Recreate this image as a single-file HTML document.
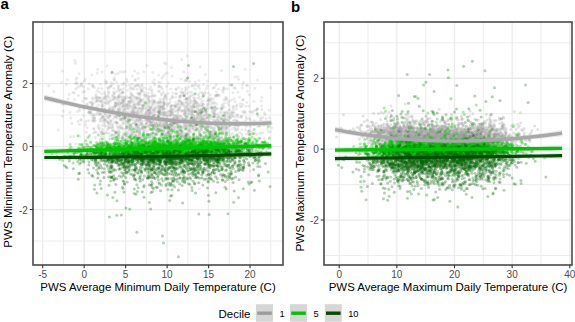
<!DOCTYPE html>
<html><head><meta charset="utf-8"><style>
html,body{margin:0;padding:0;background:#fff;width:575px;height:322px;overflow:hidden}
svg{position:absolute;left:0;top:0;display:block}
text{font-family:"Liberation Sans", sans-serif}
.tk{font-size:10px;fill:#4d4d4d}
.tt{font-size:11.45px;fill:#000}
.lg{font-size:9.3px;fill:#000}
</style></head><body>
<svg width="575" height="322" viewBox="0 0 575 322">

<defs><marker id="mA1" markerUnits="userSpaceOnUse" markerWidth="6" markerHeight="6" refX="3" refY="3" overflow="visible"><circle cx="3" cy="3" r="1.5" fill="#a0a0a0" fill-opacity="0.22"/></marker><marker id="mA5" markerUnits="userSpaceOnUse" markerWidth="6" markerHeight="6" refX="3" refY="3" overflow="visible"><circle cx="3" cy="3" r="1.5" fill="#00c000" fill-opacity="0.33"/></marker><marker id="mA10" markerUnits="userSpaceOnUse" markerWidth="6" markerHeight="6" refX="3" refY="3" overflow="visible"><circle cx="3" cy="3" r="1.5" fill="#006400" fill-opacity="0.3"/></marker><marker id="mB1" markerUnits="userSpaceOnUse" markerWidth="6" markerHeight="6" refX="3" refY="3" overflow="visible"><circle cx="3" cy="3" r="1.5" fill="#a0a0a0" fill-opacity="0.3"/></marker><marker id="mB5" markerUnits="userSpaceOnUse" markerWidth="6" markerHeight="6" refX="3" refY="3" overflow="visible"><circle cx="3" cy="3" r="1.5" fill="#00c000" fill-opacity="0.33"/></marker><marker id="mB10" markerUnits="userSpaceOnUse" markerWidth="6" markerHeight="6" refX="3" refY="3" overflow="visible"><circle cx="3" cy="3" r="1.5" fill="#006400" fill-opacity="0.3"/></marker><filter id="bl" x="-5%" y="-5%" width="110%" height="110%"><feGaussianBlur stdDeviation="0.45"/></filter></defs>
<clipPath id="c33"><rect x="33" y="22" width="250" height="243"/></clipPath>
<path d="M63.42 22V265M104.90 22V265M146.37 22V265M187.85 22V265M229.32 22V265M270.80 22V265M33 241.05H283M33 178.05H283M33 115.05H283M33 52.05H283" stroke="#ededed" stroke-width="1.1" fill="none"/>
<path d="M42.68 22V265M84.16 22V265M125.63 22V265M167.11 22V265M208.58 22V265M250.06 22V265M33 209.55H283M33 146.55H283M33 83.55H283" stroke="#ebebeb" stroke-width="1.3" fill="none"/>
<g clip-path="url(#c33)">
<g filter="url(#bl)"><path d="M122.9 124.3 142.2 129.0 218.7 120.2 137.0 113.5 165.0 127.7 219.1 137.8 105.4 80.5 127.9 106.9 248.4 124.1 221.2 149.5 126.2 125.7 164.6 119.4 137.0 136.5 131.9 130.1 144.0 136.3 222.0 128.5 249.2 118.2 186.5 125.4 197.7 128.1 154.8 112.4 236.2 109.0 171.7 173.8 142.8 136.3 141.4 122.9 150.9 112.9 170.9 162.3 156.4 127.3 194.9 100.2 216.2 124.8 119.8 111.8 169.1 104.0 173.9 109.2 81.3 120.0 174.7 117.9 120.9 128.1 115.1 104.2 193.0 109.8 143.1 99.6 227.3 117.0 134.7 163.9 62.6 104.2 112.6 128.0 158.8 106.1 132.4 95.6 207.7 117.8 182.1 130.8 159.5 111.1 83.3 91.9 81.5 85.4 222.2 104.8 155.2 123.2 213.4 119.9 95.2 108.6 101.9 88.4 199.0 149.7 166.8 148.3 195.7 102.5 79.8 86.0 129.8 102.8 105.4 113.6 108.5 94.0 172.2 121.9 168.4 132.0 99.2 98.1 212.6 143.9 163.1 113.6 79.6 110.5 139.5 114.8 247.6 91.0 156.3 144.2 207.1 117.2 75.3 83.2 75.7 89.0 129.9 107.9 185.6 138.0 193.7 97.5 132.5 123.2 242.3 87.9 96.8 109.6 126.6 96.3 120.6 97.3 212.9 132.4 238.1 125.1 122.6 93.1 163.2 127.1 171.4 105.4 227.0 128.2 142.7 105.3 102.6 107.3 112.0 107.6 139.7 92.7 217.9 139.2 206.1 140.4 163.8 153.4 200.1 67.1 166.4 127.7 224.6 102.8 267.7 129.0 126.3 123.5 185.5 136.2 138.3 78.4 174.6 135.3 219.3 141.8 223.9 116.2 194.3 111.4 148.2 111.0 119.7 132.0 153.2 116.8 210.5 107.7 134.3 128.9 111.0 82.8 110.5 121.3 85.3 98.4 191.0 118.4 219.2 129.2 108.9 92.6 149.8 143.5 88.9 109.0 181.2 143.3 132.6 107.6 122.6 147.3 100.7 98.1 144.3 128.6 183.6 104.7 167.1 127.1 204.9 93.9 123.6 118.2 107.6 117.6 152.3 129.0 139.5 124.4 185.2 148.3 123.1 111.4 105.4 143.1 183.0 123.7 248.6 133.4 207.6 130.0 164.7 135.5 92.8 114.7 226.6 126.5 193.7 119.6 141.5 91.0 154.4 125.1 128.4 102.0 194.4 106.8 179.7 106.8 206.8 127.1 198.2 86.3 131.8 142.2 206.3 133.9 159.6 113.8 104.3 123.3 109.6 109.5 178.0 109.6 187.8 123.1 208.0 129.1 151.0 109.6 145.8 124.3 211.7 133.9 172.1 152.4 244.0 112.4 162.4 88.9 136.1 134.8 171.5 132.2 155.4 95.4 166.9 143.0 127.1 133.2 104.5 102.4 220.2 123.4 143.6 106.0 174.2 147.1 191.0 108.7 138.5 129.3 113.5 92.2 185.2 107.3 252.6 133.6 197.3 102.7 210.7 127.5 219.7 142.2 123.3 122.3 226.5 148.9 114.4 117.3 186.5 139.8 148.5 97.0 118.4 132.6 184.8 99.4 214.2 110.1 215.2 153.6 177.2 123.8 219.1 128.6 149.7 129.3 201.1 126.5 97.4 73.1 148.2 121.1 204.1 145.1 189.7 139.0 216.1 133.2 184.9 80.8 260.2 132.9 84.3 81.0 176.4 147.8 159.0 128.3 149.0 125.5 210.0 131.6 160.2 114.7 153.6 111.4 206.8 126.5 167.1 144.9 178.8 118.3 166.1 121.1 141.9 105.4 192.3 139.2 118.8 90.7 164.2 114.4 208.3 146.0 123.7 99.9 174.8 139.5 129.2 128.5 180.9 127.1 211.4 118.6 75.4 63.3 178.5 125.9 159.4 110.0 124.9 106.5 164.9 124.9 95.3 137.4 213.5 123.1 160.8 156.9 170.7 114.0 131.7 142.4 217.9 118.4 185.5 103.1 144.3 131.0 158.5 108.6 214.7 102.6 248.3 143.8 98.0 148.5 94.8 120.9 162.7 114.9 203.0 142.0 102.4 111.1 101.7 106.8 122.6 101.4 163.6 98.8 224.6 116.8 160.5 134.9 120.2 119.5 147.3 147.5 178.7 109.3 198.9 85.3 187.1 146.8 153.6 109.2 253.7 110.7 245.3 69.3 194.2 85.2 192.7 129.5 154.5 100.2 105.6 97.0 193.8 154.4 112.3 109.6 171.7 125.2 200.5 92.2 238.0 128.0 185.7 112.9 140.9 89.8 237.1 105.1 207.9 145.8 209.8 123.5 171.9 113.7 127.2 105.1 148.1 122.2 129.6 97.3 199.5 135.8 135.9 123.8 191.0 95.2 128.2 119.9 186.9 147.2 261.7 97.2 122.3 137.5 200.6 135.3 148.9 113.2 257.4 108.6 206.7 108.7 119.3 95.1 149.0 103.3 179.9 110.1 177.4 119.5 117.0 118.2 162.8 129.3 199.0 80.5 182.0 104.6 185.1 116.2 228.9 101.5 231.0 113.4 251.0 112.1 186.1 116.7 133.5 104.3 202.7 118.9 167.2 143.0 147.6 112.4 96.0 97.3 173.3 119.3 132.1 119.2 68.2 98.7 170.9 120.6 206.7 142.8 146.6 118.1 179.2 134.2 210.6 145.7 132.8 107.7 89.7 102.6 166.7 103.7 151.4 122.8 169.1 111.3 160.1 116.4 225.6 112.7 70.7 118.1 118.5 96.0 176.8 133.2 137.9 152.4 132.5 116.4 145.3 144.3 137.0 98.2 167.7 142.3 167.7 118.3 155.8 148.6 203.4 115.5 130.1 88.9 171.8 126.3 139.3 94.5 166.3 122.5 132.1 135.7 160.4 124.0 120.0 128.1 171.6 109.2 126.1 104.4 205.4 92.0 204.8 137.2 124.6 116.3 190.7 132.6 215.8 137.7 102.9 116.5 227.2 113.4 164.0 107.5 186.1 102.3 201.5 128.4 246.1 126.2 128.6 122.6 114.1 175.0 161.2 118.8 170.3 119.4 178.8 130.8 137.6 113.0 163.4 99.6 211.7 145.7 105.9 104.0 186.2 133.4 97.2 112.3 116.8 116.6 167.8 124.7 172.9 93.1 201.7 124.8 169.8 124.8 246.1 143.5 143.3 87.4 106.0 102.6 157.2 118.2 98.4 125.0 237.9 129.8 124.1 84.1 250.2 139.3 113.0 130.3 190.0 96.5 185.6 139.8 161.4 106.5 135.2 80.5 101.3 132.6 172.7 138.6 67.3 79.6 165.0 95.3 207.2 86.0 165.4 114.8 123.6 110.4 191.3 142.8 220.8 128.0 166.1 120.3 132.1 109.8 210.8 138.8 214.3 127.3 203.4 104.3 107.2 82.0 128.5 103.6 184.2 106.1 186.5 93.4 247.2 159.3 235.1 88.3 136.0 116.2 118.2 143.4 217.8 117.1 170.8 106.7 169.4 130.4 166.0 97.3 168.5 103.2 125.4 71.5 214.4 123.6 118.0 112.6 210.4 131.5 240.5 142.6 197.6 115.0 112.3 72.2 157.2 129.8 193.4 137.0 182.8 118.4 210.4 135.5 116.3 103.3 165.5 124.1 189.9 130.9 208.2 132.3 231.2 122.4 133.5 89.1 171.1 155.8 213.1 88.3 164.0 112.5 239.5 97.0 178.8 104.3 245.2 112.4 102.0 125.5 151.6 133.5 124.3 99.3 172.7 110.0 203.5 84.6 149.9 177.0 130.4 126.3 131.7 163.2 135.1 79.4 177.5 133.8 185.9 148.8 161.5 107.3 160.6 105.7 170.9 143.7 238.6 136.9 153.0 122.4 219.3 95.6 170.2 134.7 176.5 122.1 130.0 97.2 208.1 121.0 179.0 128.4 163.0 118.1 194.9 98.3 214.4 123.6 137.4 98.0 154.7 137.0 160.4 125.1 120.8 125.7 211.1 104.6 158.6 139.8 186.4 152.8 171.1 112.5 240.3 103.5 216.3 84.5 230.1 154.0 255.4 147.3 186.4 98.2 155.5 107.1 147.6 126.5 145.8 112.5 108.2 91.0 122.6 103.1 90.7 141.4 240.5 124.4 154.8 115.2 179.6 100.6 138.4 93.8 203.3 120.5 200.4 112.7 164.0 126.6 150.5 134.2 134.4 111.7 139.0 143.0 181.2 159.6 126.0 140.0 195.7 111.7 251.2 122.2 147.7 119.8 198.4 94.3 241.0 117.2 77.6 111.6 93.0 86.5 138.8 116.9 225.4 153.9 209.8 135.0 210.9 133.7 266.1 118.5 128.9 117.5 199.0 113.5 121.5 114.1 172.9 125.9 172.0 127.0 208.6 126.7 133.5 123.5 160.3 146.3 111.5 127.6 134.1 106.2 257.3 144.6 225.5 99.2 200.6 116.3 172.2 124.1 223.4 153.1 137.6 120.2 184.4 128.1 214.8 114.0 94.5 87.5 195.1 103.9 201.6 109.7 224.3 107.1 182.0 89.0 48.7 85.8 204.5 111.5 222.6 133.9 209.2 121.3 228.3 113.0 204.5 153.9 223.9 88.0 116.2 115.6 148.3 105.4 165.5 160.5 151.2 115.9 199.2 143.5 230.0 125.7 185.2 142.8 186.4 141.9 211.1 154.6 108.1 88.6 136.7 130.0 165.1 140.6 247.6 152.3 189.3 125.1 149.1 89.2 112.9 114.5 193.1 139.3 171.7 123.3 147.8 131.0 189.7 126.9 171.4 134.9 226.7 98.0 117.9 73.4 102.0 117.6 126.2 132.3 260.7 119.6 131.7 113.6 164.0 101.7 246.2 133.9 143.3 120.7 242.2 123.9 109.5 114.9 228.7 116.5 86.9 98.6 127.0 106.8 191.2 155.3 214.2 113.4 234.2 120.2 171.0 155.6 216.5 122.3 169.2 133.0 170.8 122.9 106.6 132.8 257.3 109.2 160.6 107.2 160.0 100.9 96.9 100.3 98.6 100.3 78.4 95.2 171.4 97.7 205.4 122.3 204.1 106.9 231.9 145.4 212.5 108.8 224.3 126.7 202.5 93.0 213.6 113.8 176.4 136.8 97.1 101.3 152.6 126.1 191.8 101.0 112.7 111.2 263.8 125.3 167.1 119.9 102.1 130.9 143.6 115.1 136.3 120.3 148.7 116.3 130.8 95.1 173.4 142.3 123.2 115.7 216.9 95.7 131.1 118.3 152.8 125.0 140.3 112.8 261.3 101.1 124.7 112.8 116.3 91.6 153.4 136.9 110.3 86.9 163.1 125.0 137.0 104.4 148.1 98.4 151.0 129.9 152.6 81.9 186.6 117.2 165.3 127.1 116.6 82.3 153.4 104.3 161.9 78.1 164.2 118.4 132.2 138.6 258.0 115.9 187.6 154.2 114.8 97.0 105.0 109.2 151.5 161.0 175.1 123.2 164.4 136.6 221.1 157.5 145.3 134.3 169.0 135.9 219.2 121.7 188.3 139.7 186.9 99.0 189.8 81.6 118.4 103.0 78.1 121.3 177.9 121.5 182.6 121.5 214.6 139.6 220.0 128.9 208.9 99.6 196.1 137.4 197.3 106.1 171.4 124.9 192.6 140.6 169.1 125.6 164.3 103.7 141.1 118.7 136.0 127.2 211.2 127.6 217.5 142.3 191.4 118.7 133.5 99.0 175.5 102.2 113.9 79.4 119.1 101.6 208.4 164.2 238.1 116.9 201.3 148.4 154.0 126.5 186.9 135.4 84.7 98.1 166.8 121.2 63.3 111.2 204.4 121.9 165.5 149.2 159.2 137.5 150.0 107.3 159.9 86.2 157.1 130.2 186.5 98.7 139.4 121.3 132.0 94.3 195.9 145.1 227.9 119.7 120.7 92.9 222.9 145.9 176.7 121.4 114.2 130.7 160.6 125.7 194.1 116.5 127.8 121.5 231.0 136.5 145.0 115.0 204.6 137.4 222.2 131.2 129.6 129.8 174.1 117.5 157.3 134.6 99.1 128.0 139.3 135.3 186.8 144.4 185.6 115.4 150.8 101.6 177.0 124.8 96.3 132.5 205.2 153.0 117.4 122.7 171.8 129.2 108.8 112.5 139.6 119.1 128.9 106.2 137.2 132.2 218.5 89.1 144.2 137.1 201.2 129.7 122.6 118.3 264.1 138.7 166.1 160.0 203.0 104.3 181.7 59.4 190.6 102.4 113.9 146.4 159.3 119.6 206.3 128.4 209.2 102.1 220.1 121.9 156.1 123.2 194.0 137.5 246.0 116.9 154.7 125.9 194.4 117.9 146.2 111.1 151.2 118.2 161.1 120.9 101.9 117.2 190.0 124.0 221.3 149.1 130.8 155.8 128.8 119.9 171.4 108.9 83.6 115.7 162.6 134.8 200.7 122.8 145.6 137.4 146.6 137.2 268.2 132.0 182.0 120.9 195.6 124.1 144.8 95.3 193.8 129.4 159.5 147.4 118.2 133.4 143.8 130.4 128.0 120.2 116.8 136.8 148.5 109.5 172.0 112.5 178.7 137.0 195.8 102.5 222.2 127.3 79.3 124.3 169.4 131.3 85.9 121.2 164.3 102.4 132.5 127.9 76.9 84.1 92.2 102.4 175.2 122.5 210.9 115.1 90.4 113.0 223.9 132.1 120.0 137.6 113.2 96.0 172.0 76.1 99.2 128.9 163.8 119.8 186.5 89.1 270.6 87.8 135.0 86.6 214.3 124.7 180.8 96.3 188.0 120.4 123.6 132.6 202.9 116.8 153.2 110.2 158.5 91.6 160.4 129.4 219.9 139.3 207.3 116.4 252.7 112.5 62.4 70.9 219.8 116.6 180.7 130.1 173.0 119.7 221.4 70.4 158.2 153.8 122.7 114.4 138.9 84.9 86.8 104.2 186.6 137.9 143.2 127.5 106.9 96.6 187.4 139.3 166.1 115.1 102.2 109.4 123.1 102.0 122.4 99.1 164.4 104.5 102.7 105.5 129.5 101.4 117.0 114.0 156.3 134.9 64.3 104.1 196.7 111.9 122.1 96.4 185.4 87.6 126.4 120.7 206.5 141.2 152.2 136.5 158.9 114.8 153.3 154.8 163.5 145.2 221.9 119.0 152.2 112.9 167.1 147.8 97.2 98.1 152.8 117.0 114.3 99.0 194.0 102.9 164.9 122.2 92.2 107.9 100.7 101.3 196.3 141.6 142.8 107.1 177.6 149.0 178.5 100.8 182.7 111.3 92.6 120.6 125.3 114.3 230.3 133.6 115.4 105.9 208.4 100.0 164.4 123.8 197.0 117.2 152.0 95.7 134.8 117.2 236.3 106.3 80.8 119.4 218.5 127.5 195.5 107.2 164.4 97.1 184.6 143.3 152.3 119.5 234.1 99.1 115.2 105.4 140.0 130.6 164.6 112.4 239.7 132.7 213.4 99.0 152.8 132.4 112.1 130.8 237.0 121.1 142.0 116.9 147.3 117.6 169.7 135.8 123.0 100.4 127.4 117.5 147.8 137.4 166.0 63.8 119.6 103.3 136.3 125.1 202.4 106.4 140.2 133.1 122.5 91.8 110.9 85.8 233.2 109.6 223.1 105.1 194.2 100.9 242.5 84.8 187.4 56.1 191.9 162.8 96.1 94.6 128.4 113.8 188.9 87.1 200.9 116.6 249.7 111.5 141.5 121.3 186.3 98.7 140.8 100.1 246.8 118.8 254.8 88.2 97.7 69.4 123.6 101.8 226.1 123.0 203.4 131.9 137.9 73.3 130.5 127.9 115.8 102.7 152.3 129.6 204.7 135.0 206.7 135.7 129.6 84.9 165.8 125.2 231.5 153.2 98.0 127.0 208.1 147.5 196.2 128.7 176.0 129.1 126.3 85.8 139.5 132.2 170.0 140.2 92.7 103.4 223.6 87.5 121.2 119.0 186.0 133.8 137.0 89.3 129.4 144.8 170.7 119.8 163.8 126.3 188.1 108.9 191.4 112.3 238.9 125.6 214.9 128.9 180.8 119.4 150.9 123.0 136.2 125.1 192.0 120.3 169.8 116.0 176.3 88.7 119.2 104.9 151.7 133.7 125.2 108.7 139.2 127.9 222.4 90.2 157.5 111.3 173.8 130.8 131.5 132.1 146.1 103.9 167.1 134.6 191.2 143.6 122.5 115.1 194.1 137.1 220.1 123.0 210.5 116.8 158.7 85.7 176.4 93.8 121.4 89.6 181.5 133.5 102.5 99.8 258.5 139.8 143.3 125.7 199.5 132.4 125.5 135.5 146.2 153.3 158.4 102.4 206.4 121.3 186.0 136.1 118.5 108.0 91.1 112.5 197.4 108.3 175.0 127.1 184.8 111.8 226.6 166.6 234.1 87.8 133.5 101.8 211.8 134.4 141.6 138.7 214.2 164.5 220.6 132.3 237.0 136.5 163.6 125.5 225.1 129.6 151.5 117.2 160.5 153.5 137.8 150.2 193.9 106.7 216.0 124.3 203.1 100.7 165.6 143.0 166.6 127.1 228.1 146.3 205.3 74.6 144.9 151.7 205.8 143.4 135.3 108.6 61.7 82.4 75.7 143.8 166.8 137.9 145.3 159.8 155.9 102.9 148.0 106.8 201.9 127.1 178.7 142.1 202.5 124.2 151.7 122.2 191.5 117.7 115.5 132.9 166.1 98.9 184.2 141.1 232.8 133.7 146.2 122.5 214.0 107.0 170.8 122.0 223.0 92.3 208.5 100.5 153.6 128.8 114.2 94.0 190.8 142.5 237.9 148.1 158.9 87.0 231.8 112.6 79.1 73.8 83.3 108.9 227.6 132.8 188.9 136.0 185.3 90.4 95.9 96.5 162.5 149.6 207.1 140.6 176.9 136.0 110.1 136.2 213.6 103.6 208.1 126.3 97.9 97.4 195.0 119.2 127.1 145.9 142.1 128.0 124.3 133.8 105.0 93.7 149.5 110.7 163.7 130.8 118.6 86.9 152.8 72.4 191.5 140.3 199.5 157.5 176.6 116.4 265.1 114.5 103.0 144.6 130.6 139.0 227.3 140.5 106.6 99.7 137.0 111.3 153.9 143.6 132.2 133.8 123.3 136.1 173.9 120.6 154.2 79.6 132.6 88.4 125.1 98.3 217.1 145.2 144.8 97.1 169.7 134.2 209.3 138.0 180.6 100.9 172.2 124.6 220.9 109.0 123.6 103.4 137.8 128.0 164.0 116.3 150.6 107.1 129.9 116.4 127.9 137.2 140.4 92.9 250.8 134.2 169.3 134.9 177.1 131.1 119.4 96.2 191.9 117.9 195.0 88.7 179.8 149.0 211.7 131.5 193.1 119.9 234.8 128.8 193.3 149.5 162.4 138.6 138.0 126.9 92.4 118.1 200.4 126.4 192.7 128.0 93.8 129.0 154.4 150.6 243.0 99.4 105.5 83.4 152.1 118.0 133.7 96.2 130.8 98.2 101.9 93.8 217.7 135.5 96.4 107.1 104.7 120.1 207.3 153.0 143.2 141.6 132.6 111.5 202.7 123.0 124.3 105.7 98.4 108.5 193.4 119.2 221.0 118.0 138.7 136.4 156.9 133.0 181.1 78.9 95.6 102.1 231.2 100.3 158.4 128.5 175.3 119.3 123.9 88.5 114.1 106.5 224.7 113.1 153.7 101.5 129.7 115.5 247.5 146.6 248.2 148.2 263.8 147.5 189.8 148.6 180.6 160.4 159.5 141.2 212.3 136.3 124.0 83.1 210.5 138.8 134.0 114.0 191.8 125.6 147.1 120.2 95.0 131.8 206.2 113.5 107.5 121.5 169.9 99.4 200.4 117.7 213.0 148.4 190.4 106.0 142.7 140.3 177.8 153.3 246.7 85.2 138.3 104.8 83.4 86.8 141.4 123.5 92.9 116.0 223.5 140.7 179.4 130.8 107.8 122.6 126.4 143.7 148.0 93.2 219.8 141.8 214.6 106.7 127.0 136.3 193.2 120.2 194.9 140.2 254.5 132.8 159.8 122.3 225.3 134.2 259.9 126.0 241.8 129.7 195.8 139.8 148.9 118.7 188.2 121.3 174.5 105.7 163.2 124.5 253.5 146.5 161.8 132.0 153.4 120.1 169.8 125.0 163.0 106.3 106.0 82.5 135.6 108.1 193.2 113.7 200.1 110.6 205.4 127.6 215.1 121.3 197.8 106.3 255.9 110.4 175.2 149.9 229.4 126.3 195.4 126.2 206.5 118.0 139.6 87.6 85.2 79.1 212.5 137.0 122.2 84.5 150.8 125.6 88.3 88.8 222.5 115.6 112.5 110.5 212.6 135.7 139.5 97.2 200.0 108.5 164.6 146.2 225.9 97.2 137.9 117.5 206.2 111.2 211.4 136.3 191.5 122.0 150.2 119.0 148.3 170.6 216.1 95.0 171.0 109.0 125.2 116.4 114.4 77.8 159.5 90.9 118.3 88.5 210.1 142.7 101.9 71.9 144.8 108.2 137.3 85.2 152.2 133.1 219.3 124.1 181.8 135.5 104.6 119.9 188.1 137.4 139.1 132.9 233.3 106.2 211.2 125.4 124.2 118.8 178.5 156.5 128.5 112.4 140.9 138.3 160.8 101.5 201.2 129.3 118.1 104.7 146.5 123.6 155.9 134.8 122.3 137.6 192.8 105.6 118.7 112.3 218.8 144.8 224.2 120.3 137.8 98.1 173.5 119.3 170.5 106.6 173.7 128.6 101.2 146.4 161.3 144.5 218.6 130.0 181.5 118.0 118.5 97.4 154.5 83.3 145.2 117.7 179.5 120.1 114.1 97.7 190.0 118.4 197.6 128.9 183.7 120.1 202.9 94.0 176.4 122.6 183.2 152.8 210.5 95.0 216.7 126.1 173.0 97.6 155.4 129.7 205.8 161.2 172.2 132.4 163.3 147.3 177.9 118.4 134.6 113.2 251.6 131.8 233.0 92.8 190.4 143.1 86.2 132.3 228.1 121.6 269.4 110.3 201.3 121.3 201.3 137.7 124.8 97.4 206.0 162.1 238.8 148.0 151.0 124.9 159.3 154.5 198.0 124.2 111.4 121.5 135.5 120.8 222.6 123.1 229.8 115.0 196.1 120.5 203.1 122.3 199.7 158.7 154.5 124.9 102.7 128.9 136.7 130.3 163.5 167.9 190.1 144.0 148.9 126.2 81.5 84.0 170.3 144.2 128.2 148.8 246.5 124.3 150.9 87.1 162.9 106.7 189.3 129.1 102.2 105.2 207.8 138.3 224.8 120.2 127.7 121.3 214.6 87.3 192.1 138.8 116.0 104.8 116.4 106.4 170.3 123.6 147.1 115.0 120.3 71.8 172.4 146.4 166.4 116.5 160.3 102.7 129.0 133.5 192.0 145.2 162.2 151.6 199.7 88.5 170.3 111.2 119.1 126.0 200.0 133.4 108.7 118.0 215.3 117.3 185.9 138.3 212.0 111.5 159.4 106.7 183.8 95.9 69.2 94.6 103.5 97.6 142.9 109.0 122.2 92.8 182.1 110.8 185.9 126.1 107.7 122.3 181.2 131.9 183.2 119.8 181.3 136.5 125.3 115.8 122.3 128.3 183.7 120.8 149.9 119.7 118.8 109.2 246.9 102.6 162.6 118.5 140.0 148.8 72.8 92.3 183.3 119.3 201.9 118.5 145.8 119.2 157.9 132.1 137.7 141.7 102.5 102.0 143.8 102.8 145.4 148.9 211.1 133.8 149.3 154.1 139.7 148.4 163.2 102.8 176.8 124.1 142.3 90.5 230.7 152.4 236.5 121.5 139.9 99.0 233.1 107.3 126.6 79.2 149.7 110.4 168.2 112.0 184.3 113.8 186.3 108.9 158.4 113.5 223.3 123.9 193.2 125.7 152.2 105.9 189.7 130.4 155.3 134.4 261.5 105.9 168.6 125.1 186.0 127.8 82.6 100.9 94.4 118.2 150.2 135.2 141.1 99.8 189.9 100.7 139.3 133.8 208.1 126.9 130.9 106.0 154.3 96.0 261.8 109.4 256.8 109.5 185.9 129.1 235.5 119.6 181.9 101.9 151.0 138.4 158.4 102.1 92.9 104.1 175.5 131.6 195.2 111.0 138.8 107.9 177.6 131.7 157.3 122.0 182.4 135.9 224.2 127.5 228.0 143.7 140.6 143.0 175.4 105.3 142.4 145.5 214.8 148.5 107.6 129.4 115.5 74.1 103.5 137.7 195.7 130.3 242.1 136.6 175.8 106.2 218.0 137.1 152.9 95.4 137.3 116.5 144.5 92.7 133.3 109.7 207.4 123.8 182.0 144.1 159.0 129.9 201.1 125.6 236.2 129.2 134.6 105.1 178.3 121.8 108.0 96.3 98.5 112.6 124.6 119.7 157.6 102.8 207.9 117.5 105.4 95.8 205.0 115.4 139.0 125.9 197.2 118.2 177.8 112.9 173.1 118.2 151.6 90.9 137.0 153.6 221.0 118.8 205.2 120.6 99.2 92.0 69.9 112.6 180.3 116.3 187.7 134.2 109.4 139.0 223.8 141.9 127.4 90.5 217.8 149.1 166.3 113.0 101.2 136.8 112.6 98.8 121.0 102.7 199.3 120.5 241.8 133.9 66.4 103.1 142.4 111.4 127.6 121.6 169.3 158.3 105.5 98.5 215.7 122.8 222.4 126.3 270.2 131.7 157.0 182.0 218.5 126.8 208.0 130.6 134.8 107.3 198.6 118.3 130.6 129.5 197.5 113.4 171.7 124.4 142.0 113.4 115.8 116.0 213.9 113.2 143.0 105.6 53.9 91.4 184.4 93.1 160.1 98.8 231.7 114.7 166.1 128.0 232.2 128.6 158.9 117.4 230.0 122.1 258.7 137.9 163.8 139.2 186.1 112.7 189.6 120.5 109.2 109.2 189.7 153.2 109.3 142.5 181.3 116.2 202.2 104.2 208.2 104.0 197.8 113.2 109.4 97.9 219.6 150.2 215.4 106.8 142.4 107.6 163.3 161.1 226.9 100.1 130.8 92.6 113.1 119.3 210.4 145.2 211.1 98.5 239.4 121.9 114.5 135.0 140.2 129.8 197.7 112.5 206.2 131.5 191.4 91.9 129.9 128.7 192.7 107.2 98.7 88.3 153.2 114.7 159.0 107.7 214.6 135.1 161.3 94.9 186.9 119.3 188.1 132.9 196.1 121.3 254.0 101.3 155.3 121.3 186.8 149.1 193.4 139.9 137.7 93.2 140.5 118.6 236.7 140.6 224.5 118.9 123.0 106.1 95.5 98.5 180.1 130.0 173.1 118.2 114.6 109.3 109.7 109.2 167.3 115.9 153.7 117.3 242.6 122.2 93.4 133.0 187.0 139.0 210.9 100.8 185.0 122.5 116.6 123.1 112.2 95.5 238.7 79.2 158.7 75.0 119.0 112.8 141.4 110.7 197.6 137.7 241.7 106.6 187.1 101.4 185.0 129.5 177.1 146.2 238.0 138.6 222.4 118.7 169.7 147.1 229.2 105.5 146.1 118.0 181.6 131.9 146.0 117.0 223.2 138.8 139.6 102.1 205.8 126.6 143.6 105.5 180.7 91.9 183.8 125.7 194.6 119.6 178.9 163.8 139.6 103.4 208.0 114.5 218.0 114.5 182.2 131.4 172.9 130.5 131.9 161.0 181.5 120.4 88.7 120.5 233.3 121.1 148.6 115.0 149.6 113.8 188.9 141.8 138.0 102.4 237.4 115.3 219.6 132.8 172.3 144.4 170.1 130.0 226.5 152.0 153.2 116.5 199.1 132.1 135.4 85.6 195.7 105.1 215.2 135.7 164.5 129.2 197.4 129.6 147.1 134.1 148.9 102.0 170.6 128.8 172.3 164.4 198.6 131.1 119.1 160.3 185.1 124.3 192.1 111.1 94.5 117.7 114.4 144.4 168.2 127.6 118.3 97.6 79.5 108.2 175.8 153.3 100.7 132.1 166.2 121.0 235.7 125.7 149.2 113.2 215.4 138.1 197.6 182.5 175.1 126.8 92.7 85.0 172.6 105.5 99.2 143.4 122.0 127.7 216.6 139.0 141.9 89.5 223.9 119.8 181.3 153.4 181.7 135.8 109.3 86.9 163.1 109.0 225.5 125.7 153.7 149.1 119.6 145.7 134.6 71.1 128.1 123.0 176.8 143.8 187.9 130.6 123.2 71.9 118.2 85.4 104.2 98.6 145.9 127.0 181.6 105.1 184.4 95.3 138.8 117.9 226.6 132.1 127.0 112.6 135.5 108.1 222.0 134.3 174.6 161.1 132.5 84.1 242.4 111.4 185.5 136.2 150.2 113.1 190.6 106.7 114.2 93.1 135.7 122.8 170.6 129.0 192.4 127.0 208.7 114.8 155.9 162.4 161.5 87.3 178.9 126.7 180.2 121.9 108.5 125.4 180.3 135.4 135.2 113.0 193.1 127.6 197.6 123.0 162.1 133.5 187.6 104.0 141.9 128.2 184.6 114.6 135.3 135.0 110.6 100.5 121.2 103.2 221.4 112.4 155.7 133.4 214.6 123.9 195.2 116.3 114.0 88.5 257.8 126.4 199.4 114.7 157.5 119.3 178.7 139.1 208.8 149.8 159.1 144.0 204.7 108.1 185.4 161.6 102.9 116.8 172.2 145.5 218.8 124.7 214.0 130.4 197.8 103.4 203.6 119.0 185.3 139.1 135.7 103.5 135.7 125.5 192.3 111.6 168.2 131.1 103.2 148.0 156.5 107.7 160.9 126.3 243.5 82.2 132.3 113.1 150.7 144.7 189.6 130.8 77.0 77.8 100.8 113.6 127.3 126.2 120.9 118.2 253.1 123.0 142.6 127.3 118.5 134.2 136.9 143.4 124.0 96.9 183.7 71.7 108.8 103.6 152.2 93.2 198.9 110.2 158.8 114.0 170.2 146.7 145.6 116.9 208.9 118.7 166.5 123.3 168.7 127.4 117.9 112.0 104.6 111.2 167.9 125.6 219.1 132.7 237.6 125.6 269.5 117.8 177.9 115.4 197.5 115.7 242.8 104.4 176.2 110.7 235.1 102.0 179.8 97.7 167.6 134.5 204.2 122.6 112.6 111.9 117.9 110.0 203.5 136.4 132.6 76.0 233.8 158.3 215.8 134.2 154.5 108.1 177.6 151.3 121.5 120.0 158.1 116.8 238.4 137.1 191.5 111.4 185.3 153.8 155.6 140.5 216.3 91.7 183.5 119.3 228.5 120.0 209.7 158.1 109.5 123.4 216.3 114.3 202.4 144.4 227.7 139.9 193.5 105.8 126.9 135.9 225.0 123.6 149.8 124.8 128.7 138.8 163.2 119.6 124.6 109.8 211.5 160.2 152.6 100.1 238.5 141.1 123.8 129.2 176.7 118.2 113.0 99.9 178.0 103.4 179.0 149.0 177.3 122.3 84.4 91.2 178.5 133.1 189.3 134.8 139.5 118.1 154.4 101.3 146.7 102.8 213.4 116.7 118.8 116.2 93.9 128.6 228.8 138.0 201.7 154.4 165.5 96.4 148.0 110.2 235.8 124.8 184.7 126.0 91.0 101.9 136.0 151.3 179.7 96.3 201.8 110.7 209.6 137.6 149.6 121.1 195.7 84.4 206.1 108.6 215.4 96.6 117.2 111.2 155.5 134.1 142.5 124.0 135.7 97.2 145.4 113.2 182.0 131.7 195.8 171.4 130.3 101.1 188.0 104.2 206.0 123.5 236.4 122.8 217.0 125.3 195.3 145.4 186.6 116.5 135.5 138.5 232.7 125.1 201.8 119.0 182.0 121.4 86.9 127.6 170.1 137.5 171.9 114.5 127.1 139.4 164.5 138.1 206.5 114.4 153.4 128.4 148.5 110.5 89.9 109.7 137.2 113.9 189.8 128.3 172.2 141.0 266.0 150.0 206.3 111.4 241.6 115.9 199.4 137.3 237.8 92.2 74.5 99.6 123.0 112.3 108.3 101.2 225.4 138.3 130.6 127.5 200.8 133.9 104.3 113.3 154.1 102.0 227.1 111.6 131.1 131.5 97.1 90.8 146.9 65.4 212.1 138.1 176.0 93.4 150.5 141.5 100.1 119.2 112.7 109.9 180.5 163.1 177.8 125.4 158.7 112.3 196.0 101.4 241.2 116.6 191.0 113.8 128.5 154.8 210.5 124.3 156.9 123.9 163.4 76.1 242.8 100.2 226.7 137.9 81.2 83.3 140.3 137.3 194.7 112.0 191.5 140.4 198.2 98.3 127.2 105.1 175.9 96.9 174.8 106.7 254.4 124.6 164.8 132.3 109.9 116.4 203.7 121.5 135.4 106.8 126.3 104.6 169.8 120.4 191.7 109.6 127.9 130.8 155.2 115.0 211.7 150.0 187.7 116.6 188.9 125.5 182.0 94.8 170.9 129.9 103.1 121.3 79.4 136.2 116.7 99.6 238.3 149.2 179.9 96.1 184.7 146.0 190.3 137.0 85.6 146.1 117.9 113.6 174.6 111.6 141.4 85.9 124.6 100.8 209.3 121.9 153.2 130.3 170.2 124.9 186.1 80.8 227.2 88.7 163.8 104.8 180.4 144.0 192.3 117.2 177.7 107.0 223.4 143.3 146.2 107.9 133.9 104.9 216.3 123.5 111.4 124.8 89.2 83.4 144.6 127.1 188.6 111.3 140.6 100.1 179.4 133.3 185.1 110.8 165.5 94.7 198.0 110.1 201.9 127.4 137.7 110.6 170.3 123.5 117.1 123.5 236.7 123.4 128.5 119.1 137.6 127.1 62.6 116.3 177.5 146.3 161.5 111.8 163.6 130.3 189.9 103.5 184.3 122.2 199.6 119.3 213.4 128.8 178.8 101.0 131.3 141.8 148.1 118.4 163.3 112.3 193.2 139.0 110.3 120.0 149.7 123.7 75.0 60.4 111.4 85.8 151.9 103.8 186.4 79.4 247.6 85.8 194.1 106.7 155.2 115.8 218.1 148.3 215.4 144.0 225.7 130.1 245.5 129.8 163.1 108.2 241.0 141.8 163.2 102.3 164.9 133.0 130.6 115.5 129.8 136.5 176.6 118.0 144.1 151.6 259.8 125.2 157.7 105.2 147.0 150.8 94.4 114.5 174.6 139.6 140.7 124.9 220.8 137.2 189.0 110.0 224.1 89.5 138.2 108.4 191.3 125.0 199.4 188.9 115.0 131.8 250.4 119.7 118.2 128.0 215.2 111.0 173.0 114.4 167.3 119.1 210.2 123.9 130.2 105.6 130.9 102.5 229.5 136.1 123.9 109.0 100.3 139.3 110.1 101.6 76.9 82.2 171.5 106.1 196.6 120.8 235.6 116.6 183.8 109.7 140.0 119.9 144.0 71.8 161.7 114.1 112.9 108.0 210.3 132.6 188.1 107.8 153.0 119.4 153.5 102.7 121.1 103.9 164.3 144.8 192.9 120.6 145.5 101.6 149.2 100.2 216.9 120.1 58.2 129.9 180.8 137.3 192.0 85.8 185.5 109.0 149.2 96.2 250.2 170.7 136.5 114.9 97.1 100.6 148.0 116.0 186.3 106.3 140.0 94.5 128.5 101.6 216.7 141.8 122.0 143.2 149.9 121.6 128.5 145.2 212.8 123.7 208.4 93.1 221.5 138.1 136.3 100.0 164.7 108.8 212.7 131.3 207.7 123.5 227.5 142.9 147.6 118.1 138.0 104.2 157.8 131.7 156.4 119.8 129.1 121.0 207.1 106.1 76.0 79.2 100.3 121.5 167.1 139.5 188.9 114.3 106.5 114.7 121.1 109.1 130.9 97.9 92.6 105.7 224.0 112.3 110.4 138.9 181.0 126.9 205.0 127.5 170.3 115.4 109.0 109.4 137.4 120.0 193.9 149.3 162.3 113.1 74.3 93.1 90.9 113.9 217.1 120.3 106.2 120.1 188.9 138.3 128.6 125.4 102.0 134.6 249.0 134.8 123.7 150.8 119.7 111.0 144.2 94.7 206.2 112.1 178.9 124.1 195.1 131.2 137.6 145.2 187.4 126.6 146.3 95.3 159.8 110.1 73.7 136.5 118.4 143.8 214.8 120.2 159.7 146.7 216.2 154.1 246.0 106.2 106.8 144.3 234.7 127.1 233.4 116.3 170.5 102.1 121.4 140.7 162.1 121.8 207.1 100.9 202.4 158.3 216.4 142.3 158.3 123.8 178.4 128.2 129.6 124.3 167.2 105.6 110.3 115.3 116.9 121.8 223.2 150.2 123.6 105.2 118.5 100.1 221.7 137.6 163.5 92.3 158.1 125.4 149.2 116.1 136.8 118.6 237.3 120.9 171.8 121.1 234.9 77.0 117.2 113.1 174.5 115.3 168.1 83.1 167.2 72.7 229.5 140.5 121.7 99.7 158.0 117.6 130.2 111.7 160.1 122.6 153.0 121.2 109.6 106.7 99.3 114.5 143.8 105.3 145.9 88.5 104.4 119.3 167.9 132.6 198.0 124.2 164.3 63.1 143.0 108.9 143.4 162.7 183.4 136.1 180.8 145.8 91.6 105.5 139.7 111.2 229.3 130.4 183.6 136.4 194.9 139.3 142.2 84.6 249.4 130.3 123.8 122.8 132.5 112.8 94.1 117.3 217.4 108.5 171.3 133.9 175.3 144.8 171.0 111.2 162.9 120.4 146.3 123.8 155.4 142.1 85.4 124.6 205.4 119.6 100.8 114.1 229.3 109.5 238.0 135.1 188.1 156.4 119.0 113.1 137.9 112.3 127.0 108.4 219.3 122.1 106.8 141.4 224.4 115.0 129.7 161.8 149.0 100.8 216.0 123.1 222.1 107.7 175.0 150.7 103.1 109.7 133.6 147.9 201.6 105.7 178.6 121.4 246.5 148.1 166.6 86.2 154.0 124.8 186.2 142.7 186.7 154.1 218.5 94.9 133.2 117.6 122.4 119.4 159.4 113.4 167.0 124.3 182.3 103.3 192.6 144.0 201.7 118.9 216.6 108.8 172.8 143.2 254.4 120.6 224.1 99.8 118.6 137.7 193.5 104.1 123.2 105.9 126.2 112.2 169.3 113.7 230.1 117.8 180.6 102.6 140.6 101.1 229.7 145.6 212.1 128.3 139.7 145.7 169.8 110.5 162.0 109.7 174.1 129.6 205.7 124.0 115.1 97.4 199.6 111.4 204.6 117.8 135.5 97.4 232.4 152.8 225.6 133.3 249.4 94.7 115.6 121.9 165.8 153.0 194.6 124.2 225.7 128.0 114.8 106.8 179.7 139.3 141.5 108.9 118.4 130.5 200.2 111.9 158.5 111.6 153.7 157.1 147.1 137.0 193.2 111.7 226.6 119.4 120.2 119.8 145.4 127.4 105.2 108.9 199.1 96.4 175.7 106.9 77.8 87.2 178.7 87.5 226.1 139.6 145.3 139.6 151.3 123.1 178.5 110.2 171.1 144.5 166.8 125.8 125.1 115.8 233.4 113.2 231.2 144.5 171.3 67.6 181.6 110.9 187.2 106.1 229.3 125.2 150.4 108.6 192.1 85.8 156.3 130.5 133.9 120.6 117.7 139.6 117.2 126.8 218.8 136.9 149.5 117.1 134.0 111.5 149.8 121.8 147.6 134.8 135.6 135.6 173.0 120.9 166.7 126.7 190.8 143.6 225.0 115.3 212.1 109.6 153.5 114.8 235.7 130.4 192.6 125.8 177.5 133.3 138.9 102.5 188.9 139.7 194.1 100.4 177.6 117.7 128.7 160.5 229.6 84.7 170.1 134.4 260.5 118.0 170.1 131.1 169.3 138.3 175.5 104.9 128.6 104.5 157.7 112.3 153.1 116.1 179.5 121.6 181.1 133.4 183.2 133.8 234.3 135.8 119.2 109.2 206.6 122.8 204.9 114.3 112.9 126.6 222.5 108.9 218.7 117.0 152.1 156.3 207.8 124.7 160.6 82.5 167.2 122.1 206.3 129.6 193.8 133.9 176.0 115.3 203.7 121.9 221.6 119.2 225.3 119.3 175.0 141.1 156.4 126.8 92.7 99.3 151.4 136.1 177.0 118.7 214.7 111.0 156.8 127.2 219.9 112.5 71.9 123.6 139.7 138.4 150.0 143.8 231.9 112.1 161.4 127.3 191.5 114.3 154.7 141.6 179.3 108.0 207.3 132.3 163.9 114.8 179.8 122.7 96.5 114.4 219.2 138.6 271.0 123.4 131.0 134.4 195.4 82.1 151.8 89.7 107.0 65.7 174.9 136.0 250.2 126.2 109.2 133.4 149.5 108.9 148.5 110.5 127.6 98.0 264.5 112.7 134.3 146.8 200.1 125.6 207.5 81.1 222.0 129.3 203.1 111.1 222.3 129.8 214.1 108.2 262.9 117.4 121.2 112.3 99.3 97.4 153.2 126.3 122.4 106.9 185.1 120.3 212.9 112.4 159.1 120.6 95.6 146.7 107.4 117.0 213.1 136.2 196.3 140.6 185.4 111.1 186.3 157.5 146.4 116.6 214.9 116.0 154.2 109.6 221.1 108.0 85.2 107.7 161.8 134.5 151.5 97.1 131.6 113.3 174.2 115.8 174.1 122.3 133.9 115.7 249.0 105.9 133.5 110.2 145.7 119.8 201.3 102.6 189.1 110.1 131.9 111.4 123.7 113.4 139.0 100.4 152.8 140.9 184.7 133.3 147.2 95.9 150.8 120.9 138.5 121.7 208.9 98.0 104.5 92.1 197.6 118.2 202.0 109.4 128.3 109.3 162.8 119.7 199.4 105.6 240.4 106.4 149.8 117.5 134.2 113.1 101.7 133.3 256.7 134.2 221.2 141.5 207.6 104.4 123.6 92.3 238.6 142.7 201.2 114.8 187.5 98.5 116.0 102.7 106.3 132.7 105.1 120.3 140.5 108.4 142.0 101.4 184.8 113.2 139.7 108.6 114.1 111.0 229.4 109.9 166.2 128.7 155.6 110.2 181.4 127.9 171.4 111.9 96.3 151.1 232.0 116.3 135.2 128.4 92.6 97.8 174.7 151.5 170.5 115.4 153.6 134.7 176.7 122.9 109.0 123.2 140.4 153.0 202.6 97.1 203.4 119.1 262.6 133.1 234.1 112.3 198.5 152.4 141.3 123.5 177.5 104.7 159.2 131.2 199.7 121.6 227.8 103.4 203.6 126.6 146.9 118.0 172.6 125.4 179.1 116.0 230.0 117.3 222.3 132.7 182.8 93.1 154.9 124.6 105.8 125.9 170.2 127.1 207.8 108.8 141.5 115.6 188.5 113.9 75.1 151.5 195.6 119.4 185.5 121.8 217.0 149.3 125.7 128.8 117.7 97.3 200.6 99.6 126.9 134.1 245.3 154.4 91.2 110.8 96.3 108.2 92.9 121.1 220.0 143.4 128.5 156.6 144.8 115.4 114.9 122.6 211.9 160.1 144.1 132.8 168.2 120.9 188.3 133.6 193.2 94.8 115.1 116.8 271.5 127.8 216.7 104.1 172.5 112.2 215.4 108.6 105.0 112.2 225.6 140.4 131.8 101.2 121.9 145.2 195.3 126.4 173.7 137.5 199.1 127.4 173.3 122.8 198.8 113.3 180.7 161.5 168.4 114.9 119.7 89.9 189.0 92.2 156.5 125.6 189.3 97.5 139.5 130.9 199.7 122.2 165.2 112.2 165.6 138.2 99.7 114.2 211.7 145.0 160.2 103.2 237.5 123.0 165.3 74.0 130.3 119.9 156.0 118.4 206.5 88.4 192.5 114.8 244.5 111.0 114.0 137.0 161.7 107.2 122.8 134.9 98.4 105.1 103.0 132.8 148.3 99.1 198.9 115.4 268.7 155.0 141.9 136.8 245.6 120.8 132.6 134.0 148.2 120.4 172.1 129.2 144.9 140.5 185.9 123.9 115.0 102.7 193.1 107.2 94.9 120.2 107.7 102.9 134.3 131.3 146.6 113.4 166.0 145.9 189.8 111.9 227.4 127.9 115.4 133.5 168.1 93.4 114.5 80.1 196.0 135.7 120.3 106.7 222.1 107.6 177.6 110.9 166.5 119.3 134.9 122.8 200.9 125.3 180.2 128.2 175.9 89.6 203.1 145.2 163.5 123.3 102.1 104.1 109.0 127.4 221.3 109.7 186.1 129.0 92.6 85.8 161.4 145.9 237.5 76.4 66.4 84.2 113.2 83.5 160.2 109.2 109.8 127.8 93.7 119.9 135.2 136.1 203.1 157.8 100.8 101.8 112.7 124.5 152.3 117.8 210.7 99.5 146.0 142.0 151.4 107.5 223.7 146.2 169.7 129.3 104.3 125.6 174.4 120.9 187.8 142.2 176.8 116.3 217.3 140.6 172.9 121.5 191.0 122.7 200.0 124.1 107.4 87.4 158.4 116.1 142.5 125.9 168.7 133.1 182.5 103.0 108.4 128.0 129.3 126.9 224.1 121.9 150.6 111.6 87.2 104.2 223.5 146.9 148.4 134.7 70.4 136.5 198.2 159.0 139.4 143.2 192.3 115.8 151.5 125.2 84.7 143.2 109.5 116.0 221.7 127.0 170.7 89.1 139.7 104.7 100.6 101.1 91.7 74.9 200.7 109.9 140.8 134.6 176.8 142.4 217.1 95.0 158.7 81.9 215.3 95.2 137.4 85.1 257.6 79.9 172.5 95.9 104.3 116.3 221.5 125.5 174.2 123.4 183.0 127.4 217.2 134.5 160.7 124.6 182.3 92.3 188.0 77.7 163.5 104.9 171.8 139.8 184.8 135.9 181.1 121.7 194.0 118.1 117.0 104.2 230.2 117.9 154.7 85.1 180.1 107.5 189.5 99.2 163.7 109.7 199.1 104.7 103.4 117.9 140.2 119.5 100.5 84.0 217.8 150.4 224.6 142.9 142.0 91.5 130.9 100.2 132.4 126.6 156.5 134.8 217.7 95.1 123.1 117.6 130.8 87.3 188.1 109.9 237.3 114.6 190.8 119.9 101.5 120.0 213.6 136.8 155.6 129.3 127.1 81.7 212.3 102.5 161.8 93.6 200.1 130.4 227.0 127.8 160.8 150.2 166.8 124.8" fill="none" marker-start="url(#mA1)" marker-mid="url(#mA1)" marker-end="url(#mA1)"/><path d="M166.8 151.0 209.8 144.2 212.9 147.4 137.7 148.8 101.6 150.4 112.1 134.9 149.3 134.5 129.7 148.2 100.0 144.5 75.3 150.8 114.1 143.4 141.6 147.8 131.3 148.1 259.9 138.3 180.4 151.4 227.8 143.8 193.8 147.5 181.3 143.5 209.4 150.3 161.4 154.8 139.4 147.4 164.2 147.0 106.1 152.0 176.1 142.9 209.5 145.1 202.9 141.0 198.1 145.3 131.7 148.5 224.0 151.8 169.1 146.0 199.4 155.7 96.0 152.0 201.2 145.6 153.4 128.1 114.8 147.0 182.2 145.5 147.8 146.2 134.0 152.4 223.6 151.8 155.0 142.5 142.0 159.7 172.5 149.1 218.2 148.8 201.5 143.8 138.3 144.3 145.9 142.4 193.5 156.4 122.4 151.5 216.2 136.9 136.3 147.3 233.0 146.2 171.5 145.9 69.0 150.2 172.5 156.5 87.4 149.3 207.2 152.4 192.7 145.5 226.8 144.8 134.2 148.1 106.7 150.0 184.2 137.9 130.8 155.2 131.2 149.0 233.7 143.3 198.7 151.8 122.2 150.1 263.3 147.4 148.3 150.7 145.2 152.5 152.6 147.0 110.1 156.3 92.3 153.4 166.9 154.1 170.3 143.5 158.2 128.9 194.5 147.7 175.5 149.1 94.9 152.9 171.6 148.4 129.6 136.3 216.4 150.0 142.0 151.4 128.8 154.2 79.4 144.6 166.6 150.0 104.9 148.5 168.2 147.9 155.6 146.4 185.2 145.0 167.6 149.4 145.6 143.9 197.2 158.0 172.1 152.3 164.9 144.4 183.0 145.9 216.4 151.3 164.5 154.2 115.4 141.1 244.7 146.5 111.4 148.1 146.3 151.0 116.6 156.4 223.9 150.4 159.8 153.4 167.6 146.0 108.8 150.0 247.1 146.1 195.7 150.1 182.5 140.9 129.3 153.7 163.7 150.1 252.5 144.7 73.1 163.0 151.2 150.0 167.5 149.1 161.3 143.4 182.8 140.8 137.1 131.3 111.6 154.7 170.9 149.2 233.0 146.9 176.1 151.5 191.2 153.0 210.2 149.3 175.0 144.4 100.6 146.0 129.8 151.8 222.2 152.7 173.8 151.8 207.9 151.0 154.0 142.0 169.3 145.1 129.6 154.7 196.2 148.9 204.4 143.0 153.6 152.3 117.6 147.8 85.6 158.3 130.4 143.0 203.6 146.9 129.3 150.0 194.3 138.5 169.0 144.9 155.7 146.8 226.9 146.1 217.6 143.4 178.6 145.7 264.9 142.0 211.7 142.6 182.9 152.0 172.5 152.2 151.0 144.1 205.6 151.1 162.5 141.0 165.1 146.6 190.8 144.7 202.7 149.4 73.3 153.8 249.0 138.2 178.6 143.8 158.4 150.1 123.0 153.2 163.6 146.5 166.5 148.5 178.0 141.2 185.0 142.9 151.2 146.5 135.3 140.8 162.5 152.4 203.8 149.3 92.0 148.7 171.1 143.0 221.5 144.9 163.1 138.2 217.0 152.6 227.8 147.6 188.8 148.8 158.9 150.4 154.8 155.0 137.3 146.5 195.6 152.0 113.1 147.3 234.4 140.5 208.7 137.9 70.1 144.6 131.5 146.6 218.1 145.8 161.0 150.7 227.2 148.7 154.5 145.2 220.0 145.0 122.1 140.3 99.8 152.3 134.9 147.6 116.1 149.5 156.0 145.5 232.9 148.2 217.0 148.5 120.0 146.6 257.2 140.9 124.8 139.4 248.9 150.5 196.3 144.4 84.1 146.9 110.1 153.7 152.4 147.2 176.1 144.4 215.6 143.6 147.3 147.5 190.9 147.2 112.5 152.1 153.9 150.3 202.3 151.6 157.7 144.5 208.6 148.2 153.1 147.1 161.3 149.7 172.8 145.7 269.7 145.1 206.5 148.5 131.5 139.1 127.0 147.2 118.4 150.6 240.2 149.9 153.2 148.3 210.4 142.0 218.0 143.7 141.5 145.5 214.1 154.7 189.9 148.4 140.3 154.8 161.8 152.8 122.4 145.3 88.1 137.5 165.7 143.3 136.5 150.9 144.5 151.5 142.7 148.5 213.6 141.5 115.9 151.6 170.6 146.7 85.7 140.6 190.6 143.4 130.1 149.0 220.9 149.6 110.3 145.2 141.8 154.2 186.1 150.5 131.7 153.0 107.3 144.9 219.2 147.3 134.0 159.4 130.9 146.7 188.3 144.7 114.2 146.6 199.6 149.5 91.5 159.2 210.4 136.4 142.5 153.0 205.4 142.8 147.5 155.4 133.4 162.4 130.9 141.0 176.6 143.3 158.0 148.5 129.4 144.9 207.9 145.3 205.0 152.1 190.9 148.1 191.5 145.6 102.5 152.1 156.6 145.6 127.6 144.8 118.4 153.3 159.5 147.2 127.9 141.4 202.3 145.8 184.9 144.8 179.5 148.1 145.8 147.2 243.0 153.1 156.4 149.9 168.1 140.5 189.1 150.4 231.4 146.5 177.5 144.3 200.3 146.0 180.6 144.0 175.7 145.7 185.9 128.5 245.4 142.8 157.2 152.5 147.9 134.5 145.9 138.6 100.0 148.3 125.2 134.3 197.2 146.3 109.6 147.7 194.2 150.4 152.7 125.4 163.7 142.1 123.5 151.9 151.9 146.9 138.4 140.7 84.8 155.0 89.4 155.9 140.0 147.8 131.8 150.7 225.6 148.2 62.6 160.4 237.4 143.7 183.1 150.9 105.6 148.9 122.9 152.3 116.0 150.7 202.2 155.8 185.7 119.3 180.7 151.0 136.3 150.5 231.3 144.9 220.4 144.3 229.0 142.2 131.6 148.6 144.2 140.6 199.4 142.5 199.3 144.0 218.8 148.6 223.1 144.0 103.3 152.6 153.4 153.0 85.1 149.7 155.4 140.4 129.7 150.7 155.5 147.4 83.2 154.6 217.0 142.9 135.5 137.6 206.7 142.3 130.6 151.5 76.4 158.4 243.9 144.5 99.7 156.0 115.0 147.2 170.7 142.5 161.8 147.0 101.3 148.4 194.7 152.1 119.0 147.2 130.3 148.6 134.6 145.4 149.7 146.8 159.8 141.1 241.3 141.0 167.9 152.6 176.2 142.7 221.1 156.9 199.9 154.5 153.6 143.9 239.2 149.4 132.0 142.8 207.5 150.0 192.9 155.1 178.9 134.7 220.8 144.0 225.9 146.4 149.8 150.8 145.1 151.2 204.2 147.2 71.0 147.3 213.0 151.6 166.5 145.4 67.7 153.1 241.6 147.6 124.0 159.4 166.8 138.0 220.7 145.6 174.8 145.3 170.5 142.6 183.8 142.0 139.4 151.9 98.5 154.2 258.8 147.7 119.4 141.3 214.2 146.0 116.2 137.3 82.2 147.8 192.1 143.6 210.7 141.6 224.5 154.4 149.1 146.3 132.1 143.5 161.6 157.4 142.3 150.0 191.1 149.7 166.4 145.8 68.3 158.1 118.1 146.1 220.8 146.6 171.8 130.6 180.5 145.7 154.9 149.3 156.1 145.2 211.0 148.4 127.0 148.3 203.5 143.4 151.6 149.3 144.7 126.9 142.7 143.6 248.0 146.0 102.4 143.0 213.7 139.5 134.5 148.8 154.0 157.4 166.9 149.7 119.9 149.3 213.2 143.1 150.3 128.4 94.3 156.2 157.6 151.9 159.6 140.4 208.8 147.8 227.8 139.7 81.5 154.2 184.6 142.5 188.5 147.0 202.9 150.1 219.7 151.1 233.2 143.5 180.9 130.2 218.5 150.8 215.3 147.4 225.2 153.5 247.2 149.3 208.0 152.7 130.0 152.7 189.3 147.9 135.8 147.9 148.8 154.5 140.8 150.2 134.7 148.3 244.2 144.8 194.4 147.6 150.5 150.4 117.5 141.5 185.0 155.1 180.4 148.2 204.2 150.3 118.9 151.1 150.7 151.6 187.8 147.4 181.3 150.0 266.0 143.8 184.2 153.9 199.3 148.8 159.8 139.3 138.3 149.4 245.1 143.5 134.2 138.7 120.3 149.4 111.8 149.8 132.0 138.5 187.0 155.0 92.5 151.4 240.6 141.9 186.5 139.3 178.1 146.8 252.5 143.0 169.2 147.6 230.2 138.3 206.6 148.7 95.8 146.0 179.7 147.4 205.4 129.1 73.0 149.8 101.6 142.7 197.5 149.2 113.1 158.9 227.4 150.2 208.6 146.4 170.1 138.7 77.8 148.8 203.6 151.4 189.4 140.6 234.9 145.0 93.4 148.9 135.0 149.0 121.9 149.2 178.9 150.1 142.2 145.0 217.6 135.8 140.1 147.4 119.4 155.7 187.0 147.4 137.6 142.4 243.8 149.7 195.4 142.4 134.5 149.6 150.2 149.9 203.4 137.5 140.9 152.2 220.3 144.2 121.7 148.5 214.5 141.8 129.5 159.0 233.2 145.0 245.1 145.3 166.7 149.2 207.2 147.1 102.1 147.1 132.6 148.9 204.7 156.2 138.5 148.5 150.4 140.3 94.1 152.0 152.3 144.6 250.9 149.1 151.1 152.5 201.6 151.0 165.1 147.7 243.5 148.2 154.9 142.2 214.1 148.4 110.5 157.0 118.4 146.3 105.1 145.3 153.7 149.0 130.0 145.8 144.0 146.1 56.2 152.3 218.7 140.7 150.5 141.5 196.6 145.7 267.5 143.6 202.0 147.2 143.4 134.4 167.2 145.8 155.5 148.7 129.2 154.7 234.3 148.8 201.4 144.9 222.7 144.1 215.0 148.6 129.1 152.2 149.8 148.8 146.4 147.6 124.0 146.2 98.4 148.3 193.3 157.8 190.1 148.1 236.5 140.3 169.1 145.8 229.3 147.7 102.5 155.2 182.7 151.1 152.7 145.5 185.3 148.3 264.9 142.0 232.5 141.6 113.3 152.8 196.7 138.4 147.3 144.9 113.8 151.7 191.1 154.2 110.0 153.8 147.3 135.1 201.5 148.1 223.6 148.1 149.6 153.7 136.2 151.6 183.2 143.4 216.7 147.2 228.7 149.8 243.3 138.6 252.0 143.0 229.5 145.1 163.9 145.0 139.2 142.4 181.1 138.7 132.4 152.3 102.0 145.6 148.8 142.2 191.3 143.0 249.6 146.1 172.1 150.2 113.1 155.0 224.6 139.4 120.3 144.2 122.8 152.9 145.4 152.1 180.9 149.3 118.9 153.5 165.5 148.0 219.3 151.5 156.4 153.9 115.2 149.2 206.9 150.6 158.4 144.6 218.3 145.1 143.1 147.9 199.6 139.7 161.3 157.7 150.9 155.2 168.2 145.8 166.9 146.1 209.6 153.4 238.8 146.0 215.5 153.5 157.1 157.4 83.7 158.3 206.2 137.6 179.1 154.1 139.4 138.1 169.2 143.3 124.7 143.0 230.6 148.6 107.6 147.7 81.8 144.5 146.4 146.8 96.2 153.0 164.8 153.0 183.7 151.9 105.6 153.0 100.0 151.5 173.9 146.4 115.4 156.4 162.3 148.6 110.0 148.0 118.6 146.6 180.6 137.6 176.3 156.6 172.6 147.5 165.3 146.7 212.6 139.0 200.7 144.4 239.2 145.2 193.3 155.5 216.7 142.9 248.6 131.2 135.7 149.6 76.6 152.5 146.2 151.4 215.6 145.0 128.0 149.9 189.1 153.1 183.2 148.4 220.0 150.6 202.9 148.9 155.2 153.0 108.1 144.7 167.5 136.4 163.2 145.3 216.4 153.8 224.6 150.1 161.7 149.6 153.3 133.1 177.0 143.7 142.9 154.2 153.1 142.0 149.3 137.3 212.6 146.6 236.6 135.0 164.5 152.8 220.9 146.7 114.8 157.4 97.7 151.9 202.9 140.9 98.3 148.0 208.8 145.3 224.3 152.9 126.2 143.1 180.2 153.7 130.9 159.9 133.5 151.0 163.6 146.5 241.7 141.6 223.1 144.1 145.2 154.3 115.0 156.1 222.5 133.3 226.4 133.1 145.5 150.1 127.5 149.9 140.4 148.1 191.5 146.3 137.3 154.8 233.5 147.2 206.6 150.4 238.8 142.6 194.6 149.9 128.0 147.8 141.4 149.2 134.2 146.3 144.9 148.7 206.6 147.0 201.0 144.7 152.5 148.1 141.4 150.6 127.2 144.8 213.3 144.1 142.0 144.6 204.4 150.7 224.8 147.3 207.4 144.3 130.3 149.6 212.6 145.9 168.1 132.8 79.7 158.8 212.1 150.6 177.0 135.8 216.6 144.1 150.4 153.7 197.0 148.5 164.2 145.3 87.5 151.9 110.2 147.9 88.0 153.0 147.5 142.9 170.8 137.0 95.2 146.0 215.9 152.0 201.7 153.5 101.7 147.1 90.4 153.2 117.7 158.2 247.5 149.5 137.4 150.4 200.3 152.6 152.4 157.9 269.3 138.1 200.7 142.8 125.0 158.1 149.0 158.4 131.0 135.4 211.8 150.5 180.0 147.9 141.2 144.5 174.4 145.7 158.2 148.1 142.0 160.6 198.7 144.9 196.5 147.7 210.3 141.2 97.8 149.3 226.3 122.7 216.8 152.4 174.7 152.9 187.7 148.4 209.5 137.2 221.2 153.1 118.0 146.5 215.0 148.4 225.5 136.4 88.0 149.4 136.6 156.1 111.1 149.3 211.3 146.8 206.5 142.4 238.2 145.8 193.5 151.4 96.4 147.1 108.8 144.2 216.9 146.6 153.8 151.8 169.3 151.2 190.0 146.9 163.4 148.2 158.7 150.5 179.9 148.4 134.9 151.9 226.7 140.7 198.9 152.3 137.3 149.5 101.1 152.3 167.5 150.5 108.0 145.4 176.7 152.4 207.6 143.4 238.8 152.9 108.1 148.5 180.9 151.6 142.6 149.9 168.0 141.4 163.1 149.5 159.0 149.7 191.3 149.3 130.3 144.7 201.8 143.1 124.4 146.1 160.6 150.3 146.7 156.4 159.0 144.6 216.1 151.6 178.9 148.4 202.6 142.2 178.5 146.3 173.6 156.1 197.8 140.8 171.8 152.7 170.0 147.3 217.0 151.2 178.0 153.6 256.7 147.3 151.1 149.8 139.1 147.5 158.1 147.5 233.6 136.9 125.4 149.2 123.5 151.3 154.7 142.0 126.7 150.0 211.0 143.7 117.0 137.0 169.6 151.1 94.5 153.8 197.5 147.6 113.6 148.6 204.8 151.4 131.7 151.5 198.1 145.5 189.9 153.2 194.8 144.0 181.3 148.2 145.4 142.3 156.6 152.8 145.3 147.0 145.9 141.4 101.6 153.2 94.6 151.9 118.9 151.6 158.9 157.5 97.1 148.1 136.7 150.3 121.4 148.6 175.1 140.2 153.5 144.9 90.7 142.6 190.0 145.0 126.0 152.8 94.5 145.2 112.9 155.5 116.1 143.5 140.9 158.1 127.1 150.8 211.7 141.6 94.7 158.2 104.1 153.0 180.4 142.6 222.8 148.3 121.7 149.7 248.5 141.3 123.0 153.0 203.3 158.6 187.8 140.8 101.9 151.3 170.9 147.8 203.9 139.5 207.5 150.4 169.2 144.0 183.3 148.8 148.9 146.9 167.1 155.4 150.6 153.2 170.3 147.5 179.4 138.5 254.7 138.9 154.9 155.0 158.9 151.7 152.9 146.2 199.3 148.3 214.1 137.9 157.5 143.8 133.8 137.0 209.5 155.3 137.6 146.7 153.2 140.3 218.8 150.3 137.1 140.3 241.5 142.6 116.4 143.6 160.1 145.0 224.0 145.3 161.1 149.0 149.4 155.4 167.5 151.0 105.5 151.7 218.7 150.9 198.4 149.6 205.3 149.5 185.9 151.8 226.4 143.0 200.4 141.9 148.3 148.4 148.8 141.8 186.4 149.1 116.3 152.0 162.1 150.4 124.9 152.9 153.6 143.5 174.4 154.1 189.2 142.7 154.7 149.5 138.3 150.8 117.4 148.4 149.2 149.7 208.5 141.7 228.3 149.8 69.8 148.7 263.5 142.5 130.0 156.9 142.0 140.4 81.8 151.7 127.3 152.1 207.8 137.7 134.9 144.8 177.1 145.6 198.4 148.8 122.3 152.3 149.3 151.3 155.1 149.9 226.6 150.9 226.4 153.6 215.6 142.0 162.3 145.1 128.8 148.9 178.3 147.8 193.8 140.7 70.4 155.5 90.0 149.6 241.0 145.2 197.3 147.4 162.1 147.8 155.3 143.9 202.2 153.3 175.5 151.1 173.8 148.0 161.5 149.9 125.9 152.4 229.7 147.4 79.4 148.3 183.3 144.5 192.8 150.9 182.5 148.8 224.5 147.7 264.8 145.1 152.1 146.9 180.5 148.5 201.5 156.5 104.3 153.9 164.9 153.1 118.8 135.3 216.2 149.9 141.4 148.1 247.9 142.6 119.8 154.9 167.3 150.6 216.8 153.4 114.4 148.8 79.1 148.8 185.7 135.6 161.6 148.4 241.8 145.8 159.8 154.1 213.2 148.7 192.8 157.1 118.8 143.4 201.5 150.5 231.1 140.7 205.7 148.6 206.4 149.3 164.0 148.9 239.9 149.1 86.8 143.9 185.1 145.0 142.7 149.5 198.1 139.1 195.5 148.2 202.9 153.3 215.6 133.0 182.5 152.5 81.0 149.2 177.2 148.5 193.2 147.3 198.1 145.9 137.3 148.7 153.8 147.7 174.3 144.1 107.5 146.3 177.0 146.2 169.7 152.6 233.6 137.5 139.8 145.5 242.5 152.9 206.8 142.7 123.4 150.6 249.4 140.0 146.5 146.7 185.3 142.2 224.3 149.0 248.2 139.6 268.3 148.2 165.3 134.9 185.3 142.1 199.6 138.3 253.4 141.7 97.7 145.0 203.8 153.0 139.4 152.3 160.4 148.1 112.3 152.8 118.4 149.1 141.0 147.1 141.4 150.7 238.3 152.2 127.6 141.8 119.3 144.5 52.1 153.7 138.4 150.0 105.4 150.1 174.1 149.2 160.9 148.9 133.8 146.9 169.4 146.0 182.5 150.9 231.6 147.2 229.1 143.9 154.0 146.8 179.5 150.3 151.3 129.5 198.7 150.0 202.7 145.5 169.3 149.0 141.0 145.6 184.4 152.5 151.0 150.2 193.5 141.9 204.7 151.4 169.4 145.0 155.9 152.8 125.1 156.6 145.3 102.9 179.7 148.1 170.3 153.1 161.0 143.2 139.0 156.7 175.4 150.6 143.5 141.9 204.7 150.6 217.8 143.7 262.5 142.4 239.5 143.0 229.5 151.6 209.8 131.9 223.2 144.9 152.7 146.2 211.1 143.3 223.4 115.6 258.3 151.1 185.5 146.2 193.7 139.7 120.8 141.9 150.9 146.8 136.7 151.0 170.7 144.9 215.7 147.0 125.1 155.5 142.3 151.6 113.4 153.7 119.1 146.3 177.0 150.9 125.6 149.4 174.2 145.4 234.8 151.5 145.2 148.7 131.4 147.3 186.0 158.7 118.3 148.8 208.2 148.5 146.9 155.9 124.0 149.1 209.3 133.5 202.2 152.2 106.1 155.3 141.0 150.0 256.0 139.8 201.7 139.3 143.1 135.1 95.0 150.6 203.6 141.0 147.8 151.2 133.9 153.0 172.7 144.6 194.3 146.7 216.6 149.2 156.3 147.4 134.0 150.0 168.4 151.1 168.3 149.8 123.9 146.6 200.2 151.2 186.4 147.6 161.0 149.4 144.4 146.5 180.1 152.7 185.9 146.7 100.3 146.6 120.4 147.5 110.2 146.0 177.3 136.1 188.9 147.9 178.5 145.4 169.2 155.1 195.7 146.4 80.7 155.6 202.0 142.9 213.7 146.3 186.6 137.0 188.4 139.4 227.3 153.4 222.9 140.7 236.6 144.0 143.8 148.9 126.4 151.7 179.6 146.7 180.7 144.5 130.9 152.3 84.3 149.0 188.3 148.4 152.9 149.2 192.8 146.7 105.1 149.4 160.1 151.1 212.2 148.0 175.1 155.7 182.5 142.9 197.0 148.0 95.9 152.7 113.9 152.9 156.3 161.2 247.1 146.1 135.9 150.8 167.0 151.3 179.7 150.6 165.8 142.0 123.2 153.8 130.6 148.6 167.3 156.9 183.4 149.9 103.3 145.3 178.9 150.3 251.8 150.8 218.2 148.5 157.8 147.6 194.1 149.7 154.6 154.2 132.2 143.1 141.7 150.2 190.4 125.3 163.0 148.8 245.8 144.1 133.5 149.0 186.7 140.7 178.0 146.8 195.3 143.0 216.0 150.3 173.4 131.5 163.8 149.5 170.3 153.7 210.9 150.9 148.6 148.5 167.4 148.9 118.9 152.3 129.4 146.3 172.5 155.0 163.4 146.5 153.7 143.1 158.2 150.8 159.6 144.1 189.4 141.7 170.5 136.7 239.7 141.6 230.7 155.8 113.9 155.9 105.8 150.6 183.3 145.3 186.5 151.1 211.7 145.6 237.2 144.0 213.5 149.1 264.2 142.7 115.4 144.7 226.7 134.7 112.0 148.8 254.2 129.6 121.7 147.4 207.8 149.9 142.3 153.0 212.5 142.9 220.2 148.8 135.0 151.9 228.7 138.4 127.0 154.8 218.4 147.8 124.7 140.7 211.4 147.1 102.7 143.9 246.8 145.4 127.0 143.8 181.5 149.6 156.6 145.6 262.8 148.7 180.7 151.5 149.3 151.0 205.9 141.2 121.5 148.8 197.2 146.3 154.9 152.8 165.5 154.2 207.3 154.3 96.9 145.3 138.5 154.2 205.8 154.2 152.0 147.3 172.3 153.7 95.0 158.0 216.4 145.5 170.4 149.4 145.3 149.6 163.4 139.7 245.8 139.5 209.8 146.8 196.4 151.5 237.5 152.6 236.5 149.8 220.1 151.6 236.2 150.6 188.5 147.7 211.0 153.2 143.5 145.9 172.0 146.4 126.9 144.3 159.4 138.4 120.5 144.8 222.6 149.4 117.0 161.1 148.4 151.4 119.0 147.5 190.5 148.8 155.2 141.7 206.4 150.0 169.2 142.8 129.1 147.2 108.4 152.2 209.6 157.0 140.7 142.5 258.0 145.5 206.9 154.6 219.2 145.8 77.6 152.6 173.3 154.1 157.4 157.5 126.3 147.3 226.5 140.9 102.8 147.2 125.1 154.9 224.3 143.5 141.0 140.6 182.0 156.2 112.4 152.0 236.7 139.5 144.2 146.8 249.1 148.8 183.6 144.1 154.8 149.4 189.8 144.8 187.8 147.2 208.7 151.4 128.0 158.0 159.2 149.6 220.4 143.5 154.0 151.5 174.9 146.5 209.0 145.0 191.8 147.6 214.3 150.3 126.0 142.7 151.7 151.1 114.0 143.7 170.8 144.4 115.1 147.9 128.2 151.4 197.4 152.3 125.9 151.9 162.0 145.8 96.9 149.6 179.7 152.3 239.4 152.2 128.1 151.8 97.5 158.0 175.4 145.6 185.8 148.0 184.6 141.5 185.1 153.0 190.2 140.6 213.8 147.3 120.7 151.0 134.1 137.4 97.6 144.3 145.3 156.8 256.5 141.5 198.9 149.6 155.7 151.1 182.4 153.6 188.1 149.6 176.0 150.9 101.1 143.7 212.5 143.2 126.8 156.3 212.6 155.3 223.8 141.2 188.5 145.2 133.2 150.7 225.5 153.0 193.2 135.5 100.7 153.3 141.8 151.8 177.7 136.4 118.3 150.4 181.8 145.7 164.4 137.4 126.8 149.4 126.5 152.3 198.0 145.9 91.2 148.8 215.2 155.1 207.8 146.8 244.0 147.8 214.8 153.0 178.3 146.4 214.6 134.1 148.3 147.8 218.6 144.1 202.6 150.4 93.4 154.4 177.0 141.4 234.9 148.2 93.3 145.5 204.2 141.6 204.8 147.0 173.8 148.5 205.9 147.3 218.2 156.0 139.4 145.4 212.1 151.8 104.4 144.6 193.2 138.8 123.6 147.3 119.6 158.7 182.8 147.6 196.3 149.2 222.0 149.5 184.6 153.6 142.6 140.2 168.2 149.6 160.7 144.9 146.8 153.1 180.5 147.4 188.8 145.4 93.0 150.5 170.6 141.6 213.9 145.5 158.3 125.6 177.7 127.1 231.1 156.8 134.5 141.4 209.4 152.0 233.8 145.3 175.7 154.2 160.0 145.6 160.9 147.1 123.2 153.9 209.7 143.9 174.1 146.9 169.0 151.3 235.4 151.6 224.3 144.5 107.0 143.3 124.0 154.6 140.9 146.9 170.0 136.4 112.5 146.0 122.7 137.9 139.0 154.2 219.7 154.6 141.7 150.7 106.6 146.9 148.2 149.1 214.4 151.3 206.3 157.1 222.4 147.4 231.9 150.4 146.4 150.4 163.6 142.4 121.1 154.6 156.9 150.3 222.1 144.0 238.4 147.4 101.1 152.7 168.1 141.0 155.1 139.7 203.0 147.9 155.6 149.5 193.5 156.0 110.1 144.5 193.8 142.1 159.6 145.6 231.8 140.4 209.8 143.1 234.9 146.7 138.9 147.1 192.5 141.2 174.0 152.7 247.7 144.6 169.6 156.2 171.5 146.8 133.2 129.2 119.3 148.5 185.0 147.9 259.5 156.1 236.2 148.2 225.2 152.0 142.3 144.6 171.1 146.5 190.5 143.7 173.5 155.4 169.2 147.3 160.4 147.2 77.9 135.8 103.5 133.8 135.8 153.4 111.9 146.6 181.5 149.9 243.5 153.1 186.4 145.9 186.3 145.8 199.8 152.2 100.3 156.7 104.3 146.1 183.8 147.3 230.8 148.4 179.4 140.0 96.1 149.6 120.9 150.2 235.5 142.6 120.5 160.6 173.8 143.1 171.0 150.2 180.5 126.3 166.4 150.5 222.4 148.2 160.3 146.5 260.0 145.1 178.6 146.8 141.5 154.3 110.5 148.6 175.1 154.2 136.2 144.8 114.0 146.2 224.4 155.3 215.7 150.4 174.0 152.7 209.1 148.7 145.0 144.4 221.4 143.0 223.7 143.6 140.5 147.2 204.9 147.5 151.3 146.0 219.2 130.1 160.7 152.0 147.3 150.9 142.1 154.8 216.1 155.4 228.5 153.3 183.7 154.1 189.0 158.6 186.8 151.6 185.9 141.4 226.1 145.7 188.8 147.0 119.9 147.7 138.7 149.9 115.6 153.0 204.7 144.9 184.3 148.8 188.4 151.5 237.4 141.3 111.1 147.7 182.2 149.6 154.7 143.1 159.5 139.1 90.6 153.0 163.4 148.1 165.0 149.7 171.0 146.1 192.4 149.9 150.5 150.2 153.2 139.5 155.0 156.4 86.6 147.5 213.9 154.6 139.1 146.6 138.6 146.3 133.2 154.3 132.1 154.8 163.8 141.5 158.8 142.9 138.4 143.9 103.4 142.5 105.4 149.7 241.7 145.7 196.1 129.5 218.5 127.3 124.7 151.2 96.3 149.0 185.1 149.3 90.0 149.2 249.8 134.2 173.6 141.4 174.5 151.2 189.1 140.2 192.8 145.0 238.1 142.1 119.0 147.0 253.6 133.7 131.7 149.9 165.4 147.2 116.9 140.1 160.7 150.3 208.8 149.8 209.1 146.9 225.2 146.5 151.3 147.9 220.5 151.5 46.9 151.2 211.2 142.8 151.6 158.6 220.8 128.4 83.7 157.4 192.9 151.6 128.3 148.8 106.0 146.7 220.3 146.0 141.9 150.0 137.9 149.1 141.8 145.3 57.3 156.9 111.4 155.2 215.2 145.3 205.5 148.3 170.8 144.0 127.9 149.7 188.3 145.1 129.7 120.3 140.7 148.6 105.9 141.8 153.1 147.1 95.2 150.4 113.4 149.6 176.4 139.1 173.6 136.6 131.0 146.4 128.0 146.3 217.6 144.3 206.5 135.8 126.7 141.3 225.1 147.2 190.9 146.7 224.6 151.3 181.3 157.2 219.8 156.8 149.5 155.9 164.2 144.2 168.2 153.3 126.9 149.9 159.4 157.4 124.9 148.2 180.6 147.4 214.6 153.8 217.9 145.3 187.7 154.1 227.0 141.2 159.1 131.1 158.9 150.6 130.3 147.8 174.5 149.4 129.4 147.9 173.3 147.1 183.8 148.3 130.0 141.1 114.3 151.0 122.3 148.9 150.7 154.9 254.4 146.0 202.7 144.9 212.2 151.5 185.5 155.3 201.1 144.1 194.7 150.3 193.0 151.2 241.7 148.1 220.3 146.9 207.8 148.6 110.0 150.1 244.4 138.4 194.7 152.9 192.9 143.4 123.9 149.4 143.2 133.1 163.4 154.4 91.4 147.1 255.5 150.0 177.8 151.3 167.0 144.6 119.7 149.3 189.5 147.5 197.6 153.2 128.8 149.1 182.8 149.7 115.3 152.3 262.1 147.3 198.6 146.7 155.0 149.3 174.3 150.7 127.7 147.7 100.0 142.2 138.8 145.8 172.2 152.7 171.9 147.1 202.3 147.3 105.3 148.4 162.9 143.2 189.0 148.8 226.3 138.5 177.2 131.8 220.2 144.7 209.1 149.8 137.8 148.2 163.9 146.6 74.6 152.8 189.9 140.3 212.1 143.4 163.4 156.5 206.3 149.2 166.9 138.3 121.5 148.4 126.9 151.5 233.5 142.5 246.8 145.5 228.3 140.5 156.0 148.8 211.3 147.5 204.4 145.7 224.6 162.0 270.4 147.6 257.3 145.1 246.7 147.0 133.3 154.6 216.4 150.1 184.0 145.9 220.4 145.0 175.5 132.5 245.8 143.8 134.9 149.4 163.6 147.6 157.2 145.6 162.8 153.8 117.2 148.9 144.9 143.2 164.2 157.0 171.6 149.3 207.8 141.3 214.7 150.1 220.8 153.5 143.1 147.3 186.2 146.0 190.2 137.4 145.0 147.5 177.7 142.1 184.4 152.6 87.8 159.1 122.7 152.5 172.9 158.5 184.3 146.6 188.1 146.4 188.6 149.2 148.8 153.1 194.4 151.4 124.8 145.0 187.8 142.0 119.6 148.6 136.9 156.0 217.7 152.4 127.6 156.6 150.1 151.7 192.9 140.8 150.8 149.3 214.5 147.7 132.3 144.2 120.5 146.7 214.3 149.9 173.2 150.9 246.6 146.3 167.5 147.3 176.5 152.2 199.5 153.0 185.7 148.6 153.4 154.7 131.8 143.6 133.0 144.9 106.6 147.2 144.3 153.5 153.5 149.7 206.1 142.7 189.6 140.8 158.7 146.8 97.6 147.6 201.1 152.9 231.1 152.8 100.9 147.9 235.6 151.3 115.6 153.5 161.8 131.1 268.4 126.4 162.1 151.6 203.4 150.3 209.4 144.1 159.7 147.6 183.4 149.6 126.1 149.4 115.1 146.6 152.1 141.8 170.9 148.6 106.6 150.7 100.7 154.8 172.9 151.4 183.4 147.1 228.9 143.4 137.7 154.5 205.2 145.8 183.6 146.7 170.2 151.9 220.0 133.3 179.9 147.5 132.1 145.0 195.4 149.3 163.7 144.9 176.5 146.1 167.7 150.6 215.1 143.4 211.9 147.7 252.2 137.0 79.5 150.2 99.2 147.3 190.9 148.4 175.1 147.6 175.3 148.1 116.1 144.1 198.0 142.8 187.9 147.3 163.0 144.1 220.2 146.4 182.8 153.8 182.8 146.6 163.0 147.5 166.0 151.3 226.3 146.8 208.7 152.3 137.0 137.9 189.2 147.8 146.1 144.3 179.6 151.4 176.7 151.1 193.5 149.0 137.0 152.8 132.3 143.3 109.0 145.6 107.1 155.4 195.0 151.3 186.9 141.1 189.2 151.5 263.4 147.8 109.6 146.8 202.0 142.8 159.6 150.9 98.1 153.3 198.5 149.0 189.6 146.3 126.1 155.4 243.2 148.1 221.8 154.5 173.7 149.9 130.4 163.3 224.5 142.8 207.4 147.0 140.3 152.1 223.2 147.2 204.9 152.0 146.1 151.1 187.7 155.1 244.3 142.5 109.8 147.1 194.1 145.4 146.8 152.1 211.9 148.2 187.0 144.2 187.9 148.6 124.4 149.0 185.5 151.1 190.3 147.4 213.4 145.9 201.1 120.9 226.6 145.9 240.9 146.6 252.2 148.5 220.6 149.5 205.4 152.4 234.3 145.5 204.9 141.7 107.4 143.8 207.5 144.5 79.4 151.8 214.6 150.3 122.7 150.5 153.6 147.4 120.2 150.4 234.5 152.4 139.7 147.2 177.6 151.4 168.3 128.4 182.7 154.9 160.0 155.4 208.5 150.8 122.3 149.2 203.0 147.0 107.6 146.8 122.8 155.6 87.8 145.4 201.5 154.2 144.5 146.7 155.6 153.8 94.3 156.4 183.7 143.9 127.4 147.5 144.7 154.3 193.2 147.2 228.5 143.3 168.9 148.1 118.9 151.5 149.6 150.3 147.7 143.8 151.4 151.2 195.2 145.7 158.9 145.2 218.7 148.7 158.6 152.3 247.0 143.1 113.9 149.3 193.4 151.1 214.6 152.0 256.1 143.5 181.9 142.9 214.4 142.4 246.1 153.9 102.9 148.7 156.0 141.9 161.7 147.6 157.3 139.1 171.8 144.3 169.3 143.0 171.0 143.6 150.4 144.3 72.7 150.4 102.3 154.8 101.8 153.9 215.6 131.7 93.4 149.2 80.7 152.3 98.9 144.5 162.8 155.0 175.8 146.2 160.5 145.8 159.0 152.5 131.1 146.3 161.1 152.2 161.7 147.5 197.7 150.7 151.5 143.1 169.5 144.3 175.7 140.9 152.0 153.4 181.3 146.0 195.8 147.4 234.8 148.2 216.3 146.2 193.8 148.4 141.3 154.2 197.6 148.1 203.5 146.0 219.7 148.8 131.9 149.0 126.0 143.7 169.5 146.2 131.7 147.1 166.0 151.9 156.7 142.3 193.4 149.1 159.1 154.4 244.0 152.8 184.4 149.0 110.8 148.3 128.7 146.4 113.0 153.5 188.5 149.3 156.9 144.6 99.7 153.1 160.6 129.9 143.5 150.2 178.3 143.7 117.9 139.6 145.5 151.3 236.0 142.8 141.0 141.4 215.8 149.4 233.1 143.6 247.2 145.3 140.4 154.2 177.5 154.4 97.3 148.6 102.3 139.2 204.3 143.7 98.4 135.1 208.4 147.9 241.6 139.4 136.2 146.6 110.6 148.8 188.1 144.2 204.3 132.4 217.9 140.6 219.4 148.0 166.3 149.1 204.4 146.5 178.3 151.1 136.2 148.5 132.9 155.4 143.1 144.5 146.9 150.4 212.0 145.0 198.1 145.3 193.6 133.8 115.2 138.4 152.5 145.1 185.9 158.2 126.7 151.3 203.2 148.2 117.9 153.1 254.8 144.4 152.4 150.7 115.1 149.2 180.3 149.0 117.8 114.3 199.6 147.3 170.6 145.0 159.6 143.5 222.3 148.2 104.9 152.9 186.8 146.5 115.3 144.1 148.1 143.0 107.7 148.5 191.3 153.6 145.9 156.4 153.7 138.0 129.0 152.6 162.3 154.0 197.3 137.1 100.3 151.7 224.7 143.7 144.1 153.0 130.2 148.7 209.4 151.8 113.6 155.8 205.9 148.9 130.6 125.1 151.2 153.9 106.8 147.6 164.8 150.3 119.4 151.9 199.7 150.3 180.2 158.4 105.7 153.8 165.7 147.3 202.7 144.5 125.8 142.9 137.5 140.7 160.3 147.2 89.5 135.5 182.3 149.1 237.1 149.5 114.4 143.1 182.7 149.4 182.7 144.1 206.5 150.7 148.3 144.0 149.3 143.1 173.6 153.1 154.1 146.0 140.3 155.0 135.8 143.3 203.5 140.0 179.7 146.2 157.9 143.9 248.2 152.9 165.3 145.4 225.5 147.1 269.1 154.0 132.5 146.5 175.7 150.1 187.5 141.8 103.0 152.3 143.9 151.2 223.3 148.3 108.4 149.1 96.6 142.6 241.6 148.3 160.8 150.2 210.1 144.9 152.2 146.1 123.3 156.5 206.7 146.2 126.4 156.3 219.2 133.9 144.1 136.1 161.7 133.8 207.5 152.4 205.7 146.4 139.6 147.1 168.4 142.4 166.3 150.6 124.9 146.1 221.8 151.3 117.1 147.3 256.1 152.0 228.7 151.3 81.9 144.8 224.7 150.1 177.2 143.6 106.3 153.8 227.3 150.4 156.9 149.9 143.8 151.9 154.2 156.4 86.8 150.7 211.0 147.4 162.8 149.7 184.4 144.2 127.7 156.2 117.2 146.7 142.0 147.6 132.3 145.2 160.7 152.7 165.7 145.9 211.8 145.7 185.7 151.0 148.8 149.5 220.2 154.5 195.7 148.7 161.7 140.9 163.4 144.8 134.7 151.8 224.5 149.2 126.2 153.3 111.3 148.2 233.6 146.7 202.1 146.5 197.1 154.8 165.1 145.9 147.6 147.8 134.0 132.2 203.1 126.3 144.9 150.9 153.9 146.7 177.6 139.0 77.2 150.6 130.7 146.9 130.7 150.1 230.5 144.4 144.2 150.5 83.4 147.5 155.3 148.2 126.0 151.9 178.0 155.5 224.0 149.8 209.7 135.5 219.4 151.5 135.5 150.9 202.8 144.5 106.7 149.0 193.1 147.2 126.9 148.2 168.6 152.4 109.1 151.1 200.7 150.9 197.1 146.5 196.2 142.5 141.0 157.2 81.4 155.0 130.1 148.9 161.7 136.6 143.9 138.9 217.4 148.8 158.6 146.4 209.0 144.9 137.6 155.7 166.4 151.8 187.3 148.0 147.4 150.2 97.0 152.6 202.5 145.7 214.2 155.4 221.9 146.9 185.2 139.4 102.8 151.2 149.6 146.2 173.0 149.7 203.4 146.9 207.4 144.4 115.4 148.1 159.4 140.9 130.8 153.9 190.4 142.4 169.3 154.3 155.3 137.9 142.0 148.3 192.3 156.6 177.2 145.9 215.6 150.8 160.1 150.7 215.0 142.3 143.1 154.4 117.5 148.4 138.2 152.4 166.7 147.7 207.8 140.0 154.6 146.3 161.5 150.2 204.3 144.1 183.2 147.7 150.6 151.7 132.7 151.7 133.0 151.9 195.0 150.6 228.6 154.1 130.9 145.8 207.8 145.1 153.1 146.8 237.6 139.6 107.6 143.1 179.3 151.3 153.2 144.9 247.7 149.7 92.1 156.0 201.6 141.1 150.8 145.3 156.1 155.2 138.0 152.3 216.5 151.1 156.2 142.9 154.7 144.0 229.4 144.9 97.6 150.4 117.1 155.0 166.1 152.3 162.3 144.7 205.0 145.8 90.9 149.6 110.8 149.9 107.7 145.3 178.9 146.7 240.9 141.8 217.1 153.1 258.9 153.1 162.4 151.5 191.0 143.1 176.6 140.8 156.8 156.1 182.0 152.4 125.0 145.8 159.6 144.6 158.4 151.2 175.9 147.3 230.8 140.1 185.8 152.0 156.9 148.4 218.7 145.0 183.0 141.8 102.6 152.8 242.5 146.6 170.1 139.6 111.9 143.9 225.8 148.7 173.4 147.6 210.7 145.3 148.3 143.3 181.5 146.0 199.5 134.5 193.8 134.3 117.8 143.5 134.8 153.8 106.9 149.5 249.3 143.2 220.6 145.9 164.5 151.7 249.5 140.7 143.1 150.6 162.0 151.9 154.8 138.1 186.9 143.9 143.2 146.7 192.5 144.5 185.7 143.0 119.0 158.1 155.1 152.7 165.5 150.5 138.7 144.7 218.7 139.2 215.2 147.4 158.9 151.0 226.6 146.8 107.9 148.3 136.6 144.2 188.5 140.1 261.8 142.0 221.2 143.0 193.5 144.7 155.4 143.7 168.2 148.9 137.1 139.8 179.4 152.3 231.3 146.7 143.0 145.2 219.0 142.3 122.3 146.0 166.7 156.3 163.5 150.8 135.8 155.1 141.0 145.8 235.5 144.3 165.7 147.1 100.8 151.2 203.7 154.4 196.1 144.9 161.1 140.7 125.9 156.4 129.0 150.2 119.0 150.3 233.9 149.8 172.7 141.9 221.1 141.0 193.2 150.6 162.7 152.2 99.5 149.4 209.6 115.6 135.0 147.1 232.2 148.0 253.0 150.9 207.4 130.6 135.2 148.8 123.2 143.3 99.5 151.9 169.3 144.5 138.5 142.9 206.4 150.6 242.3 148.1 125.4 150.7 199.7 142.4 167.4 140.7 214.5 144.6 144.0 146.4 96.9 147.1 104.5 151.2 166.6 150.8 133.5 148.3 238.1 141.4 153.6 142.2 134.6 143.3 132.5 144.0 196.4 122.7 206.7 152.9 203.1 148.9 194.7 150.2" fill="none" marker-start="url(#mA5)" marker-mid="url(#mA5)" marker-end="url(#mA5)"/><path d="M204.7 157.3 134.6 170.0 191.6 151.5 209.5 156.6 192.2 151.5 228.2 159.1 147.9 165.1 148.3 158.3 171.9 163.3 207.0 154.7 222.7 180.1 203.3 156.2 126.3 157.3 113.4 176.0 257.7 166.6 218.3 166.9 111.8 167.4 214.5 173.5 232.2 150.7 109.6 161.6 207.5 188.1 197.2 169.8 138.9 156.2 184.4 158.7 136.5 149.9 194.7 152.9 104.9 155.1 169.8 155.2 199.7 157.4 208.1 151.8 107.3 158.1 112.8 161.5 112.5 138.5 132.8 161.0 116.9 200.7 98.9 157.9 98.4 173.9 149.8 156.5 134.6 170.1 212.1 164.9 193.0 160.9 135.6 155.3 80.8 162.6 180.2 151.7 106.8 165.1 196.7 156.3 236.4 148.1 195.4 111.5 141.6 159.8 182.7 157.8 178.5 158.7 117.2 155.5 233.2 153.8 129.8 166.8 100.6 165.6 190.4 160.0 108.6 176.9 145.5 156.9 156.0 157.5 128.7 154.0 153.0 157.2 141.7 164.5 194.3 157.8 152.4 183.5 118.0 156.0 169.6 160.2 110.9 158.9 182.8 158.0 189.5 154.1 206.1 178.9 153.9 154.6 225.2 165.7 129.1 170.9 136.8 149.3 132.9 159.0 157.7 159.2 227.3 155.4 181.9 156.5 184.4 158.4 157.6 176.9 171.5 155.6 205.6 158.7 152.4 157.7 204.3 154.8 137.7 155.8 66.9 167.8 141.0 170.8 138.0 162.0 253.2 157.1 191.8 159.8 180.1 178.0 137.4 159.5 88.9 164.9 188.6 183.8 157.9 171.5 159.5 164.9 197.7 158.8 196.9 156.3 191.5 160.1 83.9 162.1 167.4 169.4 186.4 156.0 148.9 177.6 197.7 159.1 217.2 161.6 133.9 175.3 190.1 167.7 171.8 195.4 128.3 153.5 146.4 160.7 125.7 158.9 110.0 151.1 182.9 179.9 239.0 154.1 203.4 96.0 165.2 174.3 238.5 197.5 250.8 152.9 198.8 214.0 195.7 175.1 142.8 179.8 212.2 157.9 166.0 164.6 217.4 165.4 74.0 156.2 167.2 161.4 194.8 151.3 151.3 159.7 141.1 156.5 195.1 169.5 210.6 157.5 168.4 173.3 221.5 158.2 144.3 176.1 113.5 170.5 107.7 158.5 167.0 162.5 104.1 160.5 130.4 165.2 215.0 159.5 166.8 171.7 135.8 152.4 222.6 168.9 113.8 155.3 98.1 157.4 159.5 164.1 182.6 203.0 101.5 156.2 179.1 157.0 65.9 166.7 167.4 178.3 184.8 181.6 232.3 166.3 109.0 171.2 204.3 163.9 139.2 157.1 152.5 158.7 130.8 161.5 168.8 154.5 135.5 171.7 127.8 165.7 169.6 167.9 154.4 158.2 187.8 178.9 162.8 155.4 206.8 175.2 174.2 157.7 158.4 160.5 197.7 166.7 173.3 158.3 223.7 146.8 166.1 162.6 158.3 168.6 228.8 164.9 105.6 161.7 208.3 181.2 149.5 166.4 167.3 147.8 240.9 164.5 232.4 160.0 158.4 179.7 201.6 175.1 111.0 168.7 141.5 157.1 132.5 159.3 180.1 151.8 222.7 154.1 155.3 170.1 196.0 154.9 115.6 169.9 189.1 152.0 231.3 152.2 160.9 162.0 151.8 157.2 173.5 155.1 132.8 159.4 156.2 155.9 161.4 185.0 215.7 160.6 234.2 191.1 180.3 163.0 121.7 163.5 218.4 156.2 208.8 178.6 153.7 161.4 166.1 157.0 193.3 162.8 158.0 160.2 172.9 180.4 195.4 153.7 184.6 176.7 222.4 180.1 166.7 152.5 120.4 168.3 219.7 152.0 174.6 150.1 140.0 163.7 127.0 173.0 140.2 166.9 202.2 112.0 166.3 157.5 188.5 65.4 119.6 115.7 141.0 159.0 137.6 138.3 198.9 182.8 231.4 174.0 95.7 160.2 223.1 160.1 223.9 175.0 211.2 156.8 225.2 150.0 163.0 181.1 129.0 168.4 124.7 152.7 114.7 156.9 127.4 151.3 157.2 187.6 136.3 157.0 239.4 151.0 192.4 155.6 101.1 150.7 217.4 156.0 117.8 157.9 170.2 153.1 180.9 166.8 220.6 174.6 189.4 154.9 203.2 159.5 150.1 176.9 108.7 168.9 112.0 166.0 147.9 158.3 110.2 148.2 216.9 159.5 151.9 161.2 248.1 182.0 124.4 153.8 261.1 155.0 145.0 170.4 233.5 66.4 215.4 134.1 231.7 85.1 182.3 159.8 228.1 154.5 196.8 154.3 194.0 169.4 197.7 151.7 121.5 157.1 162.8 152.0 95.8 155.0 150.4 161.3 185.4 160.4 216.9 157.2 211.6 158.6 116.3 149.5 229.3 177.1 124.4 183.9 118.6 165.4 189.4 155.6 176.3 175.6 156.4 163.4 204.2 159.4 223.8 163.7 124.6 167.1 129.7 154.0 142.8 161.4 167.4 157.2 169.3 159.4 185.5 155.4 175.5 173.0 164.5 148.1 153.8 161.5 165.7 164.7 121.5 153.2 138.1 187.8 110.4 166.5 208.8 165.6 113.8 180.2 180.7 159.2 195.6 157.7 169.7 200.4 148.7 175.0 109.8 159.6 84.0 157.5 139.7 178.9 220.3 165.8 214.4 158.7 137.7 162.3 246.9 153.8 122.6 150.0 97.9 156.0 165.8 162.5 147.1 154.4 129.0 155.5 210.6 165.5 204.5 168.2 200.7 158.8 177.0 162.5 111.7 162.3 206.0 155.5 132.4 163.3 94.6 185.1 165.7 179.6 127.2 162.5 111.0 152.6 226.3 153.3 252.6 154.5 233.2 182.4 171.6 163.9 141.1 153.7 123.8 175.8 211.1 147.0 89.0 112.2 209.9 146.7 202.1 178.0 148.7 165.6 261.1 153.1 123.8 164.8 238.5 170.0 147.1 156.9 265.4 163.5 80.7 154.7 178.4 256.7 132.2 156.3 89.0 162.1 183.2 171.1 197.9 177.3 138.7 138.6 233.2 168.6 207.7 155.6 124.3 148.9 163.2 155.9 150.6 209.0 176.0 162.5 153.6 157.8 253.6 63.4 166.9 151.6 215.5 160.7 233.7 202.3 182.2 158.5 225.4 177.0 113.0 161.1 135.3 156.0 230.6 154.2 165.9 163.9 169.3 150.6 181.1 159.6 109.6 172.2 234.6 158.2 223.3 121.6 215.8 192.7 189.7 169.7 118.0 159.1 258.3 161.1 175.1 164.3 122.6 154.3 226.8 157.3 235.7 177.0 153.8 167.3 222.3 176.2 132.2 156.3 174.1 168.1 190.3 163.5 178.6 174.9 164.0 163.7 212.6 148.2 158.9 167.6 111.8 177.5 192.7 164.7 209.3 158.4 219.9 156.9 254.9 158.2 182.3 155.2 196.5 177.8 195.5 170.2 147.6 156.8 114.6 178.6 146.7 159.1 136.8 184.7 212.4 172.6 179.8 153.4 148.4 161.5 127.7 155.1 178.3 153.7 218.2 160.6 144.5 158.8 90.6 154.5 201.0 135.6 163.4 153.8 203.6 157.5 198.0 156.4 109.9 151.2 104.6 159.0 213.0 156.8 218.0 160.1 243.8 164.8 196.3 156.7 180.4 157.8 193.7 158.0 137.9 156.4 169.3 162.2 179.3 156.7 145.1 150.8 235.2 157.6 153.5 160.5 175.5 150.1 108.1 160.1 215.9 157.5 210.2 151.4 220.4 157.5 192.1 168.4 156.3 187.2 119.8 165.0 167.3 158.8 140.6 162.5 133.8 154.4 164.9 161.3 213.8 165.7 168.6 183.1 204.8 161.0 216.6 162.2 98.5 155.8 147.3 177.9 127.2 182.0 153.5 163.6 158.6 157.7 169.8 167.2 230.2 156.8 200.6 161.0 153.6 161.4 250.7 153.9 202.6 155.8 171.8 158.6 244.5 162.2 121.8 153.9 207.4 160.0 142.2 167.6 153.6 167.6 178.9 161.4 171.1 161.3 210.9 154.8 137.5 157.1 155.4 157.8 149.3 172.6 146.6 156.9 191.1 168.7 227.3 166.5 164.4 162.0 202.9 185.0 214.1 159.1 186.0 159.3 231.8 179.1 193.1 172.6 210.6 157.8 151.8 169.1 166.4 153.9 180.4 157.1 140.3 116.6 133.2 156.3 187.3 170.7 239.6 161.6 255.3 160.5 173.8 151.7 156.1 169.8 223.4 156.1 128.3 162.4 250.6 155.6 175.9 168.9 220.1 154.8 217.0 156.1 199.8 156.2 153.4 160.8 261.2 151.7 210.8 178.9 242.9 169.2 233.8 164.7 163.7 152.4 199.4 164.2 238.3 151.2 169.0 127.3 176.5 158.6 109.4 217.0 170.5 158.2 111.2 172.3 190.8 152.7 209.5 164.7 127.6 160.7 198.9 157.0 135.0 179.3 168.7 154.8 146.0 157.0 108.2 160.2 219.6 155.3 223.0 174.7 172.6 165.3 173.8 159.5 150.6 164.2 116.3 132.3 157.7 160.9 121.8 159.9 227.5 179.5 199.7 151.2 119.9 155.0 235.5 157.4 198.0 152.7 264.1 152.9 248.6 152.6 125.1 117.8 156.8 174.0 191.9 152.3 111.5 177.3 170.1 173.9 160.5 161.5 104.4 157.8 189.7 157.0 205.1 151.3 258.5 175.8 172.7 156.8 218.2 156.6 153.8 177.0 141.2 160.5 174.2 122.9 114.3 159.4 102.5 157.3 120.4 162.1 125.3 162.3 142.1 154.1 102.0 160.2 258.7 174.9 189.9 184.4 245.8 148.2 156.7 151.5 95.4 164.3 226.6 152.2 148.0 156.6 242.7 155.1 156.1 173.7 238.8 150.4 93.5 167.9 238.3 167.5 207.7 157.3 153.8 157.1 99.7 157.2 163.7 150.2 214.3 166.1 148.5 161.9 214.3 155.4 208.0 159.0 147.4 161.8 153.3 158.5 184.5 172.3 174.0 157.9 149.7 165.3 165.9 178.3 119.2 160.5 218.0 162.1 227.1 161.1 117.8 160.0 113.9 169.2 211.4 157.0 107.5 158.9 253.7 169.4 222.5 166.7 172.0 157.9 238.1 165.1 122.3 166.0 200.5 150.6 135.5 158.1 149.2 159.7 201.0 162.5 53.2 157.2 167.1 174.7 243.2 170.4 178.7 157.8 150.0 159.7 161.5 165.8 230.1 157.8 247.1 151.7 191.4 157.9 227.9 213.7 154.8 159.5 189.3 156.7 194.3 153.6 211.6 151.0 138.9 170.6 250.9 182.5 212.2 147.8 95.9 152.6 169.8 162.0 173.8 163.1 259.6 153.3 206.1 150.3 173.3 167.0 177.4 179.0 214.6 155.8 191.2 173.2 208.4 174.3 64.2 165.5 109.5 157.9 171.5 178.6 129.5 150.3 135.0 164.7 128.8 161.6 132.4 162.1 136.8 169.0 202.4 150.8 175.3 171.9 96.5 165.7 87.9 169.4 154.9 159.0 240.7 166.6 91.8 159.4 210.9 158.0 153.1 153.2 157.4 150.7 86.0 156.5 73.4 168.8 160.7 162.7 192.1 160.4 204.1 159.5 176.9 155.5 167.7 141.2 125.9 208.1 141.1 153.5 188.7 151.8 270.0 186.5 162.5 166.3 239.8 157.8 180.3 152.4 231.0 170.7 198.2 158.9 217.7 165.7 240.4 152.4 224.0 160.8 168.0 168.8 192.8 173.7 235.6 171.4 186.1 157.3 138.8 159.3 222.9 156.3 123.0 174.1 129.7 160.8 254.4 190.2 101.3 151.6 172.4 156.8 207.4 167.7 138.2 151.9 200.2 162.0 167.0 164.5 235.1 152.3 126.6 172.0 149.4 202.4 155.1 178.6 205.8 164.4 155.6 152.1 97.2 152.1 209.9 167.3 141.3 164.9 268.2 172.0 258.9 156.5 134.6 174.8 189.4 156.6 217.3 162.8 223.8 155.4 198.2 157.5 110.7 158.5 243.7 167.6 146.5 148.4 117.8 161.1 213.9 157.3 194.2 164.3 205.1 152.6 151.1 185.2 164.0 157.1 177.7 157.9 186.6 155.9 138.8 153.5 133.6 149.6 219.7 156.7 194.7 151.6 135.9 179.9 147.8 172.2 196.2 154.5 213.1 160.7 243.7 160.0 78.8 173.5 187.5 165.1 159.1 163.5 143.6 162.2 116.2 157.1 205.6 150.3 203.1 172.6 168.5 161.7 191.8 163.6 116.4 158.5 159.0 164.7 129.0 162.1 128.1 171.8 209.2 157.2 89.3 147.3 148.0 162.7 219.0 155.2 186.3 158.8 250.5 156.0 199.1 154.9 169.3 185.1 148.6 163.3 120.2 154.0 155.6 157.9 191.9 187.6 227.8 156.9 172.9 171.8 181.6 160.8 239.5 164.4 151.6 181.4 151.0 192.5 172.5 174.4 151.8 173.7 177.6 154.8 192.1 151.7 184.2 95.8 104.3 168.8 197.9 167.0 192.0 157.6 79.6 163.9 123.7 156.4 242.4 156.1 160.2 172.5 169.4 160.2 144.0 159.5 190.7 169.7 163.3 158.1 159.4 184.1 93.6 152.7 157.3 168.3 201.0 112.9 154.6 172.3 183.5 177.8 171.3 170.4 213.8 116.4 230.5 161.4 213.7 153.1 95.2 162.0 244.4 153.8 121.2 163.3 208.9 201.3 156.2 164.3 171.0 183.8 164.9 161.8 66.4 157.5 158.2 116.8 150.9 153.1 112.0 72.4 178.0 150.4 150.3 158.7 151.5 159.7 172.5 162.3 121.7 172.5 238.7 156.8 167.1 161.7 243.3 188.7 193.9 156.0 122.5 156.3 237.4 154.2 222.0 169.6 122.4 187.2 192.6 153.7 218.8 171.0 120.2 150.0 206.6 151.9 194.5 183.6 123.7 155.2 208.2 161.7 119.6 164.5 112.2 161.9 160.2 159.6 173.8 167.7 200.4 157.6 125.2 158.8 160.6 190.8 144.1 158.4 151.6 177.8 198.8 156.7 145.6 156.7 186.5 161.4 196.5 161.5 149.5 159.1 144.9 169.2 202.8 172.1 175.3 154.9 196.4 156.8 194.7 163.9 124.1 166.5 158.5 151.9 179.0 158.0 159.4 160.0 184.1 165.8 159.8 162.3 247.2 153.9 179.0 164.2 217.6 156.9 175.5 164.5 195.8 157.1 169.8 157.6 134.5 158.3 193.5 154.5 144.5 152.4 204.6 159.9 194.4 170.9 97.9 177.9 186.0 153.7 132.3 161.8 191.6 169.8 234.9 155.3 139.2 158.6 164.4 155.0 142.4 159.5 187.5 158.2 163.9 154.3 143.0 161.8 169.6 163.3 212.0 160.2 133.4 164.8 194.9 148.3 137.7 151.3 196.4 153.2 228.6 159.1 149.8 161.0 105.5 150.5 239.2 161.1 210.1 161.6 104.4 172.3 103.6 160.7 222.0 161.3 199.5 168.2 124.4 184.0 112.9 197.4 214.6 157.5 138.3 172.8 187.5 78.1 88.9 173.1 173.6 158.7 203.7 168.6 202.9 150.2 167.1 157.9 171.5 159.2 199.5 165.9 216.9 150.0 145.3 168.9 238.6 170.7 125.5 159.5 197.9 153.1 86.9 157.1 183.2 170.3 249.4 149.8 260.0 147.7 182.8 167.4 217.1 165.8 150.5 159.4 138.6 153.6 148.1 175.9 151.0 170.4 78.3 179.3 187.7 153.1 188.7 163.5 184.6 172.5 203.3 153.0 114.8 154.0 122.9 163.3 192.2 151.5 228.7 149.9 130.9 154.7 201.8 147.0 135.5 169.5 162.1 158.3 175.8 157.6 159.9 157.4 229.7 154.9 114.8 161.1 105.7 153.8 95.2 159.0 172.6 160.6 121.4 160.4 183.1 162.4 112.4 158.6 154.5 172.7 197.6 158.4 217.3 155.7 101.0 158.3 218.4 159.3 147.7 178.1 141.0 154.7 151.5 174.8 249.5 156.5 84.8 157.8 209.1 214.4 127.6 161.8 228.6 151.8 232.6 166.1 211.5 165.6 193.2 171.5 183.1 174.6 137.3 191.5 223.1 151.2 229.6 156.3 154.3 163.1 154.3 172.6 214.1 162.9 122.9 156.3 161.7 178.9 172.0 171.5 208.8 166.3 130.0 165.1 121.0 160.0 215.9 149.3 240.3 154.5 180.9 163.0 160.2 164.2 204.0 156.8 149.0 161.9 141.6 173.1 232.5 160.2 248.4 162.7 206.8 160.1 110.9 165.3 137.4 155.6 258.9 159.0 137.7 173.3 159.5 168.0 179.8 177.9 213.6 155.2 181.5 157.4 117.6 157.2 83.7 158.2 195.7 173.9 158.0 158.5 215.6 176.7 221.8 155.2 196.2 157.3 206.6 150.2 126.0 172.5 141.5 171.9 148.0 155.7 227.5 154.2 105.6 154.2 174.9 160.9 211.8 152.3 193.4 165.5 177.4 155.7 203.6 108.6 193.0 155.6 165.9 156.9 135.5 164.6 146.0 158.2 164.9 175.0 207.5 150.2 206.0 160.2 185.3 179.4 168.9 167.4 161.3 159.5 186.4 169.1 86.5 153.7 166.1 159.2 207.5 159.1 226.0 149.0 152.3 159.7 150.0 154.8 160.7 149.9 186.0 167.4 218.0 159.3 165.9 154.3 252.5 147.9 267.0 152.5 161.8 157.2 249.3 153.1 126.3 157.9 69.5 158.2 228.9 155.7 93.3 160.3 129.3 169.8 125.8 177.4 169.9 156.8 228.5 150.4 168.4 179.1 118.2 153.7 128.3 159.6 155.6 150.4 238.5 165.6 134.3 193.5 219.1 163.2 188.5 159.0 134.6 152.6 156.9 163.9 236.0 153.4 116.4 162.4 208.3 171.1 169.1 164.0 125.4 161.6 229.6 167.4 227.0 161.3 137.8 156.3 190.3 158.6 185.9 156.3 251.9 182.1 99.2 162.9 162.5 166.9 171.9 151.6 168.5 160.8 227.3 157.6 178.3 158.0 153.9 153.4 162.2 169.3 151.3 160.5 191.6 163.5 219.1 156.5 151.7 157.1 194.9 150.2 135.3 158.0 152.3 156.9 81.3 159.5 216.1 153.2 130.6 155.7 106.5 160.4 236.7 151.2 217.9 159.5 188.7 159.9 100.9 160.6 97.6 172.7 140.3 158.3 225.5 158.1 149.2 184.8 198.3 172.6 153.5 162.7 213.2 158.0 171.8 160.4 152.4 191.8 224.2 157.4 116.3 157.5 212.8 156.7 198.6 173.4 140.3 155.9 132.3 155.5 126.5 167.5 117.1 156.7 213.6 157.3 236.3 155.1 97.5 165.0 112.2 158.3 79.5 159.6 122.7 162.6 189.4 156.3 161.4 170.6 248.6 153.8 149.0 164.0 172.2 167.2 234.3 157.5 133.2 154.9 112.0 166.8 225.6 170.5 130.1 147.7 140.4 158.6 140.2 181.2 173.1 154.0 226.5 169.8 228.9 152.6 178.0 151.5 176.3 160.6 222.1 155.3 134.7 157.9 192.9 154.3 181.2 160.2 140.1 158.5 141.6 154.5 187.0 163.5 145.6 151.7 171.6 163.3 175.6 158.1 209.6 177.5 142.1 163.7 107.4 194.9 220.0 159.8 216.3 160.5 151.5 168.4 161.4 159.7 99.1 167.6 199.5 156.0 135.2 166.6 166.2 167.0 249.6 153.6 260.0 166.8 212.6 172.0 175.2 158.3 186.7 134.6 166.2 184.2 202.1 151.9 182.6 160.8 203.0 153.0 197.7 154.2 137.1 153.7 197.9 163.2 207.7 161.5 148.8 169.1 207.6 163.2 119.9 169.2 180.4 145.4 111.6 177.5 83.6 156.5 172.5 163.4 133.6 176.4 181.6 162.9 101.2 188.6 128.7 160.1 142.9 164.7 256.8 159.5 193.3 160.2 154.9 156.6 252.2 153.7 223.3 158.9 107.4 166.6 234.7 163.0 144.7 159.3 137.0 157.0 201.0 168.2 124.9 162.1 232.2 158.8 188.8 159.7 205.0 154.5 241.1 156.2 172.8 157.1 147.8 169.2 190.6 160.4 124.6 160.8 128.8 162.6 111.1 171.6 251.2 154.1 112.0 150.6 154.8 158.3 121.6 156.3 261.3 155.2 132.3 159.1 228.7 173.6 94.4 189.3 196.5 167.7 221.7 159.2 220.8 148.1 227.5 176.4 100.5 180.9 179.8 156.3 166.5 159.1 139.9 177.5 225.0 187.2 164.2 159.2 241.5 151.5 109.4 154.5 142.9 156.4 147.6 158.8 170.9 155.8 176.5 168.3 128.5 161.8 114.9 192.3 174.1 179.3 119.3 157.5 128.2 167.0 129.7 209.1 159.6 161.0 191.6 160.0 206.1 169.9 136.0 194.2 173.6 181.2 100.9 154.2 134.6 169.4 227.0 165.6 259.3 180.9 83.3 160.9 194.8 162.5 134.3 189.1 148.1 158.9 129.9 137.6 152.8 169.9 99.4 153.7 196.0 124.6 155.7 158.4 109.0 185.2 104.5 164.1 193.1 181.3 155.6 156.3 141.4 171.6 150.4 156.9 182.1 185.6 172.3 155.9 191.5 163.5 217.4 159.7 230.4 168.0 162.5 235.9 121.4 176.8 136.2 150.5 210.4 157.9 170.2 159.5 153.8 157.3 241.1 169.8 151.5 158.5 117.2 158.1 215.6 158.5 218.4 149.8 192.1 190.6 172.5 181.2 81.1 154.8 171.0 154.5 217.7 182.2 131.3 155.1 184.6 182.6 103.7 155.2 184.9 157.6 141.1 159.3 203.6 160.6 196.4 176.5 177.1 163.0 151.4 184.9 157.8 158.9 109.7 159.8 209.4 164.5 249.1 150.7 100.0 184.3 209.3 160.0 230.4 151.6 183.1 178.2 214.4 172.6 161.0 157.9 249.8 151.7 206.6 161.3 145.7 164.5 198.1 161.1 190.7 179.0 103.9 177.5 200.2 145.1 219.0 158.2 125.6 164.9 249.8 154.8 124.3 167.2 161.9 172.9 119.7 157.6 150.3 151.1 213.2 166.4 228.2 154.5 217.7 168.8 130.9 157.6 210.7 173.5 194.6 183.7 177.9 156.6 126.5 168.4 208.3 164.4 188.4 170.9 92.8 176.3 177.4 181.7 153.1 169.0 230.2 154.7 136.9 232.2 170.6 185.5 189.9 177.6 180.2 157.3 87.5 154.7 164.9 127.4 59.7 159.2 124.5 172.9 193.7 156.5 137.6 160.4 137.4 152.3 171.2 157.9 134.7 160.7 259.5 161.1 143.1 162.9 196.1 158.6 124.0 163.0 240.5 158.1 213.7 162.7 207.5 159.1 132.3 170.1 168.0 159.0 130.4 174.1 161.4 157.0 133.5 158.2 247.2 155.8 249.2 183.9 195.1 93.7 171.3 160.6 132.2 165.1 210.4 175.1 192.3 155.7 107.8 149.1 166.5 162.3 166.0 153.5 241.9 150.6 218.3 155.0 136.6 167.6 111.9 158.1 159.9 160.0 112.1 160.9 257.2 113.8 185.5 155.1 202.8 173.4 189.5 159.5 177.5 169.1 186.1 156.8 183.6 161.2 176.4 158.0 187.2 154.6 192.4 159.5 207.5 161.1 229.9 161.5 179.8 163.4 121.4 214.9 140.1 169.3 208.4 195.3 111.4 162.7 127.6 166.7 115.9 184.4 198.4 164.8 211.5 156.8 137.2 158.6 128.7 156.3 200.8 166.2 197.8 172.4 217.4 155.0 158.0 157.0 181.6 169.2 154.0 159.3 74.4 153.5 93.7 152.0 239.8 169.0 116.4 162.8 158.1 176.0 158.1 151.8 179.6 161.9 174.4 174.7 144.3 158.3 174.8 158.6 205.8 156.7 165.0 170.8 154.2 158.1 151.4 169.9 116.3 160.1 122.6 164.2 179.2 167.4 165.5 164.1 174.0 152.5 234.8 161.2 168.9 158.9 170.5 157.6 210.0 159.4 183.2 171.5 134.9 154.6 159.6 171.3 184.4 171.9 179.6 184.0 178.7 159.3 173.7 177.6 115.7 149.3 165.5 156.0 182.5 181.5 144.3 157.8 230.8 174.1 128.1 163.7 225.4 154.6 96.9 192.9 146.7 164.9 151.7 158.4 222.5 156.9 199.6 152.6 230.1 155.2 144.6 161.7 236.9 165.9 135.7 158.2 251.3 155.3 232.7 155.7 125.1 155.0 142.3 191.7 102.4 172.5 194.6 174.6 107.2 161.1 183.7 164.9 132.8 150.0 172.6 159.0 217.8 149.9 188.9 174.2 125.5 156.4 139.0 158.5 110.7 176.8 126.4 158.9 192.9 175.5 222.2 155.3 213.4 156.9 144.0 145.3 213.2 157.0 116.8 215.3 180.4 161.2 218.1 149.9 102.1 152.4 179.9 166.3 112.1 159.5 232.5 156.1 148.4 159.3 146.9 157.1 163.8 157.0 185.4 164.9 158.3 159.1 211.7 156.0 159.3 174.1 198.8 170.2 225.2 181.4 217.4 156.5 152.4 160.0 181.7 160.5 175.9 164.4 204.3 179.6 148.2 177.9 143.5 156.9 241.5 154.6 213.4 169.7 189.1 162.9 217.1 178.7 168.0 189.4 229.7 175.6 141.4 159.7 150.0 169.3 127.5 155.5 171.3 165.5 170.6 183.3 254.4 157.8 226.3 188.9 221.6 169.7 182.0 172.3 136.2 159.4 183.5 170.8 98.8 168.2 186.6 157.5 248.8 165.0 215.3 147.7 209.0 157.5 200.9 169.7 204.0 158.5 241.0 155.3 206.0 159.3 176.3 159.0 148.7 146.2 204.7 163.9 159.4 161.1 138.0 160.2 175.3 179.7 199.7 178.2 118.8 160.2 185.2 159.6 146.9 164.5 257.3 145.7 210.0 161.7 89.8 158.1 142.8 159.2 162.5 134.3 169.7 151.8 107.8 157.4 153.5 166.0 229.7 151.6 224.8 155.3 204.3 170.5 170.6 167.5 240.8 152.0 95.5 156.7 219.5 158.5 142.4 164.1 136.0 158.5 243.9 160.9 165.9 185.8 180.6 158.6 125.5 159.2 186.7 153.0 211.7 152.4 175.3 149.9 193.3 139.0 191.0 160.8 189.4 155.7 150.2 166.9 119.3 176.1 170.6 196.0 209.1 156.8 174.9 162.1 205.4 164.0 223.0 149.5 168.3 157.9 254.7 156.4 182.2 160.4 147.2 155.4 181.5 172.0 187.2 153.8 121.7 159.8 132.1 174.6 212.4 154.2 210.0 167.7 142.1 160.7 220.8 155.4 118.9 169.1 110.8 167.7 179.2 159.4 169.5 163.4 162.4 173.7 175.8 157.8 119.7 155.7 161.4 154.9 173.3 168.1 222.0 156.0 124.0 192.1 205.9 163.2 189.3 160.7 173.8 163.5 123.1 188.6 142.1 159.8 152.1 162.0 195.2 161.3 115.5 153.9 204.0 157.4 147.1 153.0 225.0 175.5 188.5 165.7 142.7 158.0 235.3 163.0 152.6 160.4 188.5 167.9 163.3 156.5 134.5 178.8 222.9 159.8 233.1 178.2 177.3 164.7 140.6 160.8 218.2 162.1 211.6 179.2 151.7 163.0 230.7 158.2 245.7 144.3 196.6 164.6 145.3 164.1 152.0 169.8 172.0 189.7 179.5 174.1 191.5 117.4 243.5 167.6 203.2 153.0 123.9 181.5 194.4 167.6 255.3 160.5 238.9 155.1 125.0 170.2 174.6 149.8 152.3 187.6 197.5 149.3 140.2 175.8 116.1 155.8 144.1 185.6 175.6 167.4 116.9 159.0 126.8 127.6 193.1 168.7 243.3 167.3 101.3 155.5 219.1 161.4 174.2 169.7 122.4 156.1 177.0 174.0 170.2 152.9 219.8 163.2 165.4 158.2 197.4 165.7 113.1 155.9 147.5 155.1 214.0 156.3 151.9 157.1 164.4 169.3 210.2 155.5 173.9 162.1 223.2 158.4 196.5 152.0 152.0 154.2 258.0 153.1 197.7 162.6 95.7 160.1 148.3 151.6 197.4 159.1 131.6 160.5 163.6 174.4 185.2 166.7 163.4 243.1 101.8 168.0 192.1 155.5 216.4 159.4 210.8 157.7 127.0 160.1 143.5 160.6 213.7 155.3 138.3 157.8 175.1 169.7 165.1 170.1 164.5 161.6 201.6 162.6 156.3 160.2 187.2 158.4 187.0 178.1 122.7 158.9 165.9 161.2 132.5 150.0 176.7 158.9 95.8 159.6 214.8 169.7 153.6 177.9 245.6 152.6 174.7 151.7 138.5 157.0 253.4 155.3 124.9 169.7 125.6 161.0 203.4 156.8 148.6 157.1 115.6 158.4 166.8 152.6 231.3 172.8 157.4 154.1 97.7 162.5 143.7 187.0 123.7 164.6 167.9 154.0 228.3 165.1 193.8 157.6 208.8 174.6 159.1 161.2 144.0 197.3 96.7 170.0 157.2 158.0 153.1 159.8 249.5 165.5 213.6 181.3 101.4 158.4 152.2 175.3 194.3 168.3 146.1 166.9 199.8 164.4 79.6 173.2 236.9 150.7 171.1 161.0 174.6 187.0 125.6 167.1 211.8 107.4 148.7 164.1 154.5 161.9 205.4 110.1 246.4 158.7 112.0 161.6 56.6 156.8 161.7 169.6 146.0 152.4 212.9 159.0 154.0 165.3 188.8 163.9 207.1 157.3 203.8 152.9 113.8 179.5 153.3 157.7 239.1 179.8 204.4 157.1 224.0 151.8 104.0 156.0 161.0 161.6 216.1 165.2 171.8 161.7 221.5 167.4 96.0 162.4 185.5 154.6 147.5 168.2 168.5 169.6 182.3 158.3 163.4 157.3 127.6 154.7 187.6 162.1 233.9 156.6 182.4 162.0 176.9 155.1 113.4 160.5 167.7 159.6 109.0 154.0 152.5 153.1 116.2 151.5 162.0 157.7 123.2 167.9 183.3 157.7 69.4 161.0 202.5 171.8 133.0 152.5 110.6 181.1 195.3 177.5 165.6 163.1 192.8 156.0 199.9 159.4 117.9 162.6 137.9 156.0 230.1 177.9 226.5 152.6 225.4 164.3 143.4 159.0 160.2 160.7 216.2 149.6 163.4 157.2 204.9 157.5 173.0 185.2 169.3 156.4 178.4 190.1 123.0 181.0 210.9 154.6 157.5 154.3 207.4 154.0 252.9 163.1 116.4 150.1 213.4 169.9 117.9 164.2 188.4 158.2 205.0 152.6 207.1 157.0 199.8 155.9 158.7 168.4 77.7 161.4 140.5 157.5 159.5 112.0 170.6 159.8 244.5 157.2 195.5 192.9 224.2 156.7 259.2 156.8 116.8 155.4 137.1 163.2 216.4 155.4 169.7 157.9 208.1 181.9 189.1 159.4 216.1 169.6 116.7 178.8 236.7 151.5 219.9 159.7 64.5 156.1 197.1 124.7 133.6 158.0 160.5 155.9 153.5 188.6 166.3 172.6 126.9 157.7 203.2 170.3 85.7 156.2 219.3 170.4 129.2 153.9 108.8 163.1 159.3 182.8 108.6 159.2 164.9 168.3 202.6 155.9 100.1 157.7 135.5 167.5 219.0 158.3 136.6 124.6 257.8 163.2 126.6 158.0 145.8 149.2 239.7 155.7 134.5 151.7 164.8 170.9 87.3 154.3 91.9 175.2 208.0 162.8 142.1 158.1 256.1 157.1 135.7 154.7 202.3 155.2 211.3 154.5 238.4 150.6 169.8 154.2 217.8 155.6 114.6 162.6" fill="none" marker-start="url(#mA10)" marker-mid="url(#mA10)" marker-end="url(#mA10)"/></g>
<path d="M44.3 94.4 50.1 96.0 55.9 97.6 61.8 99.1 67.6 100.6 73.4 102.0 79.2 103.4 85.0 104.8 90.9 106.1 96.7 107.3 102.5 108.5 108.3 109.7 114.1 110.8 120.0 111.8 125.8 112.8 131.6 113.8 137.4 114.7 143.2 115.5 149.1 116.3 154.9 117.0 160.7 117.7 166.5 118.3 172.4 118.9 178.2 119.4 184.0 119.9 189.8 120.3 195.6 120.6 201.5 120.9 207.3 121.2 213.1 121.3 218.9 121.4 224.7 121.5 230.6 121.5 236.4 121.4 242.2 121.3 248.0 121.1 253.8 120.8 259.7 120.5 265.5 120.2 271.3 119.7 271.3 126.1 265.5 126.2 259.7 126.3 253.8 126.3 248.0 126.3 242.2 126.3 236.4 126.1 230.6 126.0 224.7 125.8 218.9 125.6 213.1 125.3 207.3 125.0 201.5 124.6 195.6 124.2 189.8 123.7 184.0 123.3 178.2 122.7 172.4 122.2 166.5 121.6 160.7 120.9 154.9 120.2 149.1 119.5 143.2 118.8 137.4 118.0 131.6 117.2 125.8 116.3 120.0 115.4 114.1 114.5 108.3 113.5 102.5 112.5 96.7 111.5 90.9 110.4 85.0 109.3 79.2 108.2 73.4 107.0 67.6 105.8 61.8 104.6 55.9 103.3 50.1 102.1 44.3 100.8Z" fill="#999" fill-opacity="0.22"/><path d="M44.3 97.6 50.1 99.0 55.9 100.5 61.8 101.9 67.6 103.2 73.4 104.5 79.2 105.8 85.0 107.0 90.9 108.2 96.7 109.4 102.5 110.5 108.3 111.6 114.1 112.6 120.0 113.6 125.8 114.6 131.6 115.5 137.4 116.3 143.2 117.1 149.1 117.9 154.9 118.6 160.7 119.3 166.5 120.0 172.4 120.5 178.2 121.1 184.0 121.6 189.8 122.0 195.6 122.4 201.5 122.8 207.3 123.1 213.1 123.3 218.9 123.5 224.7 123.6 230.6 123.7 236.4 123.8 242.2 123.8 248.0 123.7 253.8 123.6 259.7 123.4 265.5 123.2 271.3 122.9" stroke="#a8a8a8" stroke-width="3.4" fill="none" stroke-linejoin="round"/><path d="M44.3 148.2 56.2 148.2 68.2 148.2 80.1 148.2 92.1 148.1 104.0 147.9 116.0 147.8 127.9 147.6 139.9 147.4 151.8 147.1 163.8 146.8 175.7 146.5 187.7 146.1 199.6 145.7 211.6 145.2 223.5 144.8 235.5 144.3 247.4 143.7 259.4 143.1 271.3 142.5 271.3 148.9 259.4 148.9 247.4 148.9 235.5 148.9 223.5 149.0 211.6 149.2 199.6 149.3 187.7 149.5 175.7 149.7 163.8 150.0 151.8 150.3 139.9 150.6 127.9 151.0 116.0 151.4 104.0 151.9 92.1 152.3 80.1 152.8 68.2 153.4 56.2 154.0 44.3 154.6Z" fill="#999" fill-opacity="0.22"/><path d="M44.3 151.4 56.2 151.1 68.2 150.8 80.1 150.5 92.1 150.2 104.0 149.9 116.0 149.6 127.9 149.3 139.9 149.0 151.8 148.7 163.8 148.4 175.7 148.1 187.7 147.8 199.6 147.5 211.6 147.2 223.5 146.9 235.5 146.6 247.4 146.3 259.4 146.0 271.3 145.7" stroke="#00c400" stroke-width="3.4" fill="none" stroke-linejoin="round"/><path d="M44.3 154.3 50.1 154.5 55.9 154.6 61.8 154.7 67.6 154.8 73.4 154.9 79.2 155.0 85.0 155.1 90.9 155.1 96.7 155.2 102.5 155.2 108.3 155.3 114.1 155.3 120.0 155.3 125.8 155.2 131.6 155.2 137.4 155.2 143.2 155.1 149.1 155.1 154.9 155.0 160.7 154.9 166.5 154.8 172.4 154.7 178.2 154.5 184.0 154.4 189.8 154.2 195.6 154.1 201.5 153.9 207.3 153.7 213.1 153.5 218.9 153.3 224.7 153.0 230.6 152.8 236.4 152.5 242.2 152.3 248.0 152.0 253.8 151.7 259.7 151.4 265.5 151.0 271.3 150.7 271.3 157.1 265.5 157.1 259.7 157.1 253.8 157.2 248.0 157.2 242.2 157.2 236.4 157.3 230.6 157.3 224.7 157.3 218.9 157.4 213.1 157.4 207.3 157.5 201.5 157.6 195.6 157.6 189.8 157.7 184.0 157.8 178.2 157.8 172.4 157.9 166.5 158.0 160.7 158.1 154.9 158.2 149.1 158.3 143.2 158.4 137.4 158.5 131.6 158.6 125.8 158.7 120.0 158.8 114.1 158.9 108.3 159.1 102.5 159.2 96.7 159.3 90.9 159.5 85.0 159.6 79.2 159.7 73.4 159.9 67.6 160.0 61.8 160.2 55.9 160.4 50.1 160.5 44.3 160.7Z" fill="#999" fill-opacity="0.22"/><path d="M44.3 157.5 50.1 157.5 55.9 157.5 61.8 157.5 67.6 157.4 73.4 157.4 79.2 157.4 85.0 157.3 90.9 157.3 96.7 157.3 102.5 157.2 108.3 157.2 114.1 157.1 120.0 157.0 125.8 157.0 131.6 156.9 137.4 156.8 143.2 156.8 149.1 156.7 154.9 156.6 160.7 156.5 166.5 156.4 172.4 156.3 178.2 156.2 184.0 156.1 189.8 156.0 195.6 155.8 201.5 155.7 207.3 155.6 213.1 155.5 218.9 155.3 224.7 155.2 230.6 155.0 236.4 154.9 242.2 154.7 248.0 154.6 253.8 154.4 259.7 154.2 265.5 154.1 271.3 153.9" stroke="#004f00" stroke-width="3.2" fill="none" stroke-linejoin="round"/>
</g>
<rect x="33" y="22" width="250" height="243" fill="none" stroke="#4a4a4a" stroke-width="1.6"/>
<path d="M42.68 265v3.3M84.16 265v3.3M125.63 265v3.3M167.11 265v3.3M208.58 265v3.3M250.06 265v3.3M33 209.55h-3.3M33 146.55h-3.3M33 83.55h-3.3" stroke="#333" stroke-width="1.1" fill="none"/>
<text class="tk" x="42.68" y="277.6" text-anchor="middle">-5</text>
<text class="tk" x="84.16" y="277.6" text-anchor="middle">0</text>
<text class="tk" x="125.63" y="277.6" text-anchor="middle">5</text>
<text class="tk" x="167.11" y="277.6" text-anchor="middle">10</text>
<text class="tk" x="208.58" y="277.6" text-anchor="middle">15</text>
<text class="tk" x="250.06" y="277.6" text-anchor="middle">20</text>
<text class="tk" x="27.90" y="213.65" text-anchor="end">-2</text>
<text class="tk" x="27.90" y="150.65" text-anchor="end">0</text>
<text class="tk" x="27.90" y="87.65" text-anchor="end">2</text>
<text class="tt" x="158.00" y="290.8" text-anchor="middle">PWS Average Minimum Daily Temperature (C)</text>
<text class="tt" style="font-size:11.6px" transform="translate(12.4 141.8) rotate(-90)" text-anchor="middle">PWS Minimum Temperature Anomaly (C)</text>
<text x="0.6" y="8.8" style="font-size:15px;font-weight:bold">a</text>
<clipPath id="c324"><rect x="324" y="22" width="248" height="243"/></clipPath>
<path d="M368.02 22V265M425.67 22V265M483.32 22V265M540.97 22V265M324 255.48H572M324 184.58H572M324 113.68H572M324 42.78H572" stroke="#ededed" stroke-width="1.1" fill="none"/>
<path d="M339.20 22V265M396.85 22V265M454.50 22V265M512.15 22V265M569.80 22V265M324 220.03H572M324 149.13H572M324 78.23H572" stroke="#ebebeb" stroke-width="1.3" fill="none"/>
<g clip-path="url(#c324)">
<g filter="url(#bl)"><path d="M432.6 137.7 419.1 142.0 483.2 131.6 467.8 152.7 431.2 141.0 433.7 145.7 468.7 139.8 440.7 138.0 487.7 138.5 459.8 129.4 435.0 139.0 463.3 138.8 474.3 139.6 466.6 138.7 411.9 136.6 471.0 141.9 478.8 150.5 434.2 126.0 422.9 142.4 375.2 138.8 349.7 130.9 462.2 135.7 461.8 139.2 460.9 138.1 392.6 136.0 420.0 144.4 464.5 149.0 381.3 128.3 429.9 139.8 455.2 134.0 415.0 139.0 416.8 150.2 442.9 138.2 408.0 138.6 424.0 134.8 404.3 139.8 463.1 149.8 472.4 125.5 417.5 139.0 469.2 145.2 399.8 138.4 414.8 140.5 410.0 145.8 452.2 137.8 437.1 147.4 382.5 145.8 512.1 141.5 456.9 153.7 414.7 136.4 400.8 141.1 481.4 134.6 428.3 137.6 422.2 138.3 421.3 139.8 494.6 141.3 420.5 124.9 470.6 137.6 390.4 134.7 455.0 128.3 478.7 134.6 480.8 140.4 460.2 152.4 416.7 133.7 425.8 147.2 443.1 133.4 470.8 136.6 475.3 133.0 370.3 132.8 388.4 141.1 488.2 139.2 506.1 133.2 468.0 128.7 494.8 130.7 401.6 131.2 442.2 129.3 498.4 134.4 393.8 120.0 447.5 131.7 480.4 132.6 481.0 135.1 398.0 130.9 498.9 145.7 436.6 142.7 466.9 138.7 453.3 135.4 488.0 136.9 401.2 144.5 482.4 134.7 405.3 142.9 441.2 153.9 487.2 139.3 461.3 143.7 524.2 138.0 409.8 142.5 403.5 128.1 378.3 128.4 492.2 142.2 398.0 134.1 385.9 153.0 444.6 135.3 404.5 140.2 431.0 139.3 473.6 137.1 434.2 148.7 424.8 139.9 519.3 134.8 433.2 147.0 391.2 133.6 462.1 131.9 495.3 141.4 461.5 123.4 446.8 133.7 424.8 137.5 373.6 113.3 498.6 134.2 430.9 139.1 408.6 139.0 468.2 158.9 476.3 127.6 491.1 138.1 396.3 150.2 480.2 135.7 447.8 139.9 420.8 132.2 436.3 141.5 474.5 135.0 442.2 141.7 416.1 144.3 456.5 134.4 390.8 136.5 379.8 130.7 462.0 147.7 473.2 152.0 452.6 134.0 390.3 136.5 395.0 139.5 399.4 131.7 410.7 131.9 497.0 129.5 427.7 133.9 437.2 133.5 460.5 132.3 388.6 145.9 444.1 134.3 461.8 140.6 404.9 135.3 416.8 127.5 393.1 143.9 463.9 140.9 482.4 143.1 451.5 117.0 430.2 140.6 418.4 141.3 457.2 148.6 504.2 136.9 405.4 142.8 464.9 134.9 451.1 151.8 487.5 130.2 437.9 147.9 473.1 137.0 383.8 144.8 453.1 139.4 424.5 148.2 379.3 134.6 449.2 146.7 425.5 145.5 439.0 150.3 432.4 129.8 502.8 139.1 441.9 148.4 477.0 144.6 471.8 133.7 482.2 130.2 430.6 148.8 450.6 146.7 467.7 141.3 392.3 133.8 386.4 139.2 476.3 150.0 489.9 130.1 461.1 147.9 462.2 146.0 408.7 146.7 483.3 129.0 388.4 130.1 419.3 133.3 481.1 145.5 489.3 123.2 424.5 130.5 376.5 141.9 485.0 138.4 397.0 141.2 421.9 137.9 475.5 138.0 424.3 129.4 445.4 126.9 406.9 140.7 410.6 140.0 431.1 135.5 452.7 144.5 417.5 130.9 497.0 141.7 507.2 145.3 452.5 136.8 425.1 140.2 421.9 140.1 384.9 132.3 496.0 136.1 449.5 141.6 466.7 136.8 435.8 156.6 401.4 134.2 465.0 129.7 398.9 136.0 399.5 128.7 482.3 137.5 421.8 132.2 465.7 146.4 395.7 140.9 401.9 136.1 433.7 126.2 473.7 123.3 464.7 146.9 372.0 131.4 436.4 137.7 393.7 143.1 451.3 138.3 413.6 133.2 434.5 137.8 426.0 135.7 357.3 127.2 449.3 140.7 373.6 125.0 479.0 140.5 400.2 137.3 426.2 150.0 440.8 144.5 395.3 136.0 398.1 136.1 420.7 134.9 444.3 144.1 479.8 129.7 424.0 140.6 478.4 144.6 435.6 133.6 443.1 128.8 461.2 142.7 451.3 127.4 392.1 135.8 463.0 125.7 510.5 144.6 467.9 130.8 529.8 141.6 379.9 135.8 433.7 134.9 413.8 148.4 359.8 127.8 462.1 150.7 463.5 144.0 504.3 141.8 455.2 146.0 453.7 145.8 476.9 134.2 472.4 147.5 409.1 137.2 429.5 131.3 477.3 157.0 373.6 138.5 439.4 144.1 485.5 126.9 458.6 130.3 471.3 151.8 389.9 130.4 411.9 139.4 524.3 136.0 397.7 131.1 505.9 145.7 499.9 135.4 380.4 119.4 474.1 139.1 453.9 146.8 511.4 125.8 455.9 141.0 406.5 139.3 454.6 136.4 455.5 151.5 398.1 133.7 464.9 145.1 435.2 131.8 455.4 144.3 456.9 132.6 416.2 139.3 511.7 138.9 410.2 135.4 441.1 120.1 400.9 135.5 402.7 144.9 460.4 136.7 404.8 134.9 479.8 136.4 386.3 137.0 412.1 140.8 407.9 139.8 429.4 136.1 468.0 140.4 430.0 138.8 489.2 126.9 375.9 130.2 463.8 136.1 478.5 155.6 519.2 134.7 472.0 135.4 443.5 142.1 388.5 145.0 469.2 129.7 423.1 134.4 407.0 113.7 380.0 133.6 427.9 132.8 434.0 131.6 364.0 136.0 447.5 142.2 459.0 144.7 406.2 139.7 438.3 146.1 469.0 134.0 473.3 155.3 452.5 140.4 424.2 124.1 423.9 136.2 443.4 145.5 409.3 142.2 483.4 141.5 451.4 136.0 373.1 131.8 407.1 125.2 502.5 138.6 398.0 144.7 485.6 144.8 471.9 154.9 452.7 153.9 477.5 132.2 462.5 124.9 467.2 137.2 395.3 135.0 410.5 131.4 480.3 131.5 461.7 147.1 456.9 119.3 479.2 135.6 424.7 131.5 445.4 123.6 371.7 129.0 425.1 145.7 441.6 138.2 493.7 149.8 485.4 132.3 379.0 131.4 437.3 131.1 472.9 138.0 531.9 130.5 473.2 150.1 386.3 136.8 460.8 139.1 518.1 134.2 451.2 138.9 484.6 139.3 459.3 145.1 410.0 129.0 425.4 128.4 452.0 140.5 430.5 142.1 406.1 136.8 445.7 136.5 443.6 141.0 389.4 127.9 489.2 132.9 397.0 128.9 421.4 140.1 465.1 134.4 376.7 146.6 390.8 124.5 399.5 141.3 488.7 141.3 430.4 139.6 438.0 131.1 488.6 139.0 391.8 143.7 437.3 133.7 389.0 138.3 412.0 146.9 399.8 139.2 388.3 148.4 458.2 143.0 462.2 136.3 389.6 141.9 476.7 137.7 424.8 143.5 465.6 135.1 481.7 131.8 461.7 143.1 501.2 145.4 495.3 147.2 353.4 128.8 464.2 125.3 462.7 131.5 364.3 121.7 406.0 127.6 372.8 123.0 442.6 129.4 441.2 133.8 432.0 152.1 503.6 118.3 375.4 128.0 423.6 149.3 402.4 122.7 414.2 140.6 461.4 142.4 370.2 127.6 450.2 137.0 424.9 135.3 439.6 127.2 453.9 135.0 492.9 127.3 411.3 126.3 405.0 122.0 384.9 136.8 410.6 135.0 449.6 145.4 448.4 129.7 457.0 132.3 429.1 143.5 432.3 139.8 442.6 135.0 499.1 134.6 452.2 142.2 350.4 131.1 417.5 129.0 455.4 139.0 367.3 126.7 444.2 126.2 416.1 140.5 505.1 136.1 443.4 137.4 416.2 141.9 375.3 135.6 391.6 142.6 449.7 148.4 484.7 143.4 450.1 139.0 446.3 133.6 399.3 124.7 494.3 138.6 431.7 131.1 456.0 146.1 435.3 140.7 450.0 139.4 460.8 140.6 403.0 149.5 443.5 142.4 410.1 137.6 453.1 143.1 465.5 140.5 414.7 138.3 473.5 134.2 451.9 144.7 505.4 128.0 406.0 139.6 517.0 137.7 390.9 132.6 446.7 141.7 359.3 138.9 402.5 139.7 465.5 136.6 495.7 135.9 423.8 150.6 371.1 133.6 399.0 129.9 427.0 136.0 407.6 135.5 403.8 125.6 440.0 143.4 433.3 131.3 381.8 141.0 482.4 139.8 436.5 140.2 432.8 143.4 493.5 130.4 490.5 141.9 396.8 133.4 458.7 142.1 498.1 139.0 421.5 129.7 475.2 139.1 447.7 138.7 395.3 140.8 406.0 145.5 458.5 120.1 445.8 134.1 402.7 138.9 390.7 120.2 479.9 132.9 440.9 136.3 390.8 136.8 452.9 133.3 420.2 138.3 412.4 139.5 514.1 126.2 406.2 140.8 407.5 126.2 426.2 134.4 432.7 142.3 440.3 135.1 474.4 135.5 394.3 123.3 407.3 137.5 470.7 132.1 432.7 138.0 510.1 139.7 436.9 150.4 391.2 131.9 508.1 136.4 457.3 146.2 436.4 136.7 467.8 136.4 465.5 140.1 463.5 133.1 463.0 142.9 469.2 132.8 516.0 129.4 427.2 135.6 383.6 149.8 462.2 119.0 483.0 143.8 440.5 131.3 446.3 137.4 467.0 139.7 385.1 144.0 462.0 142.3 415.9 141.4 475.4 145.9 488.5 138.5 419.4 135.1 443.3 129.8 465.8 156.3 409.6 134.6 517.9 136.2 478.9 140.5 429.7 141.0 464.5 130.3 389.8 137.8 433.2 129.7 475.5 156.2 410.4 128.2 462.3 138.1 414.5 142.7 455.2 135.6 444.9 136.0 454.2 144.4 448.8 143.5 435.7 146.5 387.4 133.2 434.6 143.8 412.9 137.7 444.6 131.6 408.5 141.7 430.7 140.8 466.4 136.2 470.3 134.2 500.8 143.0 365.5 133.2 459.3 152.3 451.6 134.8 499.6 119.6 488.8 135.9 411.5 141.2 404.3 136.4 534.7 126.1 390.7 133.9 456.9 134.7 432.0 147.9 397.5 123.0 477.3 130.3 416.4 135.3 412.9 121.0 477.1 152.3 442.1 149.7 455.6 129.9 431.1 136.4 483.7 141.5 487.8 137.8 440.1 131.4 497.0 129.1 506.5 139.4 417.7 142.2 496.3 146.7 480.5 150.3 387.5 137.1 428.0 143.2 440.0 131.4 400.8 130.4 398.0 142.4 456.1 138.6 473.7 139.0 432.7 140.2 393.3 153.1 459.1 134.8 451.7 139.5 463.1 149.9 391.9 142.0 378.3 113.5 396.4 140.7 462.7 136.4 390.6 139.6 379.1 139.0 412.8 148.1 464.1 136.7 471.9 139.1 387.7 131.7 445.4 139.0 448.7 143.7 451.3 138.1 477.2 145.7 456.3 141.9 438.5 138.8 367.4 137.5 428.6 145.3 463.9 141.4 398.4 131.2 493.6 138.6 396.2 143.6 396.4 137.6 478.6 133.1 407.2 122.3 401.1 144.1 398.2 140.3 524.3 133.3 417.4 139.2 451.6 148.9 494.2 136.8 455.0 156.5 447.7 134.1 463.4 133.1 445.7 137.4 436.7 122.7 429.7 138.7 414.6 139.0 436.7 147.9 441.0 137.7 418.8 135.1 400.4 143.6 483.8 153.0 467.1 139.2 449.6 151.0 419.1 134.1 422.1 147.3 458.4 139.9 388.7 136.9 460.9 141.6 440.5 125.6 489.9 133.3 397.4 121.7 432.4 133.3 408.5 145.5 464.7 141.8 436.6 150.3 459.5 141.9 348.0 132.0 492.2 128.9 489.0 132.3 405.8 127.9 426.1 140.1 411.2 137.0 414.2 132.9 454.2 153.7 465.9 138.8 397.7 144.4 501.5 142.5 419.0 138.9 409.2 134.1 386.0 131.5 432.6 131.0 436.2 125.9 430.5 143.4 479.0 130.2 514.3 111.4 468.1 143.0 434.8 137.3 478.3 139.6 410.9 142.2 456.7 152.1 409.7 135.1 397.4 145.8 418.5 138.4 418.1 147.4 415.6 151.0 485.2 130.6 428.4 138.3 472.7 140.8 449.6 131.8 377.6 135.1 396.8 138.7 416.3 132.2 458.0 135.6 431.7 130.2 393.0 137.2 482.1 146.6 399.6 132.1 446.5 132.8 430.2 145.3 477.7 140.8 398.8 141.2 388.8 133.1 397.4 136.5 478.4 141.4 473.8 144.6 477.8 128.3 490.3 120.1 442.8 144.4 448.3 132.7 402.4 147.2 474.1 133.9 503.4 124.4 464.8 139.3 367.0 125.7 401.7 129.6 423.9 128.8 396.5 136.9 473.5 142.3 495.9 134.1 400.6 141.5 457.6 156.2 441.8 139.9 417.4 144.1 448.7 140.4 423.3 121.6 418.8 131.5 425.3 129.0 418.8 123.8 397.1 143.6 390.5 132.5 469.8 128.7 455.1 138.1 460.3 149.2 445.3 143.0 442.2 139.8 486.9 135.2 452.2 131.4 395.7 138.0 379.2 132.7 505.9 135.4 478.3 140.9 378.5 142.5 480.8 152.9 448.9 127.5 482.2 141.7 477.5 145.2 416.3 142.8 408.7 126.8 463.5 139.4 460.4 147.9 369.7 133.9 435.7 150.1 464.5 147.0 458.3 123.1 433.9 140.2 418.1 149.4 462.9 148.6 488.7 149.8 420.7 141.0 370.6 137.8 537.7 129.4 477.2 143.5 436.4 147.6 482.5 128.4 428.6 144.2 427.0 134.3 472.4 145.3 436.4 146.6 454.4 145.9 420.2 130.5 470.5 125.0 392.8 135.4 484.8 137.7 426.7 122.4 413.3 122.5 461.9 139.4 444.7 134.4 466.4 138.8 475.0 138.8 504.9 134.4 474.7 137.2 432.3 138.1 490.3 139.4 481.5 141.1 404.0 148.3 513.9 133.1 490.6 142.0 382.7 132.5 495.4 148.4 403.3 129.2 481.5 142.8 412.5 139.9 468.4 135.6 393.6 138.0 499.3 136.6 451.6 142.3 426.7 148.0 429.7 144.6 380.8 146.5 439.6 149.3 503.3 127.1 431.2 131.0 462.2 135.3 469.0 144.1 418.7 143.0 380.9 139.2 396.3 139.1 438.0 129.1 404.6 130.2 465.7 133.8 447.2 139.5 460.8 128.2 471.0 139.1 469.9 129.1 401.6 131.6 407.3 123.7 436.3 135.1 404.9 139.6 468.1 138.1 480.8 136.1 435.5 142.0 405.1 136.4 471.3 148.5 437.8 142.2 464.6 137.3 479.8 138.4 361.7 124.9 405.7 129.5 497.2 130.6 478.9 136.6 443.5 126.0 452.5 153.2 399.4 136.0 484.9 121.2 466.7 136.6 415.9 135.9 461.3 138.8 429.6 130.7 463.0 147.8 390.4 136.6 481.9 154.9 413.9 136.0 430.6 130.4 397.9 123.3 446.1 135.9 490.8 145.0 480.2 126.6 466.1 136.2 468.4 140.7 470.7 145.9 447.8 128.1 462.7 150.3 501.3 149.0 398.8 138.5 426.9 136.5 400.3 135.3 457.9 154.1 437.3 132.8 445.8 136.8 426.8 129.0 395.0 134.0 432.6 125.9 440.0 129.8 459.9 140.5 378.4 126.6 462.2 134.2 476.7 153.4 493.8 135.3 386.4 153.0 415.4 137.0 474.6 135.6 458.0 148.8 444.9 148.4 452.9 139.2 442.3 129.4 491.8 138.3 393.4 136.5 403.0 140.5 404.6 127.0 380.5 129.9 476.5 140.2 421.3 124.1 359.8 129.7 404.1 133.0 471.0 122.3 443.3 137.9 399.0 127.4 440.0 136.1 448.2 137.1 488.8 138.7 402.2 131.5 491.8 145.1 396.8 124.7 431.0 147.9 464.8 130.6 493.8 148.3 450.4 138.5 409.1 147.3 473.9 139.7 421.2 144.9 472.5 146.3 416.2 132.5 427.9 142.4 410.8 135.3 428.6 133.2 423.2 140.2 450.8 132.4 469.9 134.6 461.9 118.0 427.3 137.9 430.7 139.0 416.4 134.4 420.8 152.8 509.8 134.4 429.3 144.1 499.0 129.1 463.1 144.4 480.9 138.6 456.0 132.6 393.1 128.4 417.3 139.8 487.5 132.9 414.9 140.4 406.3 143.7 449.6 134.0 440.3 135.1 446.8 138.6 445.5 139.0 483.8 132.3 461.6 137.3 450.1 147.5 438.2 149.7 481.8 131.9 487.4 137.6 394.9 135.4 378.2 131.8 391.9 134.9 506.3 146.1 388.7 126.3 419.7 139.0 430.2 142.3 482.0 140.3 496.0 150.1 399.6 131.8 390.0 133.6 432.3 129.5 415.7 143.1 480.8 126.8 451.7 139.7 510.7 145.5 425.0 140.9 460.9 140.5 500.7 138.3 471.7 140.4 488.3 144.3 372.1 135.2 407.6 152.2 489.8 137.2 442.4 141.9 470.2 128.7 502.9 142.5 450.6 137.4 516.6 147.5 523.4 137.2 446.0 136.5 439.4 131.2 427.3 132.9 524.1 151.0 507.6 156.7 416.9 129.7 470.0 138.2 475.8 131.6 477.9 146.2 404.8 140.0 411.7 140.0 378.5 125.5 461.2 136.5 395.9 151.8 433.1 145.9 411.9 127.8 384.6 131.6 428.3 136.6 466.5 138.0 464.9 128.6 459.6 164.2 440.0 150.5 394.2 143.4 379.7 136.5 483.4 140.2 495.7 139.3 474.8 150.5 416.9 134.4 451.1 140.6 447.1 134.4 469.8 116.1 477.7 133.2 402.9 133.9 389.1 112.3 494.3 135.9 444.8 132.4 381.0 126.5 422.4 123.5 448.2 144.4 458.8 135.1 394.2 137.1 487.2 136.6 447.4 147.6 494.1 124.1 486.2 145.4 381.4 133.1 438.9 152.0 477.8 139.3 423.5 139.5 477.3 132.8 403.1 132.5 425.7 137.2 502.6 134.9 461.8 139.5 445.9 156.6 397.9 141.3 493.2 152.1 435.8 135.0 436.0 137.3 405.5 130.7 449.6 132.6 502.1 126.9 436.7 140.9 470.4 135.2 415.8 123.8 436.6 136.8 477.3 137.8 381.4 135.3 412.6 146.8 493.2 144.6 425.2 135.9 434.6 133.1 436.0 145.2 440.3 139.0 464.7 133.5 438.4 134.3 473.6 135.5 390.0 117.7 472.6 138.1 495.5 143.1 431.3 141.8 390.1 137.9 389.5 141.9 375.1 130.2 448.1 135.4 450.5 142.4 452.7 136.4 368.9 143.3 447.8 135.8 408.6 137.4 412.0 143.4 482.7 131.6 408.1 135.1 397.8 134.9 397.0 145.4 461.1 135.5 462.2 141.6 412.9 140.1 408.0 131.6 442.2 134.7 435.2 140.3 389.3 134.7 430.1 125.4 423.4 138.1 467.9 145.9 386.6 146.0 475.3 152.0 437.7 145.2 445.8 139.1 398.5 137.5 411.7 142.9 447.4 152.3 464.7 137.6 456.6 141.6 410.5 133.3 454.7 144.0 465.8 128.4 407.8 125.6 473.3 144.8 383.2 132.2 390.0 143.5 446.9 129.0 393.2 135.5 416.2 137.8 429.3 139.1 432.0 138.9 505.8 131.7 460.3 139.5 378.7 128.8 392.5 137.3 471.8 127.8 438.0 135.9 453.4 139.0 433.0 144.5 482.3 139.4 487.6 142.9 452.8 129.7 515.6 158.4 458.0 132.1 462.6 122.9 489.6 142.3 442.9 136.6 489.7 136.1 442.4 139.1 409.7 129.4 417.5 138.6 367.4 131.0 387.9 131.6 393.0 130.6 488.8 140.8 452.1 134.5 424.9 125.5 404.1 143.4 450.8 137.0 513.5 140.8 446.2 142.3 431.3 139.6 458.9 139.9 386.4 135.2 475.8 135.0 511.3 148.4 455.3 132.9 467.0 130.7 447.5 127.4 460.0 135.2 389.5 139.4 457.4 129.2 499.3 136.7 475.2 147.1 427.4 139.6 477.4 126.8 407.7 128.1 457.1 131.6 377.0 131.4 384.8 126.9 429.3 136.2 414.2 138.5 406.1 138.5 435.5 140.3 400.7 127.2 454.7 131.7 439.7 136.3 362.3 146.7 452.7 138.3 486.9 142.5 472.4 135.5 447.2 134.6 432.2 134.9 485.7 133.6 468.6 143.2 475.8 135.2 462.9 140.1 458.3 124.9 438.3 135.6 406.4 119.4 434.5 136.5 414.8 148.4 486.3 129.8 461.3 115.9 402.5 128.1 470.9 129.1 488.3 133.0 435.4 138.2 411.2 133.2 434.8 134.5 399.6 148.9 475.8 145.3 466.2 146.7 438.4 132.6 466.8 144.9 383.6 128.6 444.9 121.9 448.3 139.8 457.0 133.1 462.4 142.8 490.2 133.5 384.0 123.9 469.0 127.9 463.1 139.6 400.6 133.9 490.5 139.9 430.8 139.5 470.5 154.4 422.9 141.4 441.9 150.0 472.7 135.6 434.4 141.8 496.9 134.2 410.5 148.3 406.7 138.0 460.7 135.6 432.6 140.7 398.7 139.8 462.3 143.4 425.8 137.3 447.5 120.3 420.6 139.6 376.1 143.1 441.5 139.1 481.7 146.5 479.4 141.2 378.6 133.5 446.6 140.4 427.9 135.0 446.2 141.4 441.4 137.7 408.1 145.0 468.1 143.6 435.0 137.2 504.4 139.1 482.1 137.9 433.6 138.5 419.9 137.5 463.3 139.2 409.7 138.5 451.4 143.1 513.3 124.6 497.4 145.1 438.3 127.9 404.4 137.8 424.9 144.2 423.9 147.8 469.5 135.5 417.2 142.5 454.3 134.1 455.1 128.7 473.6 127.9 405.9 115.0 427.3 146.5 407.8 140.1 482.2 143.8 487.2 127.5 396.8 134.2 432.4 135.8 481.6 136.6 406.4 149.0 400.5 146.1 443.0 147.1 451.3 136.3 502.8 134.0 492.5 144.0 464.2 143.3 482.4 137.0 409.2 127.9 394.9 127.8 423.0 145.2 456.6 152.3 466.3 126.3 440.2 121.8 387.0 125.1 399.9 129.8 475.5 146.3 446.1 131.9 458.3 136.2 417.7 127.8 453.0 142.8 458.7 139.1 483.6 138.1 374.8 127.8 494.5 137.9 401.0 135.3 480.1 128.5 440.6 138.2 442.7 119.7 448.5 141.1 429.3 136.9 444.0 137.6 500.9 132.8 411.1 125.6 412.4 141.3 423.3 148.7 465.8 136.5 389.2 127.2 467.1 130.2 479.0 140.8 474.9 145.4 412.8 140.6 455.8 130.1 495.4 140.0 446.3 133.8 435.6 135.6 460.0 131.4 459.0 137.3 448.2 127.8 390.1 133.6 506.8 152.2 418.8 158.2 474.6 144.3 438.7 140.6 503.0 136.4 503.0 126.3 432.4 156.8 395.8 127.2 455.0 135.9 497.2 138.5 491.6 127.8 417.4 139.5 460.6 134.2 409.7 141.8 468.4 139.2 387.1 128.4 422.0 135.8 495.6 130.8 420.1 139.5 448.1 150.8 484.4 142.0 449.4 135.3 428.5 133.4 455.3 144.0 432.2 147.1 395.4 138.8 424.4 140.8 424.3 128.5 444.4 147.4 457.5 139.9 476.8 137.0 431.3 139.9 394.2 133.0 441.0 134.5 453.8 149.8 500.7 142.3 496.7 150.7 444.7 141.0 406.9 141.8 387.8 142.6 400.3 129.4 427.7 136.5 446.0 135.6 405.0 152.4 430.0 118.2 469.0 142.2 405.2 136.2 473.0 145.3 478.8 147.7 451.3 155.1 464.6 139.5 385.2 143.1 407.8 132.4 490.9 152.4 409.5 137.4 453.6 134.5 426.6 142.9 464.0 145.8 463.2 135.3 492.4 125.9 478.6 142.8 466.6 126.2 472.1 155.3 427.7 151.2 410.7 138.9 391.8 140.7 473.0 135.1 470.4 148.0 483.6 129.7 417.4 131.9 434.4 143.6 524.5 135.9 493.9 136.9 427.4 137.8 418.7 136.3 423.7 139.4 470.4 139.7 458.0 137.9 438.0 152.1 482.4 145.2 405.8 140.6 491.5 132.5 466.2 139.0 444.2 138.9 531.1 132.8 409.8 121.9 467.0 136.5 420.3 150.4 414.6 122.4 496.7 134.2 449.9 126.3 474.7 136.8 446.4 147.9 424.9 133.7 453.8 140.7 407.9 143.0 452.5 136.6 436.1 143.4 424.6 141.7 484.6 144.7 435.9 131.9 417.1 120.7 491.1 122.6 481.7 130.8 457.1 135.2 368.0 137.4 448.0 138.0 435.7 140.7 390.4 134.1 468.8 150.9 483.5 139.1 404.6 143.2 439.2 146.4 398.7 145.9 460.6 132.3 431.1 136.8 427.9 138.9 466.0 138.2 492.7 144.4 482.4 127.6 465.0 132.0 445.7 153.5 478.9 145.8 407.4 134.0 471.9 143.1 385.9 136.3 408.5 138.3 499.9 123.2 382.5 124.9 444.6 141.0 432.2 121.2 410.2 123.7 478.4 130.8 490.4 135.2 490.4 139.9 428.3 137.8 431.0 144.0 433.3 140.1 440.8 140.0 421.1 147.3 386.7 133.9 502.2 144.4 401.5 144.1 465.4 134.5 467.7 138.2 493.1 142.6 478.3 120.1 374.9 135.3 502.7 147.4 445.8 127.7 444.7 121.6 503.3 117.1 410.6 156.4 430.3 148.9 450.3 136.1 456.6 138.2 493.4 134.3 423.4 142.4 445.7 157.4 479.3 128.3 360.8 125.2 468.1 137.3 448.6 137.5 372.3 121.9 393.6 140.8 454.5 146.9 391.3 136.3 428.9 140.0 493.6 137.6 419.6 144.1 404.6 123.1 420.2 137.8 449.0 151.2 461.7 133.5 387.0 127.6 395.3 141.3 417.3 140.2 423.9 148.4 457.0 135.0 399.4 127.6 390.9 135.4 453.4 147.8 456.7 139.8 415.0 133.0 444.3 150.4 471.5 142.7 397.2 128.6 374.7 142.2 452.5 134.0 434.3 129.1 519.9 141.2 419.2 134.2 461.5 129.3 443.5 132.4 452.5 134.6 504.7 136.6 381.6 132.1 439.2 109.4 428.7 147.9 398.6 145.7 405.5 142.1 450.4 143.7 457.7 147.7 449.6 133.2 420.9 138.2 444.4 139.5 398.2 131.4 447.7 143.7 386.4 128.7 432.5 128.7 447.7 145.7 452.4 139.0 517.9 136.1 442.3 126.6 423.3 148.8 460.4 136.0 430.0 128.5 395.9 135.3 395.0 137.7 474.0 149.3 408.6 137.8 464.9 137.2 476.0 131.1 494.0 120.7 441.5 141.5 413.9 138.3 438.0 145.8 421.7 131.4 392.8 145.5 392.4 147.9 462.8 151.2 454.0 140.7 415.1 121.4 406.6 145.9 507.5 139.9 400.8 132.0 462.0 146.4 360.6 133.5 448.6 133.5 519.3 125.8 495.1 134.5 433.2 146.1 413.2 140.5 418.2 147.2 450.0 155.0 410.0 139.9 412.3 133.3 465.8 134.9 437.8 135.3 391.2 116.8 480.7 137.2 411.6 134.9 470.0 148.5 511.5 137.6 455.9 137.6 421.8 131.2 496.8 142.0 478.7 124.0 435.3 142.6 487.9 138.8 466.5 138.7 414.7 135.8 463.2 131.2 414.3 139.0 430.5 150.9 390.4 137.2 465.5 151.9 455.9 132.2 492.6 143.7 440.0 130.7 434.5 132.4 455.5 125.3 437.8 146.5 459.0 136.7 465.4 140.3 408.3 144.4 399.2 128.5 505.8 146.7 434.5 129.9 446.5 130.8 441.0 135.6 401.5 148.0 403.9 135.9 461.7 141.3 455.5 134.3 427.2 144.8 445.6 146.5 480.2 139.7 467.0 136.8 444.1 139.7 386.6 144.6 391.8 145.8 374.6 131.4 482.8 153.0 402.2 130.5 425.2 139.0 451.2 120.9 449.1 142.8 418.1 148.4 378.2 130.9 474.2 141.5 405.3 104.1 414.5 134.5 462.6 141.9 413.4 131.5 395.9 125.4 400.2 134.4 461.0 134.3 371.3 131.2 497.3 137.7 412.8 135.1 433.2 146.7 453.6 130.3 417.1 141.4 453.6 140.2 484.2 142.0 504.2 146.4 420.3 145.8 497.9 141.2 427.8 155.8 391.8 131.5 470.8 136.7 463.1 137.4 458.6 134.7 415.2 145.8 442.1 151.2 423.4 138.0 460.7 156.2 463.8 134.2 432.7 143.5 400.9 142.8 394.3 135.3 439.2 147.0 455.3 146.2 433.9 133.6 414.6 134.8 413.6 136.1 369.7 133.4 473.2 127.6 467.7 150.7 411.1 145.3 391.0 106.1 419.9 150.4 438.7 141.1 418.4 136.5 391.4 139.1 479.4 135.3 441.2 132.6 499.9 131.6 452.2 127.4 473.7 143.0 401.2 137.9 490.5 138.3 502.3 125.5 409.6 141.2 457.9 135.7 454.2 146.0 461.0 138.4 439.3 129.4 433.5 150.8 393.5 126.5 394.0 126.6 404.0 124.9 458.5 128.1 390.4 138.2 397.2 138.3 424.6 141.9 422.9 128.4 429.5 138.3 503.7 146.3 493.2 139.6 399.0 134.0 419.2 138.3 493.8 134.8 411.7 146.4 435.7 149.0 447.8 139.4 452.0 138.3 489.7 118.6 403.9 140.5 475.5 136.0 498.6 138.9 417.2 133.0 424.8 136.8 467.2 136.5 474.6 136.3 406.9 137.5 420.4 134.9 469.6 126.9 436.6 133.6 449.7 146.1 398.0 122.5 415.1 143.0 376.3 131.4 460.3 133.1 476.5 141.5 468.1 120.0 490.3 121.2 451.5 145.2 482.6 139.0 422.5 150.7 391.3 128.7 427.9 121.6 529.8 134.5 433.6 132.9 448.3 133.1 466.3 132.6 481.5 137.1 400.7 143.6 497.8 134.4 428.9 151.4 441.0 144.2 425.0 138.2 436.7 133.3 406.6 136.9 443.7 136.8 453.5 146.1 407.3 143.2 397.6 129.7 387.0 141.7 441.9 134.2 422.3 138.0 422.1 157.8 406.3 132.3 491.1 142.3 377.2 131.9 445.6 137.8 430.3 127.9 475.5 143.3 472.1 134.2 408.4 126.9 445.2 126.5 384.2 130.5 401.6 130.7 387.9 145.6 466.3 137.4 481.2 131.1 478.8 137.5 409.2 126.3 408.2 114.1 430.8 131.6 492.9 142.5 484.2 135.5 431.2 135.1 408.7 137.6 458.1 149.4 444.0 131.6 412.1 136.1 453.6 154.6 428.3 125.7 429.4 145.2 483.5 141.5 429.8 138.8 372.8 144.1 497.2 142.5 430.0 144.6 467.4 138.1 491.1 125.9 460.0 147.5 381.5 141.6 455.9 146.3 408.4 140.6 454.0 144.6 475.2 148.7 478.7 131.2 527.1 137.0 467.7 138.2 468.1 138.2 367.2 120.3 491.6 138.7 400.7 126.9 444.7 138.4 447.0 138.7 457.5 138.4 448.4 137.2 514.1 143.2 414.1 129.3 440.6 131.0 489.4 143.9 489.3 140.5 469.0 144.2 453.4 136.1 392.1 132.5 511.9 136.5 504.1 138.9 474.5 125.3 406.1 141.7 381.1 132.9 481.2 128.6 421.9 155.5 406.0 135.9 503.3 128.5 460.5 135.6 437.9 139.5 433.4 150.4 485.1 147.0 415.7 144.3 428.5 138.2 423.5 122.8 434.5 137.7 412.5 119.7 398.8 138.2 390.0 128.1 423.8 137.8 469.5 130.8 435.3 136.1 387.8 137.0 400.6 131.8 439.0 136.2 525.5 140.3 420.2 134.2 451.0 136.8 419.1 122.7 378.1 135.8 486.1 145.3 480.7 126.0 476.7 138.8 398.4 139.9 467.7 149.1 379.5 143.8 479.8 149.8 470.0 121.8 433.6 138.1 382.5 136.4 453.3 132.3 437.7 141.3 458.1 141.4 474.3 138.3 405.4 130.9 364.6 131.9 439.9 133.0 394.9 135.8 432.4 126.6 465.3 138.8 422.5 139.7 425.6 151.3 456.5 141.6 485.1 136.1 438.7 142.7 432.1 150.4 478.5 147.1 433.2 136.5 410.5 150.2 458.3 137.7 473.7 142.4 463.3 142.8 432.2 132.8 446.4 140.6 407.4 136.1 520.6 122.7 495.5 140.2 380.4 144.4 435.8 143.5 432.6 138.5 381.7 130.7 440.1 138.0 461.5 148.9 386.5 124.6 419.4 132.5 430.4 145.3 480.8 124.0 493.7 134.4 433.4 143.5 413.1 138.3 434.3 137.8 424.4 130.9 449.8 144.3 476.9 135.7 453.3 136.7 458.2 152.5 402.6 142.8 429.0 144.9 413.8 125.1 450.8 157.2 423.0 137.9 465.2 142.2 400.5 127.8 485.1 135.6 388.1 126.0 479.5 153.0 380.0 133.6 478.8 137.3 438.6 148.8 424.9 148.8 482.5 144.4 501.1 129.2 432.1 132.0 442.0 149.0 495.2 138.5 450.6 151.7 409.5 134.9 447.7 134.8 479.4 146.8 425.9 116.0 434.4 138.2 408.3 122.4 485.6 123.3 419.6 132.8 448.9 142.7 516.2 154.4 407.4 137.6 490.2 135.2 418.2 137.2 371.7 148.8 452.0 124.8 495.8 133.7 465.8 143.6 474.7 138.0 447.4 146.0 465.8 133.8 393.7 129.5 476.0 134.1 460.2 136.1 371.4 140.3 524.2 128.4 511.2 138.3 439.0 140.3 482.5 139.6 434.6 138.4 444.9 145.3 441.1 128.2 440.7 142.8 366.7 139.1 453.7 136.1 407.6 138.1 442.9 135.9 506.2 129.6 405.8 141.9 425.9 144.4 444.5 144.0 428.6 152.3 407.3 147.3 452.2 119.4 435.9 144.5 470.7 140.8 451.7 141.8 396.5 133.2 396.9 137.6 457.9 137.7 479.5 149.3 419.1 147.2 424.0 132.6 429.9 131.7 471.9 123.5 467.6 143.3 390.6 132.5 481.9 149.0 400.5 143.9 372.3 125.6 477.2 137.3 414.0 146.3 410.9 135.3 473.5 138.1 484.9 133.3 439.9 136.5 457.3 138.9 436.9 138.3 495.4 135.5 430.0 137.4 447.2 142.2 448.4 134.1 441.3 136.1 409.3 142.9 433.2 137.7 417.3 138.5 450.0 131.1 426.9 141.6 427.0 140.1 467.1 142.6 519.1 132.8 467.5 131.7 474.8 119.3 437.8 141.3 481.0 134.4 496.0 132.9 412.8 131.1 491.5 152.4 413.9 144.7 449.8 134.0 417.1 146.6 460.2 135.2 456.1 137.4 467.1 135.2 487.2 120.1 413.4 143.6 416.4 136.5 439.3 150.6 455.6 149.1 488.1 137.2 433.9 139.1 406.7 130.7 417.0 143.1 436.4 125.7 434.5 131.5 390.9 136.0 437.2 138.2 413.3 129.8 413.0 145.4 378.1 136.0 441.1 139.3 456.5 143.2 393.3 147.1 467.0 147.3 403.6 125.7 427.1 145.6 461.3 130.7 406.5 147.2 493.3 136.1 379.8 129.7 419.7 145.8 490.6 144.6 409.6 137.6 401.5 133.6 393.8 117.8 446.3 138.9 501.8 144.2 494.1 132.9 454.1 126.1 500.7 140.5 479.5 147.6 494.0 141.2 483.4 128.1 481.7 144.1 406.0 117.8 415.1 135.3 412.3 142.2 490.1 130.9 375.6 132.7 463.6 139.6 434.5 149.3 457.0 139.7 406.6 131.4 462.5 146.8 421.6 143.3 437.4 134.0 461.3 143.0 396.2 137.4 410.9 131.0 384.2 147.0 501.8 127.6 457.1 129.7 501.9 142.6 414.6 142.6 376.9 129.3 457.6 142.5 407.0 139.3 477.5 143.9 447.6 131.1 384.1 130.1 476.0 146.4 391.0 128.3 484.0 123.1 472.3 140.2 413.8 138.6 480.4 144.7 448.1 120.2 510.3 140.2 403.1 140.9 470.3 146.3 484.7 135.0 371.3 143.4 407.9 132.9 485.5 131.2 480.7 149.7 434.0 145.0 410.1 140.0 458.5 127.0 405.4 133.5 436.5 129.5 482.8 139.3 429.2 123.7 487.5 145.8 398.4 130.2 451.8 138.9 407.3 152.5 466.5 137.1 381.0 112.6 427.9 153.9 438.9 128.5 394.5 131.0 472.9 133.5 499.2 117.9 456.0 142.7 426.3 121.3 462.0 148.5 420.1 152.6 409.0 142.6 398.9 144.0 426.8 131.4 472.7 144.1 416.6 149.2 425.2 136.0 457.6 138.1 468.8 137.6 488.2 134.1 422.0 146.0 423.9 124.8 504.1 124.8 370.5 139.7 443.9 139.0 461.4 136.0 414.2 138.0 463.6 140.2 489.7 144.7 519.4 138.8 406.6 142.7 462.9 132.0 496.1 149.1 477.2 148.3 475.7 137.5 484.0 141.3 481.7 151.3 420.0 138.9 474.9 136.5 453.2 146.3 461.8 130.1 390.4 133.9 413.5 138.7 450.1 134.2 439.0 140.2 452.2 141.5 474.5 128.1 458.6 134.3 477.8 146.9 429.3 139.7 439.1 135.9 446.8 149.0 488.0 134.0 482.9 125.8 400.9 130.1 426.4 136.7 372.0 132.2 458.5 136.2 390.0 143.4 451.3 155.9 418.0 138.1 421.4 128.0 474.4 132.6 480.5 136.6 363.2 116.1 423.3 140.6 415.0 155.0 502.2 125.5 384.0 131.4 460.3 135.9 521.7 129.7 428.9 140.7 427.7 140.3 419.8 135.0 427.3 119.2 455.0 133.9 442.0 129.0 480.2 136.3 480.9 123.8 488.7 143.0 414.0 127.9 404.3 136.5 473.2 135.8 392.9 130.7 396.1 141.2 463.6 135.2 468.3 138.4 422.7 138.4 432.4 139.5 409.9 131.6 366.1 133.3 425.5 135.4 418.4 133.4 354.9 131.2 422.3 129.6 481.7 138.0 431.5 148.2 446.1 131.8 478.9 125.4 457.3 150.6 392.2 128.3 457.2 140.8 407.9 128.4 428.1 133.8 408.7 134.4 414.9 147.2 498.4 142.1 412.4 129.3 405.7 130.5 386.7 115.9 480.5 141.3 404.2 143.6 500.9 134.9 429.1 130.6 395.1 125.7 508.5 137.0 403.3 138.0 400.6 138.6 491.4 128.5 465.4 131.9 440.4 137.2 415.7 135.5 465.8 138.3 484.8 139.7 426.6 146.8 400.8 138.3 416.5 142.7 444.7 129.5 496.5 130.5 436.4 138.0 390.7 129.5 401.5 141.6 468.0 130.9 475.8 131.6 416.2 145.7 420.2 139.3 444.9 151.5 447.4 146.8 427.2 142.6 494.5 146.5 418.4 136.4 407.9 119.9 470.9 128.6 452.4 142.3 389.1 131.5 405.9 138.7 381.1 131.1 408.4 145.9 377.1 132.0 441.0 133.8 400.8 132.4 448.7 144.9 430.6 142.3 388.0 133.7 382.1 133.2 432.8 133.4 516.1 141.7 419.7 134.9 499.7 141.6 434.5 145.0 426.4 141.0 409.6 135.1 490.1 138.1 410.9 131.9 431.1 136.9 452.0 139.5 433.3 137.1 420.3 145.8 407.8 142.9 368.9 125.9 475.4 139.2 489.8 142.6 475.3 141.0 447.0 127.7 487.8 135.6 429.0 137.6 464.5 144.5 417.6 152.7 489.7 136.9 427.9 141.9 443.9 143.3 470.0 111.1 436.6 147.6 449.9 145.5 462.8 146.6 437.8 131.8 462.0 138.2 406.1 131.0 411.9 139.4 432.3 128.5 422.2 146.3 417.1 138.0 431.7 149.6 396.8 136.5 483.4 151.5 454.8 134.7 470.2 139.7 384.2 135.1 376.0 128.8 396.6 127.3 458.9 150.1 395.0 126.4 473.4 142.2 419.8 130.6 412.9 143.5 502.8 128.8 436.3 145.1 406.6 139.0 451.5 134.8 443.3 147.0 474.1 134.4 499.8 140.2 402.5 128.6 409.0 131.1 444.0 148.1 493.4 137.6 418.7 140.8 444.6 142.7 435.1 134.0 437.7 133.1 426.3 135.7 385.9 147.9 459.9 132.9 457.9 150.9 443.3 152.8 442.3 135.8 439.4 145.1 508.6 147.7 395.1 127.4 374.4 132.9 435.5 127.1 421.2 132.3 436.7 141.6 434.1 143.5 486.8 133.2 375.1 126.3 418.8 129.4 414.0 127.2 479.0 138.9 474.7 142.7 390.7 142.6 427.4 153.1 438.9 142.0 444.4 127.2 433.5 143.1 421.7 135.3 461.0 148.7 427.8 147.1 426.8 142.1 433.7 131.9 436.0 122.1 461.1 132.7 434.0 135.0 489.1 134.4 473.0 138.8 449.1 134.9 489.2 125.3 413.5 141.7 450.4 147.9 435.9 140.2 484.1 140.6 421.7 135.0 378.6 133.1 441.6 150.1 378.6 142.5 470.4 145.8 420.4 141.4 433.1 150.6 435.7 140.5 439.4 145.7 408.3 143.5 398.7 135.1 448.8 138.6 466.6 142.0 385.3 141.9 438.6 134.1 396.9 138.0 409.1 127.2 487.0 139.4 463.1 143.8 493.7 129.3 518.1 127.4 422.0 120.2 404.6 131.7 462.1 133.3 454.6 132.6 512.9 138.0 518.2 134.0 412.2 135.9 409.4 141.8 501.5 132.8 415.0 135.0 419.8 143.8 478.0 139.5 456.8 144.0 388.9 148.1 446.8 129.7 436.6 146.3 454.0 144.5 425.2 151.3 409.6 135.8 434.2 140.0 454.4 139.4 436.2 130.1 393.7 129.1 387.7 138.9 445.5 137.0 399.7 126.9 421.2 129.2 453.3 131.0 405.2 143.9 459.7 136.9 422.1 145.3 491.2 138.8 403.8 135.0 488.4 128.2 504.4 130.8 430.4 140.7 393.1 130.3 500.5 129.4 470.3 144.3 476.2 129.6 431.5 139.4 496.0 120.6 399.3 131.6 455.4 151.0 376.1 143.0 423.4 146.3 408.4 127.9 390.4 120.8 397.6 139.2 483.1 148.9 407.2 140.4 437.5 137.8 449.4 150.6 361.4 131.2 442.8 141.5 494.5 128.5 461.3 123.3 469.7 135.9 479.7 124.0 471.8 149.4 459.4 145.9 497.8 146.6 482.9 128.4 481.3 147.9 483.3 146.9 502.9 139.3 453.1 140.2 474.2 123.6 483.3 122.8 455.7 139.0 436.2 134.7 457.5 142.6 451.6 114.6 484.3 138.2 433.0 131.3 450.2 134.3 408.0 153.4 442.2 148.4 442.8 149.1 494.2 139.6 474.1 132.1 423.7 132.6 403.4 149.6 494.3 136.7 442.1 133.1 429.7 132.9 427.1 127.1 440.7 161.4 488.8 136.3 441.4 138.1 441.4 144.7 388.8 137.4 401.0 132.1 383.6 113.1 433.8 141.2 496.0 135.5 390.2 137.1 478.6 137.2 420.7 140.6 385.2 138.8 463.8 157.8 459.8 138.8 509.0 136.3 425.6 142.0 441.8 134.2 407.6 142.8 466.8 137.7 411.8 116.8 463.4 150.0 466.8 150.1 382.5 143.9 489.4 131.2 499.2 133.2 469.9 157.7 443.7 149.9 502.5 135.5 417.2 135.0 461.1 141.9 497.4 132.1 395.4 125.9 389.8 143.2 465.6 146.3 429.1 134.8 444.5 139.8 422.7 131.4 408.8 117.1 419.2 134.4 428.7 133.9 403.5 152.5 391.9 134.0 433.1 138.9 470.5 136.4 395.5 129.6 442.6 148.8 494.0 145.5 428.1 141.8 393.9 119.4 474.3 138.4 423.6 146.3 410.2 125.0 437.6 135.6 446.2 136.0 432.8 127.6 414.5 145.0 486.5 142.3 496.3 146.9 420.6 138.6 375.3 136.5 431.0 143.5 471.8 132.7 475.2 147.1 430.2 139.9 419.7 148.8 379.3 152.1 425.9 135.9 446.1 141.4 383.8 127.4 490.0 115.8 378.6 143.5 418.2 142.4 398.7 138.0 415.3 120.9 467.9 132.5 416.6 141.8 466.2 146.9 486.4 114.2 475.6 136.0 454.6 143.0 435.8 141.8 422.0 133.4 431.1 153.0 480.2 139.0 477.5 144.5 432.4 125.6 461.1 139.6 405.3 137.9 382.4 140.6 471.7 147.3 477.0 130.2 485.8 140.4 467.0 136.7 421.7 141.0 500.4 136.9 408.6 145.0 379.0 136.0 501.4 143.5 444.0 146.8 468.4 144.7 446.9 131.9 423.2 144.7 431.1 133.4 388.5 140.6 404.4 126.4 447.6 130.4 495.6 144.8 452.9 142.4 475.2 144.5 416.3 151.6 396.0 135.2 477.9 127.2 430.3 151.4 429.8 133.3 369.6 130.1 417.4 131.8 412.1 139.2 461.8 135.5 543.9 135.3 398.3 128.9 436.5 149.2 401.9 138.0 408.3 135.4 473.4 142.9 489.3 138.0 487.7 142.5 430.2 142.1 505.6 132.4 468.2 134.7 454.2 138.8 452.8 143.6 389.1 131.3 511.3 142.6 483.2 125.3 426.6 149.6 395.5 131.0 370.7 121.9 439.8 127.1 378.5 133.0 426.3 144.9 431.6 142.6 485.1 128.8 408.0 142.2 401.3 142.4 453.3 148.4 456.8 137.8 392.2 133.1 441.6 128.6 417.8 144.8 396.8 133.2 490.4 139.5 493.9 125.4 487.2 130.3 476.2 138.4 431.5 132.0 415.3 131.9 436.9 143.9 443.8 121.7 462.5 128.0 421.4 150.5 395.5 131.8 467.9 147.7 429.4 142.0 390.4 135.6 490.2 132.9 426.4 133.3 416.9 147.0 426.6 133.4 410.0 130.2 498.9 151.4 479.6 138.9 394.6 138.5 456.5 145.0 467.9 142.7 481.7 143.1 472.5 142.0 470.4 137.4 484.0 137.4 445.7 125.1 493.8 153.6 468.9 141.2 380.9 130.2 410.2 148.0 371.3 141.0 458.1 137.6 383.5 133.1 438.9 140.5 396.6 123.9 441.8 142.0 409.5 139.0 397.9 130.5 465.3 133.8 494.9 134.1 473.1 143.8 490.1 126.6 444.8 135.9 509.2 135.8 450.8 141.8 427.6 148.6 462.8 145.8 384.6 140.5 379.9 135.8 469.3 140.4 397.4 137.6 412.6 145.1 490.7 143.6 412.4 129.4 456.0 145.2 404.4 141.4 410.8 135.3 462.6 132.3 420.2 139.1 494.3 136.1 477.9 149.3 439.0 147.1 392.5 133.3 451.8 137.5 470.2 138.7 523.0 130.6 417.0 137.4 481.5 143.1 445.5 123.3 384.0 130.5 411.9 116.2 483.9 137.5 411.4 137.9 403.1 147.7 442.2 143.0 427.4 135.1 420.2 121.6 392.1 127.5 422.4 139.7 452.1 139.3 436.3 132.1 494.2 139.7 470.6 139.4 455.5 136.8 498.0 137.3 459.6 136.9 397.9 141.4 433.0 145.2 439.3 138.0 497.4 139.2 459.2 142.3 475.9 137.4 425.1 142.3 382.6 136.7 420.2 134.0 408.5 148.6 424.8 135.1 395.2 131.9 444.7 140.0 424.8 145.7 422.3 138.5 479.0 143.5 395.6 136.7 401.1 150.8 381.1 125.8 494.7 126.3 469.7 146.7 404.7 141.4 369.3 140.8 450.3 137.3 477.3 141.9 408.2 144.3 504.6 144.5 446.9 138.9 453.0 139.6 453.6 137.9 420.0 124.6 410.4 127.1 481.2 128.9 488.8 147.2 475.2 145.9 462.1 150.4 460.1 141.0 430.4 132.5 486.4 139.4 479.4 139.8 336.6 136.9 380.1 134.9 397.2 135.5 412.1 140.0 443.4 135.6 392.4 128.2 425.4 121.4 491.3 153.5 445.3 149.9 461.9 156.6 384.1 131.0 442.1 125.9 459.3 124.0 487.2 138.4 466.7 140.0 400.3 136.6 481.3 153.2 482.3 135.9 458.9 138.7 423.7 136.8 498.5 149.0 396.5 126.8 464.3 141.7 397.4 146.0 472.3 137.9 432.2 137.1 465.3 154.6 478.0 128.5 422.2 130.8 461.5 137.1 438.4 136.6 416.0 137.2 451.2 128.9 418.3 149.0 391.5 129.1 432.2 138.9 474.1 130.1 510.6 129.6 430.3 139.4 409.2 126.4 399.7 140.0 390.8 138.4 397.7 139.0 445.3 145.6 444.7 135.2 462.0 119.6 435.4 127.0 448.1 146.3 491.2 142.6 444.0 139.4 436.9 143.2 420.8 132.8 521.2 140.1 506.0 133.4 470.7 139.8 377.3 136.5 377.8 135.1 493.9 138.2 481.6 139.9 419.8 133.0 406.8 131.5 443.9 132.6 388.3 148.6 408.0 134.2 443.8 133.5 472.8 113.7 463.9 147.7 413.7 132.6 475.3 124.8 445.4 134.2 490.3 124.8 469.6 138.4 454.0 140.7 436.3 132.9 527.0 139.7 411.2 137.8 497.0 141.5 482.6 145.6 426.2 116.0 343.4 114.7 435.0 140.6 462.2 134.7 433.5 137.2 490.0 134.3 430.7 136.5 454.6 134.0 398.8 140.1 428.6 147.0 465.4 135.6 459.6 136.3 426.7 145.6 451.9 143.2 401.8 135.2 393.4 132.8 441.6 139.5 387.6 123.8 415.1 138.8 455.1 141.8 463.7 136.4 406.7 141.6 457.3 127.9 394.0 131.2 420.8 124.9 479.9 142.7 381.1 137.7 428.6 130.2 482.8 140.0 396.8 137.0 415.8 139.4 390.8 139.1 496.7 140.0 386.3 129.9 411.0 137.4 420.5 133.1 496.6 135.9 489.1 136.1 413.8 131.5 477.6 132.0 490.4 125.5 457.0 117.0 426.5 136.2 475.7 140.5 445.1 142.2 425.5 128.5 469.7 132.6 401.1 137.0 520.4 112.7 417.1 139.1 374.7 143.5 443.4 134.6 444.3 135.7 386.8 130.2 411.3 139.3 458.6 139.2 423.7 135.8 421.5 151.0 409.5 139.0 412.9 143.5 413.9 137.2 372.8 130.9 490.1 138.1 408.4 130.9 459.1 142.8 517.3 124.3 430.7 133.9 438.9 142.7 487.3 138.7 419.1 149.4 483.7 144.0 464.4 134.8 451.5 137.7 387.0 137.1 417.5 138.9 422.1 129.8 426.5 131.9 456.7 129.2 388.7 133.7 475.9 140.0 452.9 139.8 399.8 129.0 431.5 140.2 491.4 130.2 439.0 137.8 340.9 128.3 444.8 135.1 435.0 136.1 438.7 130.1 450.4 137.5 487.5 145.7 426.2 136.1 430.4 130.4 382.0 135.7 450.0 143.0 482.6 140.0 434.8 147.3 458.2 125.2 470.4 138.6 452.7 134.6 418.2 143.8 441.8 138.3 412.5 132.6 406.8 133.2 452.6 130.7 474.3 146.3 430.0 128.9 444.4 131.6 402.5 143.6 431.9 136.1 405.7 134.6 433.5 142.8 397.2 138.4 438.8 142.4 472.3 136.4 429.1 142.2 409.7 129.1 504.4 139.3 421.4 137.0 396.5 124.7 422.5 138.9 473.3 146.6 486.7 143.2 482.1 136.1 376.1 123.0 442.3 126.2 375.5 129.1 378.8 134.8 449.2 135.0 376.7 141.2 470.2 139.2 437.0 147.2 421.7 131.5 442.4 148.4 500.6 140.2 422.0 133.5 406.1 130.5 502.2 122.5 447.5 143.9 427.9 118.4 414.6 128.4 458.0 144.3 376.7 138.0 481.5 138.5 437.7 129.5 424.3 139.9 417.2 128.2 421.5 128.3 475.8 140.1 395.6 134.9 432.5 137.6 429.9 139.9 384.8 136.3 471.6 144.4 383.3 138.1 403.8 141.9 413.6 131.8 430.3 135.3 477.1 158.4 433.6 139.3 361.8 136.8 396.8 134.8 471.8 130.2 449.0 137.8 408.8 143.2 417.5 134.8 404.9 132.1 443.2 134.5 384.5 133.1 385.7 142.1 445.5 136.2 494.2 137.1 468.8 136.1 421.9 146.7 454.5 133.9 438.1 131.3 446.4 133.7 387.0 121.0 445.1 140.7 438.0 132.8 463.9 129.5 440.7 128.9 425.2 152.1 484.4 137.0 451.5 138.0 412.8 132.7 470.5 140.2 433.8 129.4 386.8 137.6 393.6 134.4 465.0 142.9 398.4 140.6 489.2 149.0 434.3 146.9 383.0 140.2 515.7 135.9 422.3 135.8" fill="none" marker-start="url(#mB1)" marker-mid="url(#mB1)" marker-end="url(#mB1)"/><path d="M413.0 154.1 456.3 143.4 444.8 144.6 481.3 150.6 414.4 144.5 452.3 123.7 439.9 146.7 417.8 148.9 427.5 147.0 469.7 148.3 464.4 143.7 434.5 148.4 500.3 145.4 464.9 153.3 448.5 146.7 398.8 151.6 432.3 151.1 481.7 155.2 424.0 144.4 504.9 148.6 455.1 154.4 494.4 151.8 490.8 153.6 410.1 156.7 411.3 158.7 467.5 147.6 389.7 151.2 436.2 144.7 384.9 142.6 467.4 155.2 441.8 152.1 439.4 141.6 467.5 145.5 389.0 154.7 455.4 153.8 432.0 149.3 419.1 155.3 445.5 152.2 485.0 150.4 417.9 157.3 483.8 154.5 411.5 154.9 397.0 151.2 503.0 143.1 439.7 142.9 431.5 150.0 467.9 145.2 406.2 155.1 494.9 148.2 489.6 148.1 483.0 144.4 489.9 147.0 364.9 148.4 478.1 149.2 469.1 148.0 401.9 153.1 448.3 146.4 462.2 150.7 502.7 149.6 411.0 153.3 405.1 148.8 385.8 150.3 462.0 144.0 441.5 152.1 453.3 154.1 491.3 152.1 372.5 144.4 507.0 144.2 395.9 148.8 395.6 152.9 437.1 149.2 415.8 154.9 380.8 155.0 409.4 144.8 465.2 146.1 476.7 146.0 429.8 143.8 460.4 150.6 457.5 149.2 384.9 147.6 438.0 146.1 466.8 154.1 379.0 145.0 423.7 154.5 428.4 150.1 413.0 153.8 473.9 146.1 415.9 146.4 484.3 143.9 448.1 133.6 489.0 135.4 482.8 143.4 454.4 141.1 457.2 148.3 477.2 152.8 424.2 145.0 447.6 154.2 458.1 140.8 411.8 153.1 508.6 144.1 452.8 147.5 429.3 148.4 444.8 148.0 452.7 144.1 509.5 147.3 420.9 144.8 479.1 146.6 429.7 153.6 424.6 147.8 517.3 150.9 492.9 150.4 447.4 151.1 406.7 146.8 394.4 149.6 382.2 151.0 430.4 129.0 419.7 148.0 414.9 157.2 408.0 145.9 391.9 148.1 409.4 147.5 399.3 150.6 460.0 153.0 496.2 143.3 429.6 153.0 483.3 162.5 439.1 149.1 387.9 144.5 395.6 160.4 512.9 149.0 420.9 151.0 412.5 144.8 433.4 151.4 459.4 147.2 384.6 150.0 464.1 147.7 441.1 151.2 444.3 153.5 421.9 150.3 428.5 142.9 408.9 151.8 415.3 148.5 447.1 151.5 439.4 145.2 461.7 149.4 477.9 144.6 440.5 147.7 507.0 146.8 467.6 156.9 405.2 146.9 472.4 142.9 484.8 145.4 460.5 154.6 401.4 148.2 423.4 141.4 446.5 151.2 405.0 146.1 528.3 146.8 483.0 156.9 473.7 151.2 409.0 155.0 415.9 145.5 520.5 151.7 469.4 145.8 461.7 149.4 484.8 149.9 391.1 153.1 385.6 145.9 393.9 145.7 467.8 154.1 461.4 146.6 496.2 148.2 516.4 144.9 435.3 156.6 429.7 148.5 399.2 144.9 463.4 147.4 485.8 155.3 386.8 150.6 492.7 156.1 409.1 149.8 396.6 142.4 432.4 143.8 406.5 144.5 474.2 151.4 417.4 152.9 406.5 152.4 461.7 148.5 386.2 156.1 426.3 147.5 442.8 156.5 430.8 156.8 388.5 151.3 461.7 153.0 399.3 142.6 458.0 148.7 396.5 150.6 513.2 149.5 475.7 155.0 467.0 146.9 450.3 150.2 401.9 155.7 470.5 148.5 375.0 138.4 480.8 155.8 450.5 152.0 489.6 141.6 388.9 137.8 520.3 146.1 384.2 151.9 417.2 154.4 428.1 154.8 448.4 151.3 446.5 146.6 454.6 145.8 405.2 153.3 414.2 151.1 457.3 142.0 462.8 148.3 393.6 144.3 470.8 148.9 431.1 153.5 484.1 141.1 422.5 146.2 386.1 150.9 456.2 148.2 441.7 153.8 464.4 114.6 433.0 149.9 417.8 146.0 515.5 152.7 421.3 149.9 479.5 145.1 443.9 153.6 421.8 154.4 422.7 145.9 461.4 155.2 365.9 146.9 487.4 146.3 487.2 148.4 464.2 146.0 475.7 156.2 475.9 154.6 468.5 154.1 375.1 143.6 480.1 148.0 413.6 153.2 471.7 145.2 477.6 144.1 388.7 145.2 429.1 148.1 410.9 148.0 413.1 152.2 444.7 149.0 466.7 150.9 450.0 146.0 420.0 140.1 444.8 152.9 472.8 148.3 395.7 156.2 459.9 150.8 476.6 146.1 425.8 141.7 499.4 153.8 408.2 143.9 469.3 148.4 365.7 147.1 470.3 145.0 426.2 153.7 463.7 148.1 416.7 148.3 451.0 148.6 406.3 149.9 492.6 148.8 493.7 143.6 451.7 149.8 460.4 151.4 498.0 143.4 449.5 150.8 488.1 149.9 472.0 145.2 416.4 155.6 435.1 142.4 466.2 157.2 462.3 153.6 450.8 149.9 432.4 148.8 425.6 159.4 374.9 149.2 437.2 146.8 400.7 156.5 384.5 153.6 436.4 144.8 402.9 151.5 462.2 145.2 443.8 144.3 438.2 150.0 372.3 148.1 409.3 154.6 457.4 133.8 406.6 153.4 477.7 149.3 399.3 154.9 466.6 149.9 471.2 148.4 438.0 153.4 392.0 143.7 532.8 151.4 477.8 145.0 480.8 154.1 444.7 149.6 410.4 147.2 482.2 146.7 428.4 149.3 487.7 146.1 458.5 152.0 433.6 145.8 444.2 147.7 447.9 143.9 436.0 154.0 487.7 152.8 516.1 134.2 421.4 144.5 418.4 144.9 381.3 150.6 467.7 145.8 453.2 144.9 381.7 156.5 428.0 152.7 441.9 150.7 489.7 147.9 450.2 151.2 377.2 150.0 505.5 147.3 393.0 147.5 470.2 145.8 390.9 142.0 385.9 149.4 493.7 149.1 429.9 153.7 452.0 140.0 454.7 126.7 511.9 143.9 392.5 149.1 466.0 146.0 398.6 148.6 438.6 148.2 452.4 143.5 466.4 151.7 504.8 154.7 406.1 150.2 402.9 147.8 452.7 153.3 454.5 157.8 436.0 149.3 435.5 153.3 397.7 148.9 401.2 146.3 384.4 144.3 471.5 147.3 458.1 147.5 500.0 152.9 505.8 148.3 445.5 150.7 462.0 151.6 445.9 155.6 389.3 151.7 471.6 151.9 482.7 147.1 428.3 144.0 456.2 146.3 477.2 150.5 461.5 146.9 475.1 144.8 425.9 153.3 432.5 156.5 389.0 151.4 425.7 149.7 393.7 150.2 409.6 155.7 486.0 149.1 415.9 152.3 483.4 147.2 391.9 154.2 473.1 151.3 398.4 151.4 422.4 147.5 417.4 153.3 474.7 155.7 502.0 136.6 366.3 146.0 440.9 139.9 445.3 144.1 430.4 154.5 475.0 141.7 393.3 149.0 437.5 154.4 475.1 151.4 465.0 150.5 424.1 144.1 405.3 146.6 476.2 146.7 420.9 150.9 459.0 152.3 444.9 160.4 382.8 155.3 426.4 143.1 508.8 149.8 484.3 148.4 411.7 147.4 465.7 151.0 420.0 150.2 410.0 155.0 445.8 144.4 474.0 150.5 513.8 145.9 469.1 152.6 416.9 152.9 384.8 147.4 473.3 157.6 466.4 149.4 462.1 147.1 429.8 153.3 399.2 151.7 472.2 149.2 485.4 151.0 424.3 147.5 488.8 154.6 422.4 147.1 452.7 143.0 479.3 147.2 449.8 149.8 463.0 149.8 454.6 153.5 441.2 149.6 493.0 146.7 419.4 142.7 504.7 151.3 517.9 146.4 428.9 151.7 428.2 148.7 431.5 147.8 437.6 132.5 358.8 151.8 470.8 150.5 511.9 145.5 438.9 151.1 440.4 154.7 408.6 144.2 389.4 150.2 409.3 154.7 410.9 144.8 525.7 143.9 436.2 141.6 364.4 145.8 457.8 149.7 420.8 155.7 448.8 152.5 452.6 149.0 434.8 146.8 420.6 151.8 498.6 148.6 445.0 137.1 394.9 152.4 440.8 142.6 472.7 149.6 486.3 149.8 418.8 150.6 394.9 151.2 422.5 152.9 507.4 152.4 416.3 151.2 405.0 149.2 461.5 150.8 447.9 155.7 406.8 147.1 501.6 152.3 407.1 146.6 417.0 152.3 381.9 150.6 431.8 153.1 433.8 152.5 402.8 149.0 489.1 147.6 425.6 139.3 437.0 155.8 436.2 146.4 456.3 151.7 394.9 123.7 455.3 144.8 452.6 158.6 396.9 144.7 415.6 145.9 433.8 144.1 504.3 154.9 417.5 144.6 465.1 161.6 446.0 157.2 398.4 148.1 423.9 155.4 419.9 148.5 506.9 158.4 447.4 146.4 457.5 149.2 453.5 142.8 408.4 142.9 409.4 142.8 441.9 146.7 439.0 150.1 447.4 144.3 485.2 145.7 420.4 144.8 429.6 149.1 480.2 155.3 429.7 148.8 481.1 147.3 481.9 148.2 501.4 150.5 447.4 151.7 365.1 154.1 451.4 145.7 380.9 150.3 455.3 152.9 453.0 153.7 417.2 150.1 452.4 148.2 435.8 143.3 486.3 155.4 479.1 153.6 424.0 146.1 407.0 147.9 424.1 146.7 433.2 146.7 450.5 138.8 476.6 148.5 445.5 150.6 414.6 154.6 491.5 150.7 412.2 154.7 461.5 162.5 429.3 160.1 493.3 152.5 430.6 149.3 397.4 151.6 411.7 150.0 448.1 151.4 483.7 150.1 445.1 131.6 474.2 151.1 376.7 148.4 398.8 150.1 442.5 116.8 415.9 148.4 480.9 150.7 427.2 153.9 392.4 154.1 439.3 144.4 445.5 130.1 452.0 142.7 458.7 139.5 409.0 155.7 392.5 151.6 468.8 141.2 406.0 142.8 441.3 155.4 465.6 149.5 396.3 152.0 462.3 154.7 468.3 149.9 434.2 145.6 468.0 155.2 471.2 147.4 417.9 141.7 469.7 145.4 437.6 125.2 401.4 156.4 429.9 152.4 398.6 153.6 409.6 153.3 391.9 153.9 425.1 152.2 411.3 145.6 430.0 141.6 459.0 148.9 434.9 150.5 483.6 148.6 416.2 148.6 464.8 154.5 459.2 150.9 386.8 155.1 522.3 143.3 422.1 118.7 418.3 145.2 432.6 156.7 438.1 148.4 433.8 154.4 512.9 149.6 440.0 148.8 413.2 145.1 459.2 150.5 495.5 152.3 476.0 144.4 435.5 146.5 434.4 151.8 452.8 142.1 441.7 149.9 431.1 148.3 383.1 153.4 432.3 149.1 501.0 148.0 462.2 147.5 375.3 152.4 392.2 154.3 449.4 152.5 458.8 147.1 418.2 149.8 403.7 143.7 450.6 151.8 475.4 147.5 413.4 157.0 450.3 145.9 459.3 150.6 391.9 141.3 387.9 154.8 465.2 150.9 467.8 151.8 450.4 147.1 484.0 151.6 464.7 147.3 442.6 147.8 475.2 145.3 386.5 149.6 489.1 147.7 482.2 143.8 447.4 148.1 450.9 147.6 463.0 140.2 425.0 152.5 444.1 148.4 492.0 150.6 390.0 153.6 392.3 148.0 427.7 146.8 435.5 150.2 449.2 141.4 464.3 150.7 443.4 146.7 452.9 149.2 426.7 154.2 409.5 128.1 456.9 155.4 424.2 145.4 512.0 144.8 396.3 147.3 446.6 148.1 435.1 150.7 425.0 151.4 479.2 139.3 393.4 149.0 442.3 144.2 457.5 150.6 430.9 150.0 417.5 145.1 475.0 148.6 424.1 153.5 458.8 144.9 415.2 148.3 432.7 149.9 493.6 143.3 485.8 155.5 427.8 146.8 417.4 154.0 462.8 149.1 430.6 149.5 471.0 148.4 468.5 158.0 388.4 150.1 444.8 158.6 445.7 148.2 455.3 152.2 430.6 153.0 489.2 151.1 382.1 151.2 495.5 148.9 491.4 152.0 486.7 157.3 420.1 153.4 453.2 148.9 441.4 142.3 420.5 149.9 374.1 153.4 387.6 145.9 460.6 150.3 392.0 150.0 476.8 148.7 406.1 147.5 436.1 150.9 454.3 149.4 462.3 150.1 470.8 145.0 479.8 153.9 463.4 158.5 441.4 138.9 441.1 152.1 392.6 151.9 401.7 140.7 479.1 150.0 408.6 154.7 395.5 150.3 374.2 151.4 458.4 153.3 459.9 148.9 432.9 148.9 483.2 146.3 421.2 144.6 484.1 149.7 458.0 147.2 465.8 151.0 471.8 143.1 408.9 156.9 411.7 152.7 426.4 154.9 430.8 153.6 413.4 148.9 429.0 152.2 499.5 155.8 358.4 154.6 454.9 155.2 443.7 152.9 470.2 152.2 474.6 148.2 434.7 147.0 401.6 149.8 424.5 136.2 491.0 145.7 443.5 146.8 425.2 147.5 465.3 156.4 455.5 150.1 415.7 145.3 455.2 144.4 486.9 147.5 416.2 144.9 407.0 146.1 375.7 158.1 405.5 142.4 452.6 146.6 386.1 149.1 393.4 151.0 458.8 142.1 413.3 142.0 458.5 151.9 493.7 149.3 489.2 144.4 464.9 148.5 507.6 145.8 430.9 156.5 367.3 154.3 484.3 148.3 460.2 150.0 425.6 145.9 424.1 151.0 503.0 151.6 388.9 151.0 447.2 142.4 496.4 145.4 395.2 158.5 376.6 145.7 468.5 151.3 413.1 143.7 476.9 150.3 423.6 154.7 415.4 148.4 487.3 145.7 472.5 151.6 373.5 147.6 488.0 146.7 410.8 145.3 468.2 147.5 427.7 146.6 408.3 143.3 438.6 150.5 438.7 142.3 428.8 152.2 469.1 147.9 479.1 148.7 436.9 154.1 375.6 148.9 483.6 143.9 453.3 141.2 418.8 149.4 375.4 152.5 377.2 152.9 480.6 149.4 405.1 148.0 382.9 148.0 418.7 151.6 467.7 146.0 469.8 150.3 426.4 152.0 423.1 146.5 405.1 140.5 377.5 140.5 469.9 147.6 409.7 148.1 438.1 151.3 460.9 148.6 481.9 151.9 450.4 147.4 415.9 147.7 386.5 152.4 420.7 151.7 472.4 149.5 489.0 145.4 482.6 149.0 377.0 149.8 488.8 153.6 428.0 145.5 408.6 151.0 469.4 142.4 445.3 146.7 426.5 130.2 389.2 155.4 507.4 147.8 403.7 146.9 488.3 146.7 452.2 148.1 414.8 142.9 479.7 155.2 497.2 153.5 423.9 142.7 473.5 147.3 427.9 153.5 413.1 147.8 438.7 144.2 391.2 144.1 418.8 149.2 428.5 148.9 471.4 148.4 445.0 134.9 421.2 160.4 442.3 145.3 431.0 148.0 390.3 141.8 407.4 144.3 451.8 126.6 469.9 144.9 474.1 144.2 403.0 145.0 397.3 146.2 482.0 151.9 468.5 150.4 430.4 150.8 460.1 150.8 447.8 148.5 493.3 152.5 392.8 151.3 369.4 149.3 435.7 150.9 493.0 152.1 414.9 146.6 420.0 150.3 442.6 145.6 458.8 151.1 467.4 150.2 451.6 144.5 481.1 143.1 357.1 149.1 449.6 149.3 463.3 144.0 446.3 148.9 486.6 140.1 395.2 151.5 500.6 150.9 414.7 155.5 437.3 151.3 425.0 145.8 389.8 143.4 430.9 149.5 458.9 151.0 405.0 135.8 502.6 149.3 435.8 149.5 424.8 149.8 447.0 146.3 407.6 146.9 421.3 154.3 375.2 129.8 462.6 149.1 391.7 150.3 374.0 150.7 470.8 149.3 472.1 141.0 418.7 150.6 463.6 145.7 500.9 148.4 476.1 151.8 434.2 149.7 383.9 148.8 391.5 150.2 479.5 151.8 373.8 140.4 398.8 148.4 427.9 113.1 506.1 143.2 482.3 147.6 390.1 155.9 389.5 141.1 467.1 149.6 427.3 151.2 391.9 147.7 491.8 152.7 486.4 149.8 419.8 128.6 497.3 151.3 443.7 149.0 481.3 146.0 469.3 147.2 491.2 147.1 475.8 156.1 480.1 147.3 446.6 147.4 430.7 153.0 407.4 146.0 398.7 152.3 440.9 151.2 438.9 154.8 484.4 144.3 387.1 149.4 492.0 148.7 446.8 151.0 466.8 150.9 399.3 145.1 478.6 153.2 394.1 152.6 446.8 149.2 429.7 136.7 452.8 145.4 443.6 157.6 407.1 148.0 437.9 151.0 454.5 144.4 497.8 155.0 417.6 155.8 425.3 141.0 437.1 119.0 397.9 141.6 420.5 147.6 430.1 147.2 367.3 149.6 394.2 148.5 397.3 152.7 428.2 147.6 417.6 146.5 463.3 147.2 445.5 144.8 487.4 145.9 451.2 145.3 475.6 148.6 428.2 146.1 486.8 150.9 395.9 144.8 489.2 151.8 476.4 120.1 493.7 152.4 442.1 149.2 379.9 152.7 396.0 147.0 422.2 152.5 486.2 153.3 414.8 150.6 445.7 143.3 380.5 147.5 488.7 145.6 391.9 155.6 445.6 134.7 411.2 150.7 454.6 152.0 411.8 148.0 450.1 146.6 457.2 148.9 386.9 151.2 416.6 147.2 395.9 147.2 409.1 145.4 465.9 144.0 441.6 147.6 394.4 152.0 409.3 156.8 447.7 148.7 400.0 155.3 474.0 151.9 400.7 144.7 456.5 152.5 390.4 147.1 414.4 146.7 418.8 149.9 439.5 144.7 379.4 154.0 486.5 141.0 383.4 151.5 421.5 147.9 482.3 145.7 446.8 151.6 495.7 146.2 412.0 146.8 459.4 143.4 411.1 153.0 482.5 147.7 456.0 147.2 436.5 145.8 477.9 147.3 455.3 157.6 489.0 150.9 363.0 149.8 436.7 150.7 447.9 129.1 392.2 150.2 474.4 152.1 440.1 141.4 422.0 149.1 388.5 148.6 393.6 147.3 423.4 149.4 493.4 150.3 456.9 154.2 474.3 143.2 418.5 145.9 419.0 150.6 445.8 149.4 513.0 126.7 407.9 150.5 404.4 149.8 384.6 149.4 430.8 143.6 393.2 150.5 452.4 153.4 376.7 152.4 477.7 147.3 456.3 146.8 420.0 152.3 480.3 144.9 421.8 151.1 406.3 146.5 468.5 146.5 454.2 155.6 413.6 145.6 478.6 147.2 384.6 158.7 436.8 144.7 417.7 149.5 511.5 151.7 428.4 147.9 457.2 152.6 423.1 140.1 386.0 146.9 422.4 154.7 460.6 153.0 412.5 153.4 511.5 147.5 486.9 152.9 496.2 148.5 421.0 144.2 434.4 149.6 476.0 154.1 422.7 151.7 381.0 152.2 439.6 150.8 422.0 141.0 426.0 150.6 452.6 150.7 439.0 153.5 451.2 148.3 383.0 151.7 384.2 107.9 471.6 145.7 478.4 143.3 481.7 146.9 426.5 155.9 434.9 156.1 465.7 145.3 453.6 136.5 454.4 150.2 495.7 150.4 472.2 152.2 456.4 118.0 483.1 147.9 424.3 149.3 456.5 150.4 437.4 155.7 385.4 153.1 431.7 154.6 406.9 145.5 488.6 143.3 409.3 147.3 479.7 152.6 445.3 147.8 462.1 145.8 481.4 142.1 412.9 151.3 485.5 151.4 492.8 149.5 437.9 143.8 503.6 148.8 454.4 153.6 427.7 153.2 487.3 154.5 437.1 146.6 429.6 140.2 447.0 147.8 481.3 146.7 508.7 155.7 461.1 147.0 378.4 140.5 448.9 146.8 474.7 141.4 424.0 153.1 433.6 147.1 440.1 146.2 467.6 150.4 501.4 153.6 525.2 144.4 382.9 148.8 451.0 146.1 485.6 150.5 465.1 149.3 463.9 135.6 419.0 150.6 404.6 151.1 393.2 146.0 463.9 150.4 407.1 150.6 443.9 158.2 449.2 147.1 473.7 150.4 454.0 154.9 461.8 148.0 512.8 152.7 435.9 154.3 397.5 146.9 421.3 158.1 400.1 141.9 465.3 145.0 479.8 149.9 388.8 145.2 497.9 151.5 383.9 154.0 408.3 155.8 483.4 140.6 399.1 155.5 417.7 149.7 400.3 144.0 446.6 157.5 408.2 145.9 409.8 149.6 413.4 149.3 469.2 152.4 444.7 148.1 424.3 151.9 464.7 142.8 497.1 142.1 447.2 148.6 449.0 152.9 452.2 144.8 442.2 144.2 413.4 148.2 398.4 154.1 490.2 131.3 398.1 153.2 479.8 153.0 447.4 154.7 450.8 151.7 470.2 142.3 507.7 153.0 423.7 141.4 427.6 154.0 500.0 150.9 422.1 142.5 442.1 156.8 448.6 145.3 483.3 144.4 417.5 152.1 453.3 150.2 530.7 155.2 442.4 153.9 419.0 154.6 398.2 153.1 429.7 148.9 471.6 151.8 405.2 149.8 476.3 144.4 390.2 146.6 441.0 150.2 420.2 141.7 410.0 150.7 468.3 145.6 434.9 155.9 385.8 150.6 426.6 151.5 431.4 156.3 443.3 157.9 442.8 150.3 430.2 155.5 482.7 152.5 469.0 143.2 464.7 149.4 419.4 155.1 417.1 151.1 397.3 146.7 456.0 146.5 389.9 149.0 394.2 155.4 494.0 159.4 371.3 151.5 471.6 148.4 460.2 155.2 461.1 152.9 509.0 146.2 370.0 148.5 427.2 147.7 452.9 149.5 469.1 144.9 469.9 157.1 398.5 143.8 451.6 158.1 440.2 151.5 400.3 156.3 471.7 151.9 407.1 150.6 431.4 154.1 412.5 146.6 493.5 146.4 425.4 147.6 445.1 148.3 418.1 154.4 466.4 138.6 471.7 150.6 409.7 147.6 476.3 156.5 458.4 145.8 400.6 152.9 401.2 148.2 486.7 153.0 400.5 142.1 443.1 152.7 421.3 146.1 449.6 153.3 385.9 152.2 462.5 150.9 439.8 147.2 410.6 152.2 366.3 152.1 384.3 148.4 423.7 148.0 443.6 143.3 475.9 149.0 422.6 150.5 462.1 145.7 486.8 141.2 364.6 139.6 394.6 145.9 487.9 154.1 409.1 150.5 438.8 153.7 490.7 147.5 412.2 152.4 439.6 143.9 392.7 150.3 360.3 143.8 478.3 146.6 393.0 149.6 389.9 154.7 477.9 155.9 494.0 150.8 385.6 143.1 436.9 144.8 410.7 155.1 466.5 132.2 476.3 146.1 380.2 145.1 449.8 150.1 399.2 141.3 422.5 154.3 510.5 144.3 404.1 146.3 469.4 144.5 462.9 144.1 436.3 144.1 435.3 152.8 397.1 148.6 434.2 154.9 479.5 146.7 472.4 146.4 412.2 143.1 451.1 145.9 493.4 148.2 469.5 153.7 432.5 150.4 433.9 153.5 423.4 155.1 467.7 147.4 447.8 142.3 407.2 147.0 467.9 147.3 446.1 144.3 403.2 146.7 421.0 152.0 473.9 151.6 495.2 153.8 376.4 146.8 387.2 157.4 471.9 150.2 415.2 147.4 409.1 150.1 428.5 144.6 436.6 151.5 407.5 144.7 438.9 145.4 478.2 152.2 516.9 139.4 468.1 141.3 431.0 147.7 508.3 152.1 490.7 154.3 464.8 148.8 428.8 150.6 430.8 142.6 456.9 151.0 379.5 153.9 429.4 142.8 433.7 151.8 448.0 145.4 483.5 142.6 409.8 152.6 462.2 138.9 371.3 149.7 445.5 147.3 442.3 145.6 486.9 151.7 408.9 153.6 480.0 147.3 494.4 155.3 404.9 147.5 382.6 150.3 407.9 150.3 398.2 150.9 394.6 146.6 420.9 142.9 441.8 147.4 378.5 140.1 427.7 147.4 409.8 145.7 386.3 151.6 405.9 152.0 412.6 154.4 397.3 155.1 496.7 145.9 458.6 152.1 450.0 152.9 402.4 159.7 409.1 149.3 441.2 152.7 487.1 145.1 500.2 150.4 464.1 156.8 427.8 143.0 495.7 149.4 419.5 140.0 458.4 149.3 506.9 150.1 442.1 157.5 422.7 159.3 390.2 145.5 456.7 141.1 423.4 145.4 401.0 152.2 432.1 137.7 450.3 149.7 426.6 147.2 460.3 153.2 393.9 150.2 376.6 147.3 452.3 156.6 390.2 153.2 432.3 151.4 455.2 157.2 489.5 145.6 401.3 155.4 464.3 148.2 423.8 153.7 422.4 155.9 441.5 147.6 395.7 136.2 409.6 151.7 488.7 158.2 475.3 149.6 432.5 150.2 390.1 151.2 416.5 145.5 411.4 150.5 461.8 139.7 408.6 141.5 462.2 152.1 416.8 153.5 472.6 142.1 453.3 159.8 468.5 138.7 368.3 154.2 476.2 146.2 479.8 143.7 365.4 148.7 438.3 157.6 451.1 141.6 544.5 158.1 405.7 150.5 476.3 146.6 460.0 148.7 402.9 141.0 372.9 149.4 461.6 151.0 453.4 146.5 431.4 159.4 417.3 147.4 400.1 147.2 436.5 145.5 427.0 146.0 472.3 125.6 449.6 159.0 404.0 157.6 432.3 146.9 467.9 147.9 492.2 148.5 460.6 148.0 462.1 150.0 434.5 147.8 407.7 144.9 383.6 157.5 476.9 151.8 487.8 150.9 438.3 154.6 435.2 151.0 477.6 146.8 371.1 146.3 460.5 148.3 434.6 143.2 411.5 151.5 463.8 142.0 465.5 148.6 485.6 144.7 473.6 147.0 382.2 146.8 418.5 155.4 396.8 152.5 446.7 142.8 441.0 157.4 408.8 147.5 477.7 154.3 488.3 148.9 420.3 145.9 496.8 147.7 419.2 149.4 397.8 151.1 338.6 150.5 482.3 150.4 388.7 143.6 388.9 152.2 508.0 147.5 393.9 162.4 505.5 145.9 491.7 153.2 454.3 135.1 439.0 152.3 457.7 143.5 473.8 155.0 454.4 146.8 402.1 122.3 427.3 150.8 444.2 151.8 433.2 150.6 483.0 154.3 469.6 157.9 414.0 150.4 465.0 146.3 431.3 149.0 415.9 96.4 428.8 149.9 425.2 152.5 436.0 145.7 477.4 149.9 394.0 151.3 418.2 151.5 400.6 149.1 413.4 153.2 433.0 155.4 443.6 157.7 442.3 152.3 503.4 152.1 418.9 143.1 488.9 146.5 403.4 151.2 367.2 150.8 440.4 153.9 364.1 143.7 454.5 152.0 441.2 143.6 457.4 150.7 392.4 152.8 427.0 157.9 432.3 146.0 462.7 151.1 416.9 148.4 438.6 144.5 417.7 154.6 460.9 147.5 410.1 122.4 421.3 146.3 517.5 135.2 391.8 147.7 414.0 152.0 441.3 130.8 430.0 145.1 499.5 147.0 448.6 148.8 413.4 149.0 436.5 155.2 447.6 144.0 433.6 153.7 432.9 146.9 397.9 155.2 425.9 151.4 416.9 153.1 443.8 148.5 444.0 150.8 507.4 153.1 465.4 142.1 435.3 143.9 417.4 151.7 505.1 143.9 449.9 154.5 427.7 147.7 485.0 148.5 446.9 151.7 469.1 151.6 503.7 159.4 498.8 150.7 476.2 138.0 482.5 151.9 383.6 144.6 404.5 147.3 468.7 147.1 390.9 140.6 405.5 162.6 477.4 146.1 480.3 149.2 396.8 149.9 476.4 150.9 418.0 142.5 443.6 160.8 393.3 152.2 406.2 147.9 432.0 148.6 469.7 153.5 436.1 151.0 469.4 149.4 442.5 147.2 418.9 150.8 364.7 148.9 403.4 155.7 434.8 147.3 402.2 151.5 486.8 151.7 435.1 147.5 460.4 144.4 385.2 145.1 454.2 152.8 368.5 154.2 475.1 143.6 490.7 155.8 376.1 146.2 452.4 153.6 457.0 146.8 384.0 144.7 435.1 149.9 498.2 141.1 426.2 153.6 410.9 146.6 396.8 146.1 442.3 140.7 467.8 149.4 409.5 140.5 435.6 152.1 452.8 152.1 484.9 151.6 389.7 151.5 487.4 153.0 486.3 155.7 484.3 147.6 360.2 147.3 402.1 149.9 480.1 145.0 455.6 140.9 367.2 153.7 404.0 155.8 433.4 112.1 413.3 147.1 413.2 140.5 407.0 146.1 465.2 157.7 392.3 149.3 406.2 149.9 459.6 150.2 478.6 147.6 393.9 148.9 471.3 148.5 360.1 150.4 394.8 157.6 404.1 152.7 426.3 152.6 376.6 151.6 412.5 142.8 400.3 144.5 455.9 146.8 507.5 143.1 504.0 151.2 388.3 150.3 439.5 144.3 403.9 147.6 415.4 145.6 456.8 152.7 387.5 152.5 435.7 153.9 466.5 151.1 446.6 150.1 493.2 140.2 468.8 144.5 507.1 150.0 460.4 150.9 434.2 140.3 464.4 152.3 452.8 140.9 460.3 148.9 487.3 142.8 417.4 155.5 420.4 154.3 414.4 145.7 416.1 147.9 484.3 149.3 479.2 151.5 495.2 148.7 422.0 151.4 421.8 148.0 415.1 151.6 459.6 148.5 424.0 146.0 385.9 154.2 423.7 144.4 472.8 157.2 494.2 141.8 422.2 144.6 450.2 150.9 454.5 144.5 433.5 143.9 418.6 145.3 420.9 150.7 466.6 158.9 428.7 149.7 384.9 147.1 433.0 151.3 386.1 153.7 512.7 153.8 447.8 145.7 484.7 149.1 432.2 150.8 447.6 160.9 424.4 146.9 407.3 154.4 387.4 147.7 449.1 149.5 435.6 148.5 448.3 148.7 495.0 157.9 507.6 142.5 426.1 155.0 423.6 147.5 511.6 151.0 388.1 150.6 428.1 146.8 463.1 152.8 471.6 149.7 379.4 152.0 450.3 153.8 415.0 151.7 446.2 144.9 428.3 148.6 419.8 147.6 448.0 146.8 470.0 148.1 399.6 149.8 398.9 151.0 468.0 154.6 406.5 140.7 380.9 157.7 498.6 145.3 495.5 146.1 417.7 151.3 424.8 154.2 431.8 150.8 427.5 154.8 434.1 140.5 490.3 150.4 458.6 149.8 426.0 152.5 392.1 143.1 419.9 143.3 422.8 146.0 493.1 146.5 415.5 146.5 366.4 146.2 463.1 152.2 428.8 146.8 435.3 145.9 376.4 156.1 476.1 145.4 409.5 159.9 469.7 152.7 451.6 157.5 443.4 154.7 470.4 144.1 428.6 143.6 477.2 147.3 509.2 145.2 441.3 146.9 493.0 151.6 407.9 142.7 453.8 150.2 439.1 146.1 398.0 152.1 461.9 149.3 389.1 146.9 436.5 149.8 434.8 145.3 413.3 147.7 448.1 144.2 390.0 148.4 485.1 146.7 404.1 151.9 455.8 140.9 406.9 142.4 425.9 147.6 405.5 152.8 452.0 146.2 463.1 112.1 430.7 152.6 418.0 146.6 457.0 152.2 405.1 140.9 446.7 147.3 433.9 154.5 415.7 149.4 450.5 153.1 410.4 147.7 473.4 152.2 454.3 152.2 435.8 143.1 444.1 152.5 451.3 153.3 471.1 142.4 403.9 146.8 433.9 147.0 503.0 150.4 419.4 150.2 478.5 143.2 492.1 140.9 482.9 145.3 442.9 155.0 441.9 143.3 434.0 152.0 444.5 159.1 491.8 145.6 380.5 149.1 369.8 154.5 417.0 149.2 388.4 152.6 470.5 147.4 377.0 147.0 432.6 145.9 396.8 152.7 484.9 160.7 494.5 145.2 442.3 152.9 435.8 150.3 410.9 153.2 400.3 141.9 383.4 146.0 396.4 151.1 478.5 150.0 424.7 153.4 375.9 146.7 405.0 149.0 526.3 153.6 408.5 148.4 439.3 147.5 432.5 146.4 512.5 145.8 484.5 156.8 400.0 146.0 487.9 144.3 398.3 151.0 439.6 147.8 398.7 152.4 448.8 149.5 493.5 149.5 363.0 151.1 461.2 144.6 457.1 144.5 514.9 149.0 408.2 137.6 444.2 145.2 478.2 152.1 472.6 142.4 398.8 155.6 467.0 147.9 394.0 155.7 472.0 148.0 452.3 149.7 468.8 147.7 385.0 147.6 437.3 148.5 418.8 149.4 496.2 151.4 423.7 148.2 455.9 153.2 464.0 150.1 435.4 150.7 474.9 150.0 507.9 148.9 450.8 151.3 392.0 141.7 457.4 144.4 447.1 151.7 452.7 156.4 405.1 148.0 469.8 143.1 499.7 147.0 407.0 155.0 496.7 147.5 466.0 152.7 368.3 156.3 388.9 154.6 507.9 153.2 458.2 156.5 482.5 148.6 451.4 118.4 480.5 149.5 435.8 150.8 409.0 144.3 446.3 151.3 446.5 141.0 431.7 148.8 395.4 148.6 421.0 144.7 488.7 150.7 443.5 137.0 402.3 157.9 428.9 147.5 502.6 142.8 388.7 150.7 466.3 152.9 448.4 154.4 455.6 153.3 462.9 147.1 421.9 147.6 438.8 151.3 493.3 147.5 393.6 141.2 427.8 150.4 424.3 151.4 518.4 158.4 511.2 152.1 461.8 145.2 507.8 147.8 414.3 151.0 467.2 150.4 410.8 144.0 430.9 137.6 429.3 147.8 424.9 151.2 493.9 147.9 412.1 141.5 396.3 153.9 467.7 148.7 521.8 140.5 393.1 146.0 491.1 148.3 408.9 148.4 392.8 148.1 495.7 140.7 488.8 146.5 435.1 152.0 416.8 150.3 456.3 154.0 394.0 127.7 388.0 153.3 427.3 152.0 458.8 148.4 453.3 146.5 409.9 146.7 434.5 145.9 414.6 146.0 442.3 153.0 408.4 147.6 433.5 147.7 445.4 145.2 453.0 151.6 492.0 149.7 411.3 152.3 521.7 151.6 422.1 149.0 415.4 149.5 412.4 141.6 476.7 143.6 395.8 146.4 432.9 149.1 373.3 141.5 386.0 154.7 439.3 146.8 429.1 149.5 420.6 145.7 431.9 149.1 418.5 147.1 485.2 150.9 446.4 151.8 478.4 146.7 455.2 143.7 394.8 152.3 483.3 149.2 385.5 111.2 449.7 145.5 460.0 157.1 484.3 143.0 426.7 153.8 488.1 144.9 457.1 155.5 436.9 155.1 451.3 141.9 460.1 146.3 440.6 148.7 446.2 141.3 476.3 148.4 460.7 141.9 467.3 149.5 427.7 155.0 417.1 147.3 427.2 147.2 372.1 155.9 444.0 150.3 481.1 146.8 485.5 142.6 444.5 148.1 432.9 151.9 433.7 153.1 467.5 146.0 425.5 161.1 379.9 153.0 466.8 146.3 449.1 152.7 470.5 146.2 426.1 155.9 432.4 144.8 464.1 153.3 475.1 147.5 426.7 154.3 368.1 153.7 515.9 154.9 501.3 144.5 416.7 148.7 442.7 149.7 460.2 155.7 401.3 149.8 455.7 140.3 426.5 147.6 445.2 153.0 379.4 139.2 460.4 143.2 466.2 143.9 504.6 147.2 442.1 146.4 397.2 144.9 468.0 152.7 495.5 152.2 376.9 135.3 433.3 145.6 468.4 147.0 426.5 148.4 433.7 141.8 447.6 150.8 444.4 148.3 476.2 105.1 429.6 143.1 478.1 150.1 423.6 151.1 441.9 155.1 462.0 142.4 377.8 159.7 404.0 147.1 407.0 151.8 465.9 149.1 372.7 153.2 396.6 142.1 416.3 139.7 419.0 146.3 455.9 145.2 380.3 149.5 412.8 148.3 502.1 145.3 460.1 147.2 408.9 158.0 458.8 157.1 434.6 148.6 406.2 149.3 453.8 155.6 372.4 151.4 441.0 150.3 454.5 148.2 419.7 125.0 450.3 147.6 445.9 149.2 475.4 152.1 489.3 147.2 410.7 149.7 467.3 140.4 453.4 143.7 393.9 151.3 503.0 147.8 460.4 146.8 503.7 151.8 418.6 148.0 501.7 147.9 458.3 150.7 452.1 146.8 378.1 148.1 470.2 157.3 492.3 149.9 444.8 149.3 416.9 145.4 432.0 148.1 418.1 147.0 382.0 149.6 364.8 144.1 427.5 148.5 426.1 156.9 391.2 141.4 459.0 148.6 463.2 152.1 485.4 147.5 386.0 155.3 503.6 147.2 402.0 142.6 429.5 149.8 474.3 151.9 487.1 150.0 399.2 151.2 423.2 157.9 385.2 147.9 393.5 145.5 398.8 144.4 429.7 151.3 484.6 143.2 487.0 148.4 415.0 155.8 422.8 153.4 521.9 142.2 498.2 143.7 494.3 151.5 457.9 152.8 499.2 141.2 439.2 148.8 446.6 160.4 461.8 148.2 517.5 148.0 458.3 151.0 437.1 144.0 395.1 153.4 458.8 149.5 439.4 147.5 408.4 151.8 437.1 141.9 432.2 147.9 516.7 150.6 501.4 153.1 385.3 150.7 406.8 154.1 449.5 150.9 438.0 151.5 436.4 148.4 428.6 152.9 437.5 150.2 420.1 146.7 426.5 152.3 448.7 145.0 465.1 153.1 445.4 147.3 481.4 151.5 453.5 147.5 464.5 148.7 445.2 148.4 407.2 146.6 504.2 151.9 458.4 152.2 386.3 139.2 394.3 147.5 467.1 150.6 390.9 152.8 410.6 147.4 458.5 158.4 408.3 150.3 459.4 153.4 382.5 150.7 381.2 147.9 406.3 141.3 499.1 142.7 458.3 147.3 424.2 149.3 471.2 145.8 382.6 150.0 456.0 147.6 427.3 148.4 396.7 152.9 418.2 154.0 458.2 150.4 419.1 146.2 479.6 151.8 441.2 146.4 451.5 147.6 466.0 150.5 459.5 153.6 476.3 151.5 480.5 148.4 377.3 150.5 426.4 149.0 419.1 143.5 505.2 152.8 476.0 146.0 421.0 146.9 451.5 151.1 491.7 146.8 474.2 145.3 539.3 135.5 353.7 146.6 475.1 144.3 463.6 155.0 405.1 153.0 423.2 149.9 455.4 152.5 474.8 153.0 444.7 146.3 487.1 152.6 411.1 142.2 526.9 148.8 414.1 143.9 410.0 151.0 461.2 152.0 451.8 144.1 465.0 143.3 481.9 140.6 416.0 131.9 459.3 148.8 500.7 149.3 437.1 153.2 392.0 153.5 428.2 134.4 502.6 151.4 462.6 139.5 480.2 151.9 440.3 152.4 462.1 143.5 430.2 144.9 410.3 156.1 463.9 147.2 439.7 152.1 492.9 154.2 422.6 150.9 463.5 147.7 499.4 151.5 452.8 149.4 419.1 145.8 442.5 141.5 464.3 145.6 517.7 151.3 476.7 146.5 455.5 145.0 468.0 148.7 407.2 149.2 414.6 153.5 427.8 150.8 485.6 148.9 427.4 144.9 455.0 145.4 400.9 147.1 468.4 146.0" fill="none" marker-start="url(#mB5)" marker-mid="url(#mB5)" marker-end="url(#mB5)"/><path d="M403.8 166.5 431.9 169.1 460.8 163.9 430.3 160.6 441.7 153.3 456.9 161.6 502.1 158.2 459.3 158.8 439.8 157.4 491.1 155.7 455.2 170.0 471.7 150.6 481.3 148.7 468.8 108.7 422.0 164.3 465.9 151.9 425.5 168.2 452.9 165.2 420.6 169.1 494.7 158.8 405.0 159.2 500.0 159.9 439.8 157.8 338.4 165.3 447.9 176.1 453.8 172.5 462.1 185.1 456.9 162.6 414.1 164.3 489.1 171.1 465.2 173.8 435.6 157.7 457.4 146.9 489.5 163.5 448.1 149.3 441.8 163.3 466.6 157.8 445.8 162.6 396.5 158.6 439.7 160.0 457.0 150.7 448.7 141.8 448.4 179.0 422.0 167.6 504.5 153.8 488.0 178.2 397.5 163.4 443.0 158.0 439.8 160.1 400.1 146.3 445.5 156.9 404.0 162.4 442.8 178.9 435.2 159.1 405.0 153.5 369.2 159.8 411.1 161.6 369.3 162.9 427.2 160.1 404.2 152.4 468.4 153.5 436.2 178.6 510.1 157.2 469.5 156.2 471.4 166.2 477.5 185.3 468.6 169.0 483.2 170.1 420.4 157.6 408.6 154.2 499.2 158.4 414.8 160.4 391.9 120.5 459.3 157.5 428.2 164.9 399.4 168.7 383.7 161.7 442.5 117.7 383.1 187.9 504.8 166.4 433.8 163.6 445.5 160.7 468.0 151.8 438.5 149.7 506.7 151.9 482.4 175.1 410.4 141.3 408.2 131.4 401.4 167.8 471.6 159.1 407.4 191.6 438.0 165.5 459.6 149.2 416.5 157.9 425.5 161.2 387.7 200.2 442.9 183.0 410.6 166.6 444.9 149.6 443.7 156.5 387.1 156.8 387.7 182.9 447.3 172.4 433.6 148.6 466.8 158.9 475.9 153.4 410.1 155.1 480.0 169.9 427.6 182.9 401.9 165.9 400.0 160.0 472.0 160.4 450.0 153.9 450.1 161.8 402.0 159.8 395.0 165.5 401.3 162.0 386.5 162.3 465.1 143.6 379.1 175.9 463.3 148.4 459.9 153.4 399.9 155.2 509.5 175.3 444.8 165.7 405.9 169.3 457.1 160.8 440.3 161.4 428.4 166.9 383.5 157.7 457.5 173.0 430.1 144.7 482.3 160.7 443.0 166.6 455.5 181.5 405.6 155.4 491.9 163.1 434.8 153.6 423.8 170.4 454.6 157.2 398.3 169.9 477.2 166.3 406.6 155.4 486.2 147.2 449.3 176.1 366.0 199.7 512.2 147.5 382.5 146.2 423.5 150.2 474.7 151.6 500.1 182.6 439.6 173.4 488.0 151.9 470.2 136.8 378.1 170.6 460.8 160.6 458.6 162.4 458.5 176.4 434.1 156.1 410.5 178.0 425.3 159.4 487.4 169.7 437.0 164.2 428.4 153.0 393.6 164.8 467.9 174.4 418.6 194.0 444.0 157.3 379.8 165.3 439.6 189.2 426.2 164.6 451.0 98.7 495.1 158.1 440.1 158.0 375.3 159.6 453.8 170.8 475.1 166.1 448.4 164.7 508.4 168.6 463.6 182.6 438.0 166.7 473.7 156.4 515.9 152.6 420.6 165.7 426.4 167.6 511.2 162.9 478.0 157.8 432.7 177.0 463.9 169.1 441.3 159.7 453.0 158.7 441.8 173.5 425.9 164.3 447.8 187.4 450.7 149.1 418.6 170.2 386.1 177.6 383.1 166.7 405.7 164.7 486.1 157.2 428.2 169.4 385.9 168.8 435.9 164.6 395.6 162.7 475.5 166.7 502.3 151.1 448.4 158.2 474.1 166.1 409.7 145.9 449.9 188.0 400.0 157.5 401.0 164.3 459.8 155.2 394.4 170.6 373.9 153.2 398.8 160.4 411.0 179.7 380.9 184.1 382.5 149.9 431.4 166.3 457.8 155.2 490.0 170.0 452.1 160.9 433.0 172.6 388.8 153.5 483.6 176.8 392.9 172.2 426.2 163.0 500.2 153.0 410.5 154.4 509.8 165.5 397.9 165.4 434.7 159.1 464.5 158.7 475.0 159.3 476.1 180.6 446.6 169.1 470.7 157.3 490.3 161.2 418.6 166.3 450.0 130.5 409.1 159.5 503.3 156.1 492.3 161.3 484.7 159.7 498.8 158.8 399.7 157.6 408.1 161.7 468.2 129.2 345.5 157.1 423.4 165.7 395.7 168.2 383.8 171.5 367.6 160.2 461.8 166.0 393.8 155.5 364.9 152.7 408.6 176.2 384.7 160.2 469.9 161.9 389.1 152.1 472.4 61.2 414.8 159.1 438.5 157.2 413.2 162.5 445.3 152.9 490.0 152.2 447.3 150.5 511.0 163.2 458.6 187.8 451.5 169.6 476.9 178.9 481.4 178.1 468.2 169.5 408.1 136.1 475.2 148.5 463.2 165.9 446.4 165.6 456.3 159.7 467.7 166.0 444.8 145.5 398.0 153.2 443.9 166.8 476.8 161.5 423.3 168.3 386.1 156.7 433.8 153.0 488.9 157.4 520.9 180.6 434.9 168.0 395.4 164.8 453.1 167.8 477.9 158.2 425.9 82.3 434.6 165.0 472.9 153.5 421.9 161.3 398.8 170.3 396.5 170.7 461.4 189.2 419.9 171.6 417.8 164.1 381.7 146.3 465.6 162.1 481.3 147.7 445.2 157.4 421.9 173.3 400.2 186.2 497.7 160.4 416.7 159.6 449.9 201.3 412.4 160.0 468.6 160.3 465.2 122.4 398.3 167.0 442.6 163.9 381.1 162.0 427.7 154.1 428.3 176.5 481.5 152.1 387.0 170.4 478.8 165.8 472.1 132.6 445.4 175.5 458.2 175.4 415.4 164.3 431.5 160.8 394.9 174.4 401.9 161.5 441.0 165.2 470.7 150.0 412.7 174.5 411.8 173.2 461.7 163.8 458.4 161.3 480.5 162.2 413.7 178.2 413.4 160.0 473.1 180.8 401.0 174.4 508.7 165.3 411.4 169.4 419.0 148.7 490.1 161.7 507.7 161.7 435.3 163.8 469.5 161.1 413.6 165.7 489.3 177.8 525.6 85.1 435.9 159.9 406.9 169.0 405.2 157.6 472.4 149.4 483.9 151.2 468.7 155.4 410.4 172.0 432.5 166.4 492.7 156.7 428.6 187.4 421.4 178.9 466.6 163.7 467.3 188.5 398.6 146.6 448.3 148.6 425.0 169.4 421.4 158.3 438.0 153.7 419.1 159.2 461.7 162.5 440.9 161.7 451.6 150.7 485.0 70.7 491.2 159.0 425.1 162.0 380.7 159.1 421.6 159.6 426.3 171.1 398.9 166.0 476.1 153.0 445.8 150.4 454.9 147.3 515.4 184.3 389.9 163.8 467.4 159.2 439.1 151.5 435.4 169.9 420.3 169.7 482.7 188.8 485.6 167.9 473.7 150.3 424.0 151.7 456.7 163.1 412.3 158.3 411.3 158.0 456.4 178.6 472.1 147.8 468.0 158.1 405.7 162.4 432.1 162.3 457.3 162.0 417.6 158.0 452.1 161.7 454.1 156.3 444.9 155.5 416.5 154.3 461.3 149.1 383.7 159.7 461.2 165.3 476.3 155.2 403.2 166.2 444.3 162.3 429.2 157.5 410.4 158.1 492.7 171.6 478.5 170.8 459.2 147.5 393.7 170.4 434.0 156.9 398.1 177.5 445.3 157.6 373.0 162.7 448.5 163.3 503.1 171.0 474.6 179.9 458.9 160.6 429.5 174.2 489.3 166.3 485.9 101.4 391.9 186.7 526.3 163.2 467.7 173.9 383.9 171.5 481.6 153.5 432.2 153.4 479.6 168.5 471.3 151.2 500.1 179.0 446.9 154.5 444.7 145.4 459.7 161.0 479.7 152.0 480.0 160.1 375.6 162.6 492.4 154.0 471.3 159.9 418.2 162.1 479.7 176.9 481.6 169.2 421.3 188.6 401.9 175.8 445.9 139.6 431.4 146.1 413.2 155.6 414.4 157.5 422.8 153.3 405.1 162.0 459.6 146.5 452.8 164.2 395.1 159.6 504.1 170.3 451.7 159.1 406.9 156.8 433.2 142.1 453.3 180.7 478.0 156.3 431.5 161.5 404.6 149.3 378.4 170.4 444.4 157.7 458.5 147.8 482.9 173.2 424.9 164.4 424.2 153.9 488.1 163.7 528.1 102.4 371.2 164.9 401.0 165.7 431.3 162.3 494.2 147.2 446.1 156.0 412.5 166.6 405.1 158.4 467.0 174.7 468.8 164.7 443.7 144.5 484.7 151.0 443.5 167.6 387.1 161.4 386.1 179.1 410.6 154.9 421.7 171.3 445.6 181.6 373.2 169.7 454.3 158.7 470.6 168.0 417.7 162.1 390.7 177.1 466.8 156.4 473.7 154.7 452.6 151.1 445.1 147.9 457.8 179.8 447.9 158.0 479.7 160.4 431.8 124.3 403.5 118.0 438.5 162.0 436.3 165.6 474.6 168.0 426.1 148.3 435.9 155.4 389.2 196.2 445.2 164.9 467.8 162.4 379.4 158.6 407.2 172.0 416.7 167.7 392.2 148.4 409.9 183.6 419.9 177.0 455.3 166.1 448.0 70.0 415.3 149.7 437.3 159.1 416.2 155.8 434.1 177.2 391.4 160.8 443.2 157.4 451.5 160.7 405.5 154.4 464.9 167.4 384.3 153.9 406.7 166.0 374.5 166.7 398.7 179.7 467.4 161.0 421.3 179.1 428.4 160.1 461.3 159.9 391.5 136.1 445.8 189.6 429.7 166.9 452.1 154.2 422.8 164.1 459.8 162.5 460.3 160.6 456.2 157.1 428.0 158.0 485.4 167.1 374.8 159.4 407.8 154.3 425.8 163.9 442.5 154.1 478.4 158.9 465.9 163.5 494.7 178.2 464.5 164.9 448.3 172.6 476.1 165.9 512.5 159.6 473.8 164.2 420.9 144.0 453.7 161.9 416.6 159.5 466.6 163.6 376.9 176.4 490.5 174.8 480.5 167.6 408.8 169.0 426.8 158.5 398.0 179.8 437.8 184.0 472.8 153.9 415.2 160.1 405.0 150.9 464.1 159.1 419.5 154.9 454.2 153.8 432.6 175.0 501.3 118.8 439.7 132.1 418.0 170.7 402.8 180.1 504.3 160.5 448.0 157.4 493.0 151.8 459.0 150.6 419.3 159.9 407.5 167.5 416.3 156.9 387.3 156.8 389.0 164.4 492.7 154.4 379.0 170.5 410.8 149.7 491.5 163.2 370.6 165.2 484.9 154.0 443.1 146.5 409.0 170.1 486.6 167.1 438.0 154.1 434.3 199.4 420.4 148.5 396.4 172.2 486.7 153.6 447.7 160.0 422.0 166.6 479.5 179.2 430.4 163.5 475.2 152.9 466.4 188.5 427.4 161.5 381.4 163.7 400.9 164.7 421.5 161.5 499.5 175.2 492.9 153.2 361.0 187.3 433.7 146.6 422.4 159.6 395.7 164.7 486.3 158.7 467.9 167.5 414.4 173.0 406.4 146.0 392.7 164.6 513.3 148.8 411.6 165.3 418.1 151.3 444.3 163.7 370.5 167.8 395.9 176.5 493.9 159.7 424.2 156.0 426.4 151.5 471.0 166.0 410.0 176.7 412.9 167.3 412.6 161.9 450.2 162.9 465.6 182.1 457.4 162.6 392.7 156.8 409.3 155.9 436.2 174.5 491.3 165.3 429.7 166.8 394.3 151.4 496.4 164.2 428.5 161.0 429.2 166.9 373.6 167.2 402.1 158.4 412.0 127.6 394.4 163.9 478.2 145.9 383.7 163.0 373.0 163.0 467.9 153.5 363.1 165.5 429.7 160.7 421.9 172.6 462.7 157.4 468.0 120.5 476.4 176.3 399.1 166.9 489.5 153.2 397.3 152.0 475.4 162.4 473.3 152.0 461.1 161.1 471.9 157.9 496.6 150.4 487.1 160.1 447.8 155.8 486.3 156.2 405.7 162.1 502.6 152.6 443.7 160.7 454.8 173.5 470.1 156.7 426.7 195.1 386.6 166.0 416.8 158.7 424.5 150.1 490.0 163.0 409.6 155.9 406.0 153.5 485.7 163.4 436.6 162.6 428.0 157.7 399.2 154.6 422.6 161.0 392.9 162.8 471.7 168.1 452.4 181.9 529.5 139.5 400.1 188.4 403.2 158.5 477.9 164.9 420.1 168.7 479.3 168.3 469.6 159.2 428.7 157.8 464.5 138.3 494.1 173.4 429.1 154.1 412.4 168.8 509.7 157.0 421.9 162.7 417.3 171.6 483.1 158.3 464.7 162.0 420.3 151.9 412.2 164.9 425.0 154.1 384.2 171.1 410.5 166.9 466.6 155.6 422.9 170.0 411.4 163.3 425.3 169.5 446.8 160.6 451.2 158.0 419.7 144.2 477.9 149.4 470.9 160.2 394.2 192.2 409.8 191.5 403.3 160.2 390.5 162.9 460.7 146.4 482.7 158.6 471.9 162.2 494.9 165.2 452.4 169.4 403.3 179.9 455.4 168.9 480.4 176.4 432.2 161.7 404.9 174.0 466.3 194.2 425.2 155.8 390.7 163.5 470.2 164.4 473.1 159.3 469.1 179.8 408.5 103.3 480.5 167.9 471.5 171.1 419.2 152.9 450.2 148.0 433.4 175.8 466.7 167.6 408.3 154.9 495.8 188.3 398.5 185.7 414.9 164.9 424.2 168.2 467.0 171.3 455.0 175.5 410.3 154.4 506.0 163.6 419.3 106.2 452.7 159.2 420.6 178.3 458.7 170.8 496.1 175.1 414.3 162.9 439.4 164.0 401.2 160.7 468.3 166.6 392.5 164.1 377.9 154.3 417.1 165.4 394.4 158.9 411.9 160.0 364.7 166.3 487.6 152.2 406.6 179.5 451.6 152.6 459.8 184.8 400.8 176.7 421.7 155.5 521.1 162.2 399.4 160.4 457.9 161.2 501.5 157.0 493.5 160.2 503.7 176.7 478.5 173.2 405.2 146.8 450.5 152.8 415.5 144.4 442.3 155.3 446.0 114.7 442.4 178.0 420.8 156.6 477.4 157.9 416.6 155.5 418.0 161.3 447.0 157.1 430.4 146.6 452.3 189.8 402.9 164.5 403.2 168.0 406.6 154.1 399.2 166.3 399.8 160.2 488.0 146.9 397.8 159.7 487.2 156.1 420.3 159.4 443.1 160.8 454.2 161.4 408.6 180.7 463.2 160.9 473.7 157.7 426.3 182.2 419.9 156.5 466.9 154.7 437.2 161.1 443.9 155.5 494.8 163.9 361.1 176.4 457.8 206.9 423.6 85.0 356.4 159.2 413.0 174.7 474.9 173.3 403.7 149.2 397.2 161.6 410.6 165.1 492.4 155.5 427.1 159.4 488.5 176.8 460.0 162.7 462.1 161.4 454.8 157.1 497.3 154.2 419.0 151.9 458.6 172.6 496.5 156.8 415.6 163.8 451.6 146.9 429.3 166.4 382.0 156.7 465.6 146.1 413.5 182.1 436.9 166.6 439.7 163.4 442.5 152.1 452.1 159.6 448.8 154.3 417.9 165.7 487.8 196.6 405.6 158.7 503.7 168.5 469.7 179.8 455.6 151.4 453.5 157.3 383.7 158.6 410.6 178.5 439.9 158.4 466.1 172.3 425.8 159.2 382.0 160.3 499.4 173.2 470.0 157.7 418.9 165.6 490.2 157.2 428.0 181.5 488.8 156.7 452.2 170.4 495.3 152.5 459.0 176.5 448.3 157.4 513.6 159.8 462.4 154.9 433.7 162.8 473.7 157.8 393.7 164.8 443.4 149.6 418.0 98.4 408.2 167.1 425.0 182.3 407.1 74.6 415.6 171.7 469.2 151.9 450.2 160.9 372.3 167.5 480.1 153.9 418.2 159.6 420.7 160.1 411.5 194.1 440.6 168.5 458.1 172.1 496.1 152.9 438.0 160.9 488.4 179.4 418.4 164.6 457.7 162.9 379.1 168.5 400.2 176.3 436.6 174.1 487.8 181.3 480.6 133.6 392.2 151.4 422.6 162.4 426.7 161.5 381.5 130.1 382.1 163.0 463.6 66.2 474.1 166.3 491.3 114.4 382.2 162.6 384.6 175.3 458.6 159.7 425.2 158.1 426.1 154.5 419.9 162.8 433.7 154.7 480.9 148.6 489.1 165.2 492.0 142.2 464.4 159.7 409.3 163.9 465.1 181.4 459.3 157.5 503.0 153.7 469.5 165.1 413.8 189.4 431.8 162.5 488.3 178.8 436.1 153.2 434.1 172.7 480.6 160.0 481.9 155.4 413.1 151.4 428.3 172.2 384.9 166.6 393.2 163.6 414.3 96.4 503.4 174.2 475.8 184.8 435.9 180.5 474.4 154.5 422.8 155.0 378.6 179.8 476.7 174.9 505.6 145.7 403.6 177.8 435.4 163.5 443.2 160.4 442.4 184.7 435.4 156.9 459.6 172.9 472.2 149.9 387.5 159.3 461.1 187.3 446.8 158.7 388.5 163.3 439.5 185.6 414.2 169.9 445.5 159.4 459.6 149.0 518.2 162.8 467.4 157.7 490.0 154.5 498.8 164.3 469.6 167.2 484.3 174.4 460.0 157.0 474.2 157.2 438.7 156.2 463.6 159.0 458.8 166.3 436.0 156.5 408.9 153.6 455.3 160.0 438.7 158.1 397.6 181.2 399.2 171.1 441.0 157.7 463.8 159.2 442.0 171.6 399.2 155.6 493.3 178.0 429.7 173.9 381.5 163.6 450.3 149.7 431.6 163.1 454.4 172.3 467.9 148.4 429.2 159.6 480.3 161.1 445.1 165.2 500.8 155.4 472.8 177.9 461.5 159.6 474.0 183.8 456.6 173.2 463.5 160.0 495.8 165.9 419.4 153.5 487.6 176.1 430.5 170.7 404.3 161.2 390.2 164.4 394.8 165.9 476.1 158.3 462.0 167.8 426.9 156.3 522.9 137.1 421.3 164.4 408.4 170.2 421.2 164.8 409.7 150.5 489.7 167.1 372.6 165.6 466.0 146.0 386.3 164.7 472.9 158.5 503.2 147.1 472.0 153.9 451.3 162.0 453.8 157.6 447.6 160.6 481.2 116.9 453.7 158.9 380.3 147.8 493.2 158.5 448.4 77.7 474.8 159.2 489.9 181.8 514.4 161.5 484.7 158.0 431.9 153.7 430.9 183.1 429.9 161.6 421.2 161.2 403.0 161.5 460.2 156.8 394.7 154.9 464.3 190.8 437.3 182.0 488.4 166.1 387.7 177.7 434.5 172.5 441.3 157.4 452.2 175.6 414.3 170.4 424.9 184.8 394.0 178.9 393.5 151.0 434.4 183.4 380.9 183.8 407.5 166.4 432.3 155.6 451.7 157.9 479.4 155.7 480.9 146.6 449.3 165.1 411.0 166.2 399.3 163.2 381.0 152.0 469.3 184.4 408.1 152.4 398.5 165.4 410.8 163.0 440.1 154.6 389.1 165.2 472.9 161.9 446.2 163.7 461.6 176.0 462.2 165.3 455.7 151.4 405.1 150.6 393.8 168.4 412.8 176.5 492.0 172.9 489.2 171.2 518.0 149.6 497.5 149.6 438.0 155.3 440.6 157.5 461.3 171.2 439.9 166.4 416.8 152.5 417.7 166.6 414.3 172.3 454.2 163.0 367.8 155.4 492.8 161.8 459.1 173.7 420.5 165.4 396.5 152.9 454.5 152.3 447.5 152.1 407.4 173.5 473.5 135.4 492.1 129.5 465.3 166.3 453.7 155.3 418.8 134.7 443.0 184.7 368.8 174.7 491.2 158.1 425.7 157.7 421.9 179.2 471.0 149.7 454.8 164.9 429.3 170.7 359.6 162.3 413.7 155.9 400.5 178.0 408.7 166.4 405.2 166.4 455.3 170.0 360.6 181.7 422.9 165.6 470.5 159.1 387.1 159.5 408.1 162.4 376.3 158.4 486.6 163.0 438.6 149.5 459.9 150.0 440.0 163.0 450.9 170.5 501.1 157.7 403.8 149.3 464.7 164.0 441.8 162.0 430.4 157.4 481.1 186.3 465.9 153.5 407.6 154.0 397.8 159.7 466.4 173.4 383.7 161.8 415.2 161.0 396.3 165.4 458.0 178.3 404.8 163.0 454.3 187.1 487.6 151.1 466.2 171.3 464.0 168.0 407.0 163.4 494.3 161.5 402.2 181.1 434.9 165.4 491.1 155.3 449.7 165.3 450.6 156.8 408.2 169.0 372.4 183.6 427.5 164.3 450.2 118.5 414.1 163.4 449.5 185.4 398.3 151.3 500.2 172.7 494.9 166.1 429.3 166.9 444.5 164.4 433.5 160.7 413.6 145.4 455.8 160.0 373.6 166.2 473.0 170.1 414.4 148.1 466.6 151.7 413.7 162.0 428.8 170.4 464.2 161.1 482.1 179.2 426.2 168.5 475.2 163.2 416.7 162.9 462.3 178.8 494.8 166.5 488.5 162.1 499.1 148.4 417.9 166.8 461.8 151.7 478.8 153.2 383.6 161.1 405.1 162.3 498.5 151.9 426.9 173.3 398.2 147.4 409.0 159.9 486.8 156.5 479.8 152.7 456.9 85.6 429.8 154.7 392.5 166.4 407.5 169.3 464.2 154.7 392.8 167.2 441.3 179.1 435.5 165.1 480.4 165.3 461.6 157.2 440.8 157.1 398.6 171.0 463.4 163.6 426.4 161.5 417.1 181.4 376.2 145.7 487.7 158.5 474.0 163.2 396.6 155.8 431.2 180.7 424.6 173.5 416.9 170.7 435.5 159.6 450.7 166.4 447.1 188.0 434.0 162.5 395.6 161.2 367.6 167.1 420.8 157.8 470.2 184.7 462.9 168.4 493.6 170.4 486.0 172.5 469.6 170.5 493.4 164.3 478.8 160.7 491.0 172.6 444.6 183.0 475.6 176.4 472.0 197.4 419.5 176.0 408.7 164.7 434.1 114.5 397.0 159.4 464.5 178.0 480.2 160.2 496.2 171.2 466.0 152.2 429.8 159.5 486.6 160.5 396.7 156.5 424.2 161.9 410.0 168.0 473.7 146.7 493.2 192.9 396.1 150.8 452.0 178.9 477.2 144.9 438.6 165.0 414.9 166.9 382.6 159.8 468.9 158.4 401.8 161.3 429.0 156.0 451.8 166.5 422.5 160.1 452.9 159.9 369.7 157.5 498.9 158.8 470.4 159.6 461.3 158.4 465.5 151.1 433.3 165.7 427.3 158.7 496.2 154.9 476.2 178.3 476.3 166.5 500.3 157.3 370.7 167.4 401.8 158.0 429.7 157.7 423.1 162.3 396.0 154.3 412.4 181.4 481.0 160.4 427.1 161.7 466.4 170.9 461.1 155.3 454.0 170.4 454.7 161.4 481.5 158.0 431.1 167.9 420.6 159.8 485.2 148.4 391.2 166.8 373.6 152.7 485.1 188.6 418.3 148.2 397.4 158.3 475.4 164.1 464.4 169.1 513.9 183.7 360.3 153.7 408.1 171.0 430.2 146.5 458.2 164.7 407.1 156.4 477.8 163.4 461.6 160.2 451.1 141.0 447.2 174.3 506.3 162.2 450.5 152.9 371.8 160.4 454.3 184.7 404.1 167.3 416.6 161.8 414.1 162.6 408.7 159.1 431.5 172.7 361.7 191.2 439.8 153.6 458.6 175.9 407.1 152.3 437.0 156.2 482.2 123.9 483.6 165.1 437.7 153.8 407.7 162.1 401.6 168.3 448.6 124.3 445.4 159.3 388.5 159.8 417.2 158.0 466.4 149.9 483.5 165.6 460.5 148.9 427.4 158.4 433.1 157.6 452.9 162.1 441.7 165.4 361.4 150.9 415.6 146.9 509.0 159.5 426.8 174.5 457.1 161.9 393.3 158.5 419.6 173.8 393.2 167.4 366.3 153.7 478.2 162.8 341.8 167.6 441.8 153.9 502.6 155.5 461.9 163.1 435.3 168.8 403.0 163.2 450.7 140.5 480.1 152.8 361.6 158.7 382.7 165.7 411.3 157.1 476.5 164.3 402.4 167.7 420.3 167.2 446.4 154.0 437.5 160.2 486.8 165.8 399.1 131.6 390.4 164.5 472.2 154.4 414.9 172.8 468.7 175.9 458.5 146.2 436.6 173.8 478.7 145.6 482.4 154.0 495.6 148.2 433.4 182.3 469.3 168.3 394.0 137.3 505.3 160.6 455.1 157.9 447.7 157.7 403.8 161.7 443.1 162.8 476.6 181.8 462.4 160.0 484.2 137.5 408.4 160.2 466.6 156.3 420.7 161.7 501.1 164.5 443.8 167.3 475.7 151.3 455.1 160.6 454.4 165.4 482.8 161.8 439.5 160.8 414.9 167.0 470.7 162.1 456.9 154.5 464.2 159.5 435.6 153.9 456.8 165.1 430.2 158.8 409.6 177.4 412.0 163.0 487.5 155.9 479.7 157.2 432.5 142.4 421.2 151.5 383.7 151.6 388.2 162.2 470.6 157.3 422.9 164.7 493.9 179.8 482.2 158.8 480.6 160.8 413.3 161.9 458.0 146.4 413.0 164.5 466.7 145.4 423.6 162.7 409.6 159.1 404.4 170.1 450.4 163.9 408.1 171.5 499.6 167.7 422.3 172.0 401.5 172.9 440.3 160.4 452.8 161.5 406.9 163.0 434.5 172.0 454.3 170.3 398.6 157.8 465.4 164.8 429.1 157.2 494.9 160.5 388.4 166.9 478.1 163.8 441.6 183.4 487.7 158.2 470.7 155.5 516.8 167.3 430.4 151.0 435.6 152.9 429.8 160.5 494.5 87.7 446.3 151.9 502.6 157.3 448.5 153.2 409.4 161.3 407.5 198.2 459.3 172.4 488.2 176.4 448.9 152.7 398.6 95.5 402.3 156.0 432.8 159.0 420.4 167.5 437.7 197.6 387.8 157.7 411.3 157.1 475.9 157.1 420.5 157.9 376.9 160.9 416.1 175.9 450.9 171.7 485.9 158.7 420.1 157.6 422.2 151.2 390.4 158.2 456.6 168.6 468.5 173.8 449.1 157.3 455.0 159.7 418.0 185.8 469.2 166.1 414.7 159.3 468.7 131.9 415.0 172.3 475.8 148.4 381.3 156.7 460.4 184.5 390.9 167.2 403.0 150.4 390.3 159.7 418.1 154.2 454.6 111.9 424.0 158.2 432.2 175.5 369.8 169.5 433.5 180.1 417.6 150.3 423.2 157.9 498.7 159.2 403.8 152.8 375.6 164.7 409.5 156.8 470.8 148.2 480.7 173.8 383.0 159.9 416.4 171.2 464.9 169.4 492.6 172.3 394.6 168.1 505.7 159.3 464.5 150.2 479.9 172.6 487.3 156.9 457.1 156.3 460.1 167.2 460.3 150.0 383.6 154.2 463.8 160.8 385.9 165.9 462.1 164.2 505.0 152.3 375.9 151.8 535.2 161.2 440.4 176.2 358.9 169.9 445.8 157.4 502.3 159.0 487.6 155.0 451.2 153.2 370.0 163.4 441.3 178.4 432.5 177.6 410.6 161.8 495.7 150.0 467.1 157.7 428.7 165.5 467.2 164.7 456.0 166.2 467.5 117.0 400.8 114.1 364.5 169.1 425.0 128.6 452.9 156.4 418.2 156.2 422.4 151.2 482.1 158.3 495.5 157.0 426.6 150.6 476.0 146.3 436.4 162.5 429.0 184.1 466.3 153.7 420.5 168.7 441.0 173.9 377.6 162.7 423.0 162.8 407.5 179.2 461.7 156.5 518.6 155.9 421.3 167.4 473.2 135.6 422.1 167.3 392.0 167.8 414.2 158.4 461.0 160.3 416.7 160.8 458.2 163.0 377.8 166.0 389.0 159.8 492.5 157.9 406.2 142.2 443.9 162.0 401.9 158.5 410.5 163.6 500.0 100.6 397.7 164.4 402.0 160.1 480.1 162.2 424.4 169.6 459.6 160.2 380.2 161.2 456.0 154.2 400.2 161.3 392.9 154.4 409.0 159.2 487.8 163.1 494.0 151.1 485.7 149.1 470.2 167.1 405.1 155.6 447.0 160.2 454.4 158.5 483.9 164.0 396.7 152.3 432.0 164.3 377.8 161.6 378.4 155.9 426.9 155.4 485.8 170.1 466.9 168.6 456.5 155.6 512.0 160.6 387.9 156.9 445.0 159.0 472.1 151.3 471.6 153.5 462.8 168.4 432.1 165.7 446.2 167.7 491.6 151.1 484.3 148.0 454.6 160.2 480.1 110.3 412.9 161.2 484.4 144.0 409.6 151.8 465.9 138.7 469.1 150.8 448.9 150.8 449.0 156.6 450.6 164.5 445.6 163.1 385.5 118.4 434.7 166.7 472.3 162.6 413.9 161.5 421.9 157.2 412.1 157.7 473.4 146.2 413.8 158.9 389.8 165.5 442.8 159.2 427.0 161.8 380.8 144.1 468.6 153.7 357.9 158.7 467.5 160.1 390.4 165.2 433.1 157.8 383.5 175.9 501.6 159.9 392.0 159.3 461.2 165.0 421.8 162.4 443.3 167.5 431.0 167.3 469.9 158.4 472.3 155.9 411.5 148.2 399.9 180.2 401.6 151.0 441.2 159.7 412.0 185.7 434.5 158.5 445.5 158.5 433.8 158.8 435.5 151.6 455.7 139.4 397.7 159.1 488.5 180.6 414.0 168.4 511.6 160.8 438.5 182.5 392.1 146.6 400.7 151.2 476.4 160.6 480.9 176.2 509.7 155.6 405.8 167.0 462.4 164.7 489.1 152.8 455.1 185.1 417.8 167.0 443.7 154.9 506.9 174.2 412.6 178.0 411.6 164.1 420.8 156.2 391.8 163.4 373.6 162.1 422.9 173.3 383.3 177.8 426.2 159.3 398.0 151.0 484.3 168.3 404.3 176.4 422.8 158.3 470.4 148.9 389.9 148.2 405.1 157.4 494.0 182.7 422.1 151.6 382.8 155.9 422.5 179.6 373.4 160.3 510.0 155.1 387.9 162.0 424.9 168.2 405.1 169.5 424.3 181.1 489.4 148.6 420.1 155.7 463.0 154.2 472.6 147.1 445.1 156.7 463.0 157.3 499.0 182.1 512.5 162.8 455.3 167.8 528.8 157.2 439.1 179.4 460.5 185.0 488.0 161.3 441.7 171.0 376.1 156.5 490.3 172.6 472.9 165.8 495.3 188.7 437.3 150.6 468.5 149.6 425.5 170.2 454.3 155.3 476.1 162.7 385.7 165.2 473.0 167.0 427.4 172.7 454.7 157.7 380.6 161.8 397.3 164.6 454.9 154.5 422.0 161.7 436.0 153.8 391.0 158.1 478.4 130.1 434.8 172.3 401.5 157.3 404.3 158.6 389.5 154.4 399.1 164.7 399.3 163.8 425.8 157.8 431.1 177.0 456.6 150.1 401.3 151.4 421.7 163.9 485.6 180.1 353.0 172.1 486.0 170.2 432.2 111.3 410.6 183.2 419.1 166.8 453.6 166.5 475.8 156.9 406.3 174.6 432.7 174.0 459.3 158.8 425.6 179.7 429.6 148.2 417.6 170.4 414.4 164.0 435.6 177.9 424.9 157.4 441.5 172.2 390.5 164.3 395.9 160.1 409.8 160.2 408.4 153.3 423.2 161.4 427.6 155.6 426.8 176.8 434.3 157.4 398.5 182.4 397.6 168.5 477.2 134.4 464.7 150.7 380.7 158.8 464.7 157.1 491.4 166.1 418.7 174.4 426.2 161.0 449.1 152.9 492.6 155.5 387.5 177.1 445.3 165.6 411.1 158.4 423.5 164.0 457.3 162.4 451.0 156.3 464.5 183.8 430.6 171.9 482.6 156.2 433.1 170.3 392.4 110.4 481.4 170.2 401.8 154.3 429.6 74.5 396.9 148.9 417.2 161.8 460.6 157.6 388.8 189.2 450.1 172.5 439.6 157.9 436.9 161.6 484.4 145.1 401.1 169.2 437.5 160.9 511.5 158.1 506.4 167.9 448.1 155.9 471.3 158.5 469.6 166.8 433.3 160.7 390.3 181.3 445.7 145.9 419.4 159.1 489.8 163.9 455.5 164.9 402.2 161.4 415.1 186.3 451.0 163.2 382.9 152.7 478.5 151.0 415.5 156.2 462.5 183.6 418.3 159.7 443.5 160.4 429.6 170.3 395.8 170.9 400.9 152.4 434.0 170.4 452.4 157.9 396.9 116.3 435.6 158.9 468.3 154.9 510.1 160.0 377.4 160.5 450.3 169.3 470.3 162.8 426.4 152.0 481.1 139.1 458.7 148.4 365.8 158.5 487.3 140.7 435.7 192.0 521.2 183.6 443.5 173.6 401.9 117.3 405.9 160.7 448.1 167.2 473.4 155.0 434.6 162.1 430.6 155.9 411.1 161.7 382.5 179.5 447.3 157.4 467.9 157.4 443.5 160.4 471.1 162.9 449.0 148.5 472.5 123.7 453.5 174.4 489.5 162.7 489.8 151.7 435.9 152.2 448.8 165.8 426.3 162.2 545.9 176.9 465.0 169.5 384.5 192.9 407.1 162.9 436.6 167.2 456.9 179.9 403.2 169.7 439.9 166.4 474.9 168.7 506.5 141.1 391.2 115.5 440.3 166.0 456.5 109.0 414.2 172.0 438.0 180.7 356.0 152.8 424.1 161.8 453.3 185.9 414.9 165.6 409.3 155.5 383.4 198.8 433.1 200.0 435.1 160.9 492.3 96.8 442.7 119.4 437.9 163.7 430.8 169.3 406.6 164.3 483.0 167.2 427.8 185.0 403.5 171.6 441.3 165.2 406.2 165.8 413.2 151.8 415.1 172.7 432.8 158.4 402.4 164.1 459.0 158.1 397.5 119.0 396.1 160.8 406.2 164.4 487.6 158.9 464.2 162.9 431.9 159.1 441.3 174.3 411.1 159.0 427.4 170.8 498.4 160.1 424.4 159.4 420.0 168.9 422.2 171.5 392.8 164.6 467.5 138.7 417.0 167.6 442.5 154.2 455.6 165.6 456.7 171.6 440.3 157.9 503.1 157.6 470.2 163.0 409.9 162.1 480.0 157.1 396.4 167.7 478.2 150.2 402.7 148.0 398.1 157.3 407.2 168.2 523.4 153.1 468.2 158.1 507.0 163.9 468.9 159.6 409.3 158.0 378.8 170.0 449.0 171.9 367.4 186.5 491.0 165.7 436.0 161.0 472.8 162.8 422.6 168.4 467.2 161.8 402.2 111.5 462.4 150.8 442.2 168.8 494.3 157.1 470.0 155.7 479.7 154.5 423.2 110.7 407.8 172.8 385.5 170.0 460.7 170.0 422.7 160.9 356.2 169.0 397.6 180.8 412.5 164.4 437.6 171.6 432.2 121.2 485.3 151.4 469.5 149.7 456.7 154.9 476.0 164.5 440.9 151.4 402.0 170.6 382.1 155.6 482.0 166.3 482.0 155.0 450.4 166.4 451.5 167.1 441.2 145.7 419.0 156.9 418.6 149.4 374.8 161.5 507.1 165.8 416.0 177.7 394.5 161.4 445.4 160.9 483.2 172.1 411.7 157.7 433.4 160.2 446.9 167.6 463.8 141.4 471.7 173.2 459.0 164.6 488.3 156.1 498.2 155.8 462.9 155.8 447.3 158.9 508.4 154.4 433.2 113.1 397.0 158.7 464.7 150.7 438.1 155.7 531.4 151.5 512.9 157.3 433.8 165.5 494.4 156.6 453.3 155.0 428.8 163.9 391.8 162.4 447.9 157.9 425.0 161.1 434.1 91.5 437.0 159.7 421.1 161.4 403.4 157.2 495.6 163.3 451.8 169.0 410.3 162.0 429.7 163.5 499.9 160.1 485.2 162.7 393.8 171.9 470.3 154.1 425.7 157.8 486.9 158.7 446.0 164.3 389.6 146.5 467.2 158.6 403.9 164.1 470.7 151.0 461.7 158.7 388.3 162.0 455.1 165.4 408.4 157.2 469.4 169.9 416.3 165.5 457.3 155.0 402.3 141.7 403.3 173.5 533.4 158.5 428.3 125.0 455.1 162.7 408.6 175.0 477.1 160.8 475.9 150.8 366.0 150.0 415.7 158.4 410.8 148.7 377.6 171.7 419.7 146.7 484.4 151.8 439.6 179.1 458.7 167.2 421.5 163.0 447.3 158.8 441.2 162.2 479.6 168.0 458.2 154.3 372.2 169.4 450.4 149.4 496.0 177.8 441.2 178.9 421.1 127.3 492.5 168.0 459.7 163.1 505.5 138.3 440.7 168.8 394.8 157.9 494.7 176.9 486.9 158.7 423.4 166.5 470.9 166.0 494.5 163.8 446.8 161.3 504.0 190.2 399.8 144.7 474.9 165.8 492.4 167.0 475.6 155.7 458.7 159.4 408.5 156.3 420.2 163.1 392.9 156.2 452.5 153.4 472.8 150.3 465.3 166.0 463.0 175.3 427.9 162.9 498.6 159.6 500.6 163.3 408.2 156.5 482.9 158.9 518.4 162.4 456.8 174.4 502.8 161.5 459.5 156.0 399.8 165.8 417.1 158.1 343.7 159.7 492.1 165.7 455.6 153.4 437.2 112.9 405.5 161.6 512.1 178.0 447.7 178.2 441.2 163.1 391.8 144.9 401.2 176.5 449.0 174.7 418.2 165.2 476.5 161.9 356.7 162.2 426.0 156.9 385.0 188.6 405.8 155.7 492.8 194.0 416.4 177.4 482.8 165.2 409.7 142.5 409.2 166.6 492.4 168.2 384.6 150.9 417.9 168.4 394.5 183.1 364.3 171.7 397.4 170.6 434.7 165.0 435.1 166.7 408.1 111.6 454.7 157.9 466.0 159.1 437.9 162.7 398.8 145.7 429.6 155.2 392.8 167.3 434.1 165.5 384.3 163.0 518.0 151.4 445.8 166.5 472.0 183.5 428.7 158.5 465.0 163.0 421.2 162.4 403.0 177.2 427.4 183.1 482.7 150.2 449.0 161.5 479.5 151.8 528.3 149.2 401.3 159.1 481.9 152.7 430.4 171.2 421.3 161.5 373.5 160.2 373.7 156.5 464.7 160.5 423.4 163.8 438.8 176.8 415.2 169.1 464.8 145.4 408.8 167.2 381.5 179.6 497.4 162.9 396.2 178.5 471.2 168.3 391.6 160.5 460.9 152.5 428.7 159.4 410.1 156.0 481.6 174.4 391.8 168.0 404.0 153.9 461.2 168.6 460.5 159.1 515.2 165.0 488.8 154.8 385.3 159.6 465.6 148.3 483.8 147.6 462.2 158.6 449.8 171.1 405.4 166.7 447.8 158.7 505.5 158.8 417.3 183.3 443.4 162.4 408.1 163.9 385.4 157.2 436.2 157.1 474.8 96.0 454.0 159.9 482.0 165.4 453.4 149.9 412.8 158.4 446.8 158.7 364.1 181.2 423.9 180.4 479.0 175.3 408.6 181.1 414.2 173.4 496.1 164.5 384.0 172.6 446.7 172.6 427.9 177.1 465.7 167.8 391.2 169.7 468.9 166.5 458.5 150.7" fill="none" marker-start="url(#mB10)" marker-mid="url(#mB10)" marker-end="url(#mB10)"/></g>
<path d="M335.0 126.4 340.8 127.7 346.6 128.9 352.5 130.0 358.3 131.1 364.1 132.1 369.9 133.0 375.8 133.9 381.6 134.7 387.4 135.4 393.2 136.1 399.1 136.7 404.9 137.3 410.7 137.8 416.5 138.2 422.3 138.6 428.2 138.9 434.0 139.1 439.8 139.3 445.6 139.4 451.5 139.5 457.3 139.5 463.1 139.4 468.9 139.3 474.8 139.1 480.6 138.9 486.4 138.6 492.2 138.3 498.0 137.9 503.9 137.4 509.7 136.9 515.5 136.4 521.3 135.7 527.2 135.1 533.0 134.3 538.8 133.6 544.6 132.7 550.5 131.9 556.3 130.9 562.1 129.9 562.1 136.3 556.3 137.0 550.5 137.6 544.6 138.2 538.8 138.8 533.0 139.3 527.2 139.8 521.3 140.3 515.5 140.7 509.7 141.0 503.9 141.4 498.0 141.7 492.2 142.0 486.4 142.2 480.6 142.4 474.8 142.5 468.9 142.6 463.1 142.7 457.3 142.7 451.5 142.7 445.6 142.6 439.8 142.5 434.0 142.4 428.2 142.2 422.3 141.9 416.5 141.7 410.7 141.3 404.9 141.0 399.1 140.5 393.2 140.1 387.4 139.6 381.6 139.0 375.8 138.4 369.9 137.8 364.1 137.1 358.3 136.3 352.5 135.5 346.6 134.6 340.8 133.7 335.0 132.8Z" fill="#999" fill-opacity="0.22"/><path d="M335.0 129.6 340.8 130.7 346.6 131.8 352.5 132.8 358.3 133.7 364.1 134.6 369.9 135.4 375.8 136.2 381.6 136.9 387.4 137.5 393.2 138.1 399.1 138.6 404.9 139.1 410.7 139.6 416.5 139.9 422.3 140.3 428.2 140.5 434.0 140.7 439.8 140.9 445.6 141.0 451.5 141.1 457.3 141.1 463.1 141.1 468.9 141.0 474.8 140.8 480.6 140.6 486.4 140.4 492.2 140.1 498.0 139.8 503.9 139.4 509.7 139.0 515.5 138.5 521.3 138.0 527.2 137.4 533.0 136.8 538.8 136.2 544.6 135.5 550.5 134.7 556.3 134.0 562.1 133.1" stroke="#a8a8a8" stroke-width="3.4" fill="none" stroke-linejoin="round"/><path d="M335.0 146.9 347.0 147.1 358.9 147.3 370.9 147.5 382.8 147.6 394.8 147.7 406.7 147.7 418.7 147.8 430.6 147.7 442.6 147.7 454.5 147.6 466.5 147.5 478.4 147.3 490.4 147.1 502.3 146.9 514.3 146.6 526.2 146.3 538.2 146.0 550.1 145.6 562.1 145.2 562.1 151.6 550.1 151.4 538.2 151.2 526.2 151.0 514.3 150.9 502.3 150.8 490.4 150.8 478.4 150.7 466.5 150.8 454.5 150.8 442.6 150.9 430.6 151.0 418.7 151.2 406.7 151.4 394.8 151.6 382.8 151.9 370.9 152.2 358.9 152.5 347.0 152.9 335.0 153.3Z" fill="#999" fill-opacity="0.22"/><path d="M335.0 150.1 347.0 150.0 358.9 149.9 370.9 149.8 382.8 149.7 394.8 149.7 406.7 149.6 418.7 149.5 430.6 149.4 442.6 149.3 454.5 149.2 466.5 149.1 478.4 149.0 490.4 148.9 502.3 148.8 514.3 148.8 526.2 148.7 538.2 148.6 550.1 148.5 562.1 148.4" stroke="#00c400" stroke-width="3.4" fill="none" stroke-linejoin="round"/><path d="M335.0 155.4 347.0 155.6 358.9 155.7 370.9 155.8 382.8 155.9 394.8 155.9 406.7 155.9 418.7 155.8 430.6 155.7 442.6 155.6 454.5 155.5 466.5 155.3 478.4 155.1 490.4 154.8 502.3 154.5 514.3 154.2 526.2 153.8 538.2 153.4 550.1 153.0 562.1 152.5 562.1 158.9 550.1 158.7 538.2 158.6 526.2 158.5 514.3 158.4 502.3 158.4 490.4 158.4 478.4 158.5 466.5 158.6 454.5 158.7 442.6 158.8 430.6 159.0 418.7 159.2 406.7 159.5 394.8 159.8 382.8 160.1 370.9 160.5 358.9 160.9 347.0 161.3 335.0 161.8Z" fill="#999" fill-opacity="0.22"/><path d="M335.0 158.6 347.0 158.4 358.9 158.3 370.9 158.1 382.8 158.0 394.8 157.8 406.7 157.7 418.7 157.5 430.6 157.4 442.6 157.2 454.5 157.1 466.5 156.9 478.4 156.8 490.4 156.6 502.3 156.5 514.3 156.3 526.2 156.2 538.2 156.0 550.1 155.9 562.1 155.7" stroke="#004f00" stroke-width="3.2" fill="none" stroke-linejoin="round"/>
</g>
<rect x="324" y="22" width="248" height="243" fill="none" stroke="#4a4a4a" stroke-width="1.6"/>
<path d="M339.20 265v3.3M396.85 265v3.3M454.50 265v3.3M512.15 265v3.3M569.80 265v3.3M324 220.03h-3.3M324 149.13h-3.3M324 78.23h-3.3" stroke="#333" stroke-width="1.1" fill="none"/>
<text class="tk" x="339.20" y="277.6" text-anchor="middle">0</text>
<text class="tk" x="396.85" y="277.6" text-anchor="middle">10</text>
<text class="tk" x="454.50" y="277.6" text-anchor="middle">20</text>
<text class="tk" x="512.15" y="277.6" text-anchor="middle">30</text>
<text class="tk" x="569.80" y="277.6" text-anchor="middle">40</text>
<text class="tk" x="318.90" y="224.13" text-anchor="end">-2</text>
<text class="tk" x="318.90" y="153.23" text-anchor="end">0</text>
<text class="tk" x="318.90" y="82.33" text-anchor="end">2</text>
<text class="tt" x="448.00" y="290.8" text-anchor="middle">PWS Average Maximum Daily Temperature (C)</text>
<text class="tt" style="font-size:11.7px" transform="translate(303.7 143.1) rotate(-90)" text-anchor="middle">PWS Maximum Temperature Anomaly (C)</text>
<text x="291.0" y="11.9" style="font-size:15px;font-weight:bold">b</text>
<text class="tt" x="218.6" y="318">Decile</text>
<rect x="256" y="304.2" width="17" height="17.5" fill="#d6d6d6"/>
<path d="M257.2 313.2h14.6" stroke="#9c9c9c" stroke-width="3.4"/>
<text class="lg" x="279.4" y="317.2">1</text>
<rect x="290" y="304.2" width="17" height="17.5" fill="#d6d6d6"/>
<path d="M291.2 313.2h14.6" stroke="#00c400" stroke-width="3.4"/>
<text class="lg" x="313.4" y="317.2">5</text>
<rect x="324.8" y="304.2" width="17" height="17.5" fill="#d6d6d6"/>
<path d="M326.0 313.2h14.6" stroke="#004f00" stroke-width="3.4"/>
<text class="lg" x="348.2" y="317.2">10</text>
</svg></body></html>
